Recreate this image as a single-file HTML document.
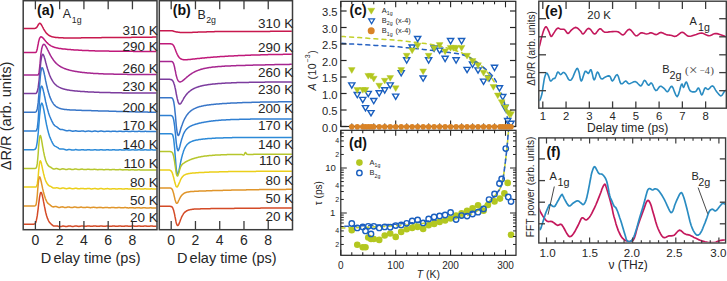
<!DOCTYPE html>
<html><head><meta charset="utf-8"><title>figure</title>
<style>
html,body{margin:0;padding:0;background:#fff;}
body{width:727px;height:281px;overflow:hidden;}
svg{display:block;}
</style></head>
<body>
<svg width="727" height="281" viewBox="0 0 727 281">
<rect width="727" height="281" fill="#fff"/>
<defs>
<clipPath id="clipA"><rect x="23.9" y="1.4" width="132.4" height="227.6"/></clipPath>
<clipPath id="clipB"><rect x="160" y="1.4" width="131.8" height="227.6"/></clipPath>
<clipPath id="clipC"><rect x="341.4" y="1.9" width="173.8" height="124"/></clipPath>
<clipPath id="clipD"><rect x="341.4" y="130.9" width="174" height="124"/></clipPath>
<clipPath id="clipE"><rect x="539.5" y="1.9" width="186.1" height="105.4"/></clipPath>
<clipPath id="clipF"><rect x="539.5" y="139.3" width="185.4" height="103"/></clipPath>
</defs>
<g clip-path="url(#clipA)">
<polyline points="23.5,28.4 23.9,28.4 24.4,28.4 24.8,28.4 25.3,28.4 25.7,28.4 26.2,28.4 26.6,28.4 27.1,28.4 27.5,28.4 27.9,28.4 28.4,28.4 28.8,28.4 29.3,28.4 29.7,28.4 30.2,28.4 30.6,28.4 31.1,28.4 31.5,28.4 32.0,28.4 32.4,28.4 32.8,28.4 33.3,28.4 33.7,28.4 34.2,28.4 34.6,28.4 35.1,28.3 35.5,28.2 36.0,28.0 36.4,27.7 36.8,27.2 37.3,26.5 37.7,25.8 38.2,25.0 38.6,24.2 39.1,23.7 39.5,23.3 40.0,23.3 40.4,23.5 40.8,24.0 41.3,24.6 41.7,25.4 42.2,26.2 42.6,27.0 43.1,27.9 43.5,28.8 44.0,29.6 44.4,30.3 44.9,31.0 45.3,31.7 45.7,32.3 46.2,32.9 46.6,33.4 47.1,33.8 47.5,34.2 48.0,34.6 48.4,34.9 48.9,35.3 49.3,35.5 49.7,35.8 50.2,36.0 50.6,36.2 51.1,36.4 51.5,36.5 52.0,36.7 52.4,36.8 52.9,36.9 53.3,37.0 53.7,37.1 54.2,37.2 54.6,37.3 55.1,37.3 55.5,37.4 56.0,37.4 56.4,37.5 56.9,37.5 57.3,37.6 57.8,37.6 58.2,37.6 58.6,37.7 59.1,37.7 59.5,37.7 60.0,37.7 60.4,37.8 60.9,37.8 61.3,37.8 61.8,37.8 62.2,37.8 62.6,37.8 63.1,37.8 63.5,37.9 64.0,37.9 64.4,37.9 64.9,37.9 65.3,37.9 65.8,37.9 66.2,37.9 66.6,37.9 67.1,37.9 67.5,37.9 68.0,37.9 68.4,37.9 68.9,37.9 69.3,37.9 69.8,37.9 70.2,37.9 70.7,37.9 71.1,37.9 71.5,37.9 72.0,37.9 72.4,37.9 72.9,37.9 73.3,37.9 73.8,37.9 74.2,37.9 74.7,37.9 75.1,37.9 75.5,37.9 76.0,37.9 76.4,37.9 76.9,37.9 77.3,37.9 77.8,37.9 78.2,37.9 78.7,37.9 79.1,37.9 79.5,37.9 80.0,37.9 80.4,37.9 80.9,37.9 81.3,37.8 81.8,37.8 82.2,37.8 82.7,37.8 83.1,37.8 83.6,37.8 84.0,37.8 84.4,37.8 84.9,37.8 85.3,37.8 85.8,37.8 86.2,37.8 86.7,37.8 87.1,37.8 87.6,37.8 88.0,37.8 88.4,37.8 88.9,37.8 89.3,37.8 89.8,37.8 90.2,37.8 90.7,37.8 91.1,37.8 91.6,37.8 92.0,37.7 92.4,37.7 92.9,37.7 93.3,37.7 93.8,37.7 94.2,37.7 94.7,37.7 95.1,37.7 95.6,37.7 96.0,37.7 96.4,37.7 96.9,37.7 97.3,37.7 97.8,37.7 98.2,37.7 98.7,37.7 99.1,37.7 99.6,37.7 100.0,37.7 100.5,37.7 100.9,37.7 101.3,37.7 101.8,37.6 102.2,37.6 102.7,37.6 103.1,37.6 103.6,37.6 104.0,37.6 104.5,37.6 104.9,37.6 105.3,37.6 105.8,37.6 106.2,37.6 106.7,37.6 107.1,37.6 107.6,37.6 108.0,37.6 108.5,37.6 108.9,37.6 109.3,37.6 109.8,37.6 110.2,37.6 110.7,37.6 111.1,37.6 111.6,37.5 112.0,37.5 112.5,37.5 112.9,37.5 113.4,37.5 113.8,37.5 114.2,37.5 114.7,37.5 115.1,37.5 115.6,37.5 116.0,37.5 116.5,37.5 116.9,37.5 117.4,37.5 117.8,37.5 118.2,37.5 118.7,37.5 119.1,37.5 119.6,37.5 120.0,37.5 120.5,37.5 120.9,37.5 121.4,37.5 121.8,37.4 122.2,37.4 122.7,37.4 123.1,37.4 123.6,37.4 124.0,37.4 124.5,37.4 124.9,37.4 125.4,37.4 125.8,37.4 126.3,37.4 126.7,37.4 127.1,37.4 127.6,37.4 128.0,37.4 128.5,37.4 128.9,37.4 129.4,37.4 129.8,37.4 130.3,37.4 130.7,37.4 131.1,37.4 131.6,37.3 132.0,37.3 132.5,37.3 132.9,37.3 133.4,37.3 133.8,37.3 134.3,37.3 134.7,37.3 135.1,37.3 135.6,37.3 136.0,37.3 136.5,37.3 136.9,37.3 137.4,37.3 137.8,37.3 138.3,37.3 138.7,37.3 139.2,37.3 139.6,37.3 140.0,37.3 140.5,37.3 140.9,37.3 141.4,37.3 141.8,37.2 142.3,37.2 142.7,37.2 143.2,37.2 143.6,37.2 144.0,37.2 144.5,37.2 144.9,37.2 145.4,37.2 145.8,37.2 146.3,37.2 146.7,37.2 147.2,37.2 147.6,37.2 148.0,37.2 148.5,37.2 148.9,37.2 149.4,37.2 149.8,37.2 150.3,37.2 150.7,37.2 151.2,37.2 151.6,37.2 152.1,37.2 152.5,37.1 152.9,37.1 153.4,37.1 153.8,37.1 154.3,37.1 154.7,37.1 155.2,37.1 155.6,37.1 156.1,37.1 156.5,37.1" fill="none" stroke="#c8184e" stroke-width="1.5" stroke-linejoin="round" stroke-linecap="round" />
<polyline points="23.5,52.6 23.9,52.6 24.4,52.6 24.8,52.6 25.3,52.6 25.7,52.6 26.2,52.6 26.6,52.6 27.1,52.6 27.5,52.6 27.9,52.6 28.4,52.6 28.8,52.6 29.3,52.6 29.7,52.6 30.2,52.6 30.6,52.6 31.1,52.6 31.5,52.6 32.0,52.6 32.4,52.6 32.8,52.6 33.3,52.6 33.7,52.6 34.2,52.6 34.6,52.6 35.1,52.6 35.5,52.5 36.0,52.3 36.4,51.7 36.8,50.5 37.3,48.7 37.7,46.4 38.2,44.0 38.6,41.7 39.1,39.9 39.5,38.5 40.0,37.6 40.4,37.1 40.8,36.8 41.3,36.8 41.7,37.0 42.2,37.3 42.6,37.6 43.1,38.1 43.5,38.6 44.0,39.1 44.4,39.7 44.9,40.2 45.3,40.8 45.7,41.3 46.2,41.8 46.6,42.3 47.1,42.7 47.5,43.2 48.0,43.6 48.4,44.0 48.9,44.4 49.3,44.7 49.7,45.0 50.2,45.3 50.6,45.6 51.1,45.9 51.5,46.1 52.0,46.3 52.4,46.5 52.9,46.7 53.3,46.9 53.7,47.1 54.2,47.2 54.6,47.4 55.1,47.5 55.5,47.6 56.0,47.7 56.4,47.8 56.9,47.9 57.3,48.0 57.8,48.1 58.2,48.2 58.6,48.3 59.1,48.4 59.5,48.4 60.0,48.5 60.4,48.6 60.9,48.6 61.3,48.7 61.8,48.7 62.2,48.8 62.6,48.9 63.1,48.9 63.5,49.0 64.0,49.0 64.4,49.1 64.9,49.1 65.3,49.1 65.8,49.2 66.2,49.2 66.6,49.3 67.1,49.3 67.5,49.4 68.0,49.4 68.4,49.4 68.9,49.5 69.3,49.5 69.8,49.5 70.2,49.6 70.7,49.6 71.1,49.7 71.5,49.7 72.0,49.7 72.4,49.8 72.9,49.8 73.3,49.8 73.8,49.9 74.2,49.9 74.7,49.9 75.1,49.9 75.5,50.0 76.0,50.0 76.4,50.0 76.9,50.1 77.3,50.1 77.8,50.1 78.2,50.1 78.7,50.2 79.1,50.2 79.5,50.2 80.0,50.2 80.4,50.3 80.9,50.3 81.3,50.3 81.8,50.3 82.2,50.4 82.7,50.4 83.1,50.4 83.6,50.4 84.0,50.4 84.4,50.5 84.9,50.5 85.3,50.5 85.8,50.5 86.2,50.5 86.7,50.6 87.1,50.6 87.6,50.6 88.0,50.6 88.4,50.6 88.9,50.7 89.3,50.7 89.8,50.7 90.2,50.7 90.7,50.7 91.1,50.7 91.6,50.8 92.0,50.8 92.4,50.8 92.9,50.8 93.3,50.8 93.8,50.8 94.2,50.8 94.7,50.8 95.1,50.9 95.6,50.9 96.0,50.9 96.4,50.9 96.9,50.9 97.3,50.9 97.8,50.9 98.2,50.9 98.7,51.0 99.1,51.0 99.6,51.0 100.0,51.0 100.5,51.0 100.9,51.0 101.3,51.0 101.8,51.0 102.2,51.0 102.7,51.0 103.1,51.1 103.6,51.1 104.0,51.1 104.5,51.1 104.9,51.1 105.3,51.1 105.8,51.1 106.2,51.1 106.7,51.1 107.1,51.1 107.6,51.1 108.0,51.1 108.5,51.1 108.9,51.1 109.3,51.2 109.8,51.2 110.2,51.2 110.7,51.2 111.1,51.2 111.6,51.2 112.0,51.2 112.5,51.2 112.9,51.2 113.4,51.2 113.8,51.2 114.2,51.2 114.7,51.2 115.1,51.2 115.6,51.2 116.0,51.2 116.5,51.2 116.9,51.2 117.4,51.2 117.8,51.3 118.2,51.3 118.7,51.3 119.1,51.3 119.6,51.3 120.0,51.3 120.5,51.3 120.9,51.3 121.4,51.3 121.8,51.3 122.2,51.3 122.7,51.3 123.1,51.3 123.6,51.3 124.0,51.3 124.5,51.3 124.9,51.3 125.4,51.3 125.8,51.3 126.3,51.3 126.7,51.3 127.1,51.3 127.6,51.3 128.0,51.3 128.5,51.3 128.9,51.3 129.4,51.3 129.8,51.3 130.3,51.3 130.7,51.3 131.1,51.3 131.6,51.3 132.0,51.3 132.5,51.3 132.9,51.3 133.4,51.4 133.8,51.4 134.3,51.4 134.7,51.4 135.1,51.4 135.6,51.4 136.0,51.4 136.5,51.4 136.9,51.4 137.4,51.4 137.8,51.4 138.3,51.4 138.7,51.4 139.2,51.4 139.6,51.4 140.0,51.4 140.5,51.4 140.9,51.4 141.4,51.4 141.8,51.4 142.3,51.4 142.7,51.4 143.2,51.4 143.6,51.4 144.0,51.4 144.5,51.4 144.9,51.4 145.4,51.4 145.8,51.4 146.3,51.4 146.7,51.4 147.2,51.4 147.6,51.4 148.0,51.4 148.5,51.4 148.9,51.4 149.4,51.4 149.8,51.4 150.3,51.4 150.7,51.4 151.2,51.4 151.6,51.4 152.1,51.4 152.5,51.4 152.9,51.4 153.4,51.4 153.8,51.4 154.3,51.4 154.7,51.4 155.2,51.4 155.6,51.4 156.1,51.4 156.5,51.4" fill="none" stroke="#c0197a" stroke-width="1.5" stroke-linejoin="round" stroke-linecap="round" />
<polyline points="23.5,75.0 23.9,75.0 24.4,75.0 24.8,75.0 25.3,75.0 25.7,75.0 26.2,75.0 26.6,75.0 27.1,75.0 27.5,75.0 27.9,75.0 28.4,75.0 28.8,75.0 29.3,75.0 29.7,75.0 30.2,75.0 30.6,75.0 31.1,75.0 31.5,75.0 32.0,75.0 32.4,75.0 32.8,75.0 33.3,75.0 33.7,75.0 34.2,75.0 34.6,75.0 35.1,75.0 35.5,75.0 36.0,75.0 36.4,75.0 36.8,75.0 37.3,75.0 37.7,75.0 38.2,74.8 38.6,74.1 39.1,72.2 39.5,68.7 40.0,63.9 40.4,59.0 40.8,54.7 41.3,51.3 41.7,48.7 42.2,46.9 42.6,45.6 43.1,44.8 43.5,44.4 44.0,44.3 44.4,44.5 44.9,44.9 45.3,45.4 45.7,46.1 46.2,46.9 46.6,47.7 47.1,48.6 47.5,49.5 48.0,50.4 48.4,51.3 48.9,52.2 49.3,53.1 49.7,54.0 50.2,54.8 50.6,55.6 51.1,56.4 51.5,57.2 52.0,57.9 52.4,58.6 52.9,59.2 53.3,59.9 53.7,60.5 54.2,61.0 54.6,61.6 55.1,62.1 55.5,62.6 56.0,63.1 56.4,63.5 56.9,63.9 57.3,64.3 57.8,64.7 58.2,65.0 58.6,65.4 59.1,65.7 59.5,66.0 60.0,66.3 60.4,66.5 60.9,66.8 61.3,67.1 61.8,67.3 62.2,67.5 62.6,67.7 63.1,67.9 63.5,68.1 64.0,68.3 64.4,68.5 64.9,68.7 65.3,68.8 65.8,69.0 66.2,69.2 66.6,69.3 67.1,69.4 67.5,69.6 68.0,69.7 68.4,69.8 68.9,70.0 69.3,70.1 69.8,70.2 70.2,70.3 70.7,70.4 71.1,70.5 71.5,70.6 72.0,70.7 72.4,70.8 72.9,70.9 73.3,71.0 73.8,71.1 74.2,71.2 74.7,71.3 75.1,71.3 75.5,71.4 76.0,71.5 76.4,71.6 76.9,71.6 77.3,71.7 77.8,71.8 78.2,71.8 78.7,71.9 79.1,72.0 79.5,72.0 80.0,72.1 80.4,72.2 80.9,72.2 81.3,72.3 81.8,72.3 82.2,72.4 82.7,72.4 83.1,72.5 83.6,72.5 84.0,72.6 84.4,72.6 84.9,72.7 85.3,72.7 85.8,72.8 86.2,72.8 86.7,72.8 87.1,72.9 87.6,72.9 88.0,73.0 88.4,73.0 88.9,73.0 89.3,73.1 89.8,73.1 90.2,73.1 90.7,73.2 91.1,73.2 91.6,73.2 92.0,73.3 92.4,73.3 92.9,73.3 93.3,73.4 93.8,73.4 94.2,73.4 94.7,73.4 95.1,73.5 95.6,73.5 96.0,73.5 96.4,73.5 96.9,73.6 97.3,73.6 97.8,73.6 98.2,73.6 98.7,73.7 99.1,73.7 99.6,73.7 100.0,73.7 100.5,73.7 100.9,73.8 101.3,73.8 101.8,73.8 102.2,73.8 102.7,73.8 103.1,73.8 103.6,73.9 104.0,73.9 104.5,73.9 104.9,73.9 105.3,73.9 105.8,73.9 106.2,74.0 106.7,74.0 107.1,74.0 107.6,74.0 108.0,74.0 108.5,74.0 108.9,74.0 109.3,74.0 109.8,74.1 110.2,74.1 110.7,74.1 111.1,74.1 111.6,74.1 112.0,74.1 112.5,74.1 112.9,74.1 113.4,74.1 113.8,74.2 114.2,74.2 114.7,74.2 115.1,74.2 115.6,74.2 116.0,74.2 116.5,74.2 116.9,74.2 117.4,74.2 117.8,74.2 118.2,74.2 118.7,74.2 119.1,74.2 119.6,74.3 120.0,74.3 120.5,74.3 120.9,74.3 121.4,74.3 121.8,74.3 122.2,74.3 122.7,74.3 123.1,74.3 123.6,74.3 124.0,74.3 124.5,74.3 124.9,74.3 125.4,74.3 125.8,74.3 126.3,74.3 126.7,74.3 127.1,74.3 127.6,74.4 128.0,74.4 128.5,74.4 128.9,74.4 129.4,74.4 129.8,74.4 130.3,74.4 130.7,74.4 131.1,74.4 131.6,74.4 132.0,74.4 132.5,74.4 132.9,74.4 133.4,74.4 133.8,74.4 134.3,74.4 134.7,74.4 135.1,74.4 135.6,74.4 136.0,74.4 136.5,74.4 136.9,74.4 137.4,74.4 137.8,74.4 138.3,74.4 138.7,74.4 139.2,74.4 139.6,74.4 140.0,74.4 140.5,74.4 140.9,74.4 141.4,74.4 141.8,74.4 142.3,74.4 142.7,74.5 143.2,74.5 143.6,74.5 144.0,74.5 144.5,74.5 144.9,74.5 145.4,74.5 145.8,74.5 146.3,74.5 146.7,74.5 147.2,74.5 147.6,74.5 148.0,74.5 148.5,74.5 148.9,74.5 149.4,74.5 149.8,74.5 150.3,74.5 150.7,74.5 151.2,74.5 151.6,74.5 152.1,74.5 152.5,74.5 152.9,74.5 153.4,74.5 153.8,74.5 154.3,74.5 154.7,74.5 155.2,74.5 155.6,74.5 156.1,74.5 156.5,74.5" fill="none" stroke="#a62690" stroke-width="1.5" stroke-linejoin="round" stroke-linecap="round" />
<polyline points="23.5,93.6 23.9,93.6 24.4,93.6 24.8,93.6 25.3,93.6 25.7,93.6 26.2,93.6 26.6,93.6 27.1,93.6 27.5,93.6 27.9,93.6 28.4,93.6 28.8,93.6 29.3,93.6 29.7,93.6 30.2,93.6 30.6,93.6 31.1,93.6 31.5,93.6 32.0,93.6 32.4,93.6 32.8,93.6 33.3,93.6 33.7,93.6 34.2,93.6 34.6,93.6 35.1,93.6 35.5,93.5 36.0,93.4 36.4,93.1 36.8,92.5 37.3,91.4 37.7,89.8 38.2,87.4 38.6,84.1 39.1,80.0 39.5,75.4 40.0,70.6 40.4,66.0 40.8,61.9 41.3,58.6 41.7,56.3 42.2,54.9 42.6,54.3 43.1,54.5 43.5,55.1 44.0,56.2 44.4,57.5 44.9,59.0 45.3,60.7 45.7,62.3 46.2,64.0 46.6,65.6 47.1,67.2 47.5,68.8 48.0,70.2 48.4,71.6 48.9,72.9 49.3,74.2 49.7,75.3 50.2,76.4 50.6,77.4 51.1,78.3 51.5,79.2 52.0,80.0 52.4,80.7 52.9,81.4 53.3,82.1 53.7,82.7 54.2,83.2 54.6,83.7 55.1,84.2 55.5,84.6 56.0,85.0 56.4,85.4 56.9,85.8 57.3,86.1 57.8,86.4 58.2,86.7 58.6,86.9 59.1,87.2 59.5,87.4 60.0,87.6 60.4,87.8 60.9,88.0 61.3,88.2 61.8,88.4 62.2,88.5 62.6,88.7 63.1,88.8 63.5,89.0 64.0,89.1 64.4,89.2 64.9,89.3 65.3,89.4 65.8,89.5 66.2,89.6 66.6,89.7 67.1,89.8 67.5,89.9 68.0,90.0 68.4,90.0 68.9,90.1 69.3,90.2 69.8,90.2 70.2,90.3 70.7,90.4 71.1,90.4 71.5,90.5 72.0,90.5 72.4,90.6 72.9,90.7 73.3,90.7 73.8,90.8 74.2,90.8 74.7,90.9 75.1,90.9 75.5,90.9 76.0,91.0 76.4,91.0 76.9,91.1 77.3,91.1 77.8,91.2 78.2,91.2 78.7,91.2 79.1,91.3 79.5,91.3 80.0,91.3 80.4,91.4 80.9,91.4 81.3,91.4 81.8,91.5 82.2,91.5 82.7,91.5 83.1,91.6 83.6,91.6 84.0,91.6 84.4,91.6 84.9,91.7 85.3,91.7 85.8,91.7 86.2,91.8 86.7,91.8 87.1,91.8 87.6,91.8 88.0,91.9 88.4,91.9 88.9,91.9 89.3,91.9 89.8,91.9 90.2,92.0 90.7,92.0 91.1,92.0 91.6,92.0 92.0,92.1 92.4,92.1 92.9,92.1 93.3,92.1 93.8,92.1 94.2,92.2 94.7,92.2 95.1,92.2 95.6,92.2 96.0,92.2 96.4,92.2 96.9,92.3 97.3,92.3 97.8,92.3 98.2,92.3 98.7,92.3 99.1,92.3 99.6,92.4 100.0,92.4 100.5,92.4 100.9,92.4 101.3,92.4 101.8,92.4 102.2,92.4 102.7,92.4 103.1,92.5 103.6,92.5 104.0,92.5 104.5,92.5 104.9,92.5 105.3,92.5 105.8,92.5 106.2,92.5 106.7,92.6 107.1,92.6 107.6,92.6 108.0,92.6 108.5,92.6 108.9,92.6 109.3,92.6 109.8,92.6 110.2,92.6 110.7,92.7 111.1,92.7 111.6,92.7 112.0,92.7 112.5,92.7 112.9,92.7 113.4,92.7 113.8,92.7 114.2,92.7 114.7,92.7 115.1,92.7 115.6,92.7 116.0,92.8 116.5,92.8 116.9,92.8 117.4,92.8 117.8,92.8 118.2,92.8 118.7,92.8 119.1,92.8 119.6,92.8 120.0,92.8 120.5,92.8 120.9,92.8 121.4,92.8 121.8,92.8 122.2,92.9 122.7,92.9 123.1,92.9 123.6,92.9 124.0,92.9 124.5,92.9 124.9,92.9 125.4,92.9 125.8,92.9 126.3,92.9 126.7,92.9 127.1,92.9 127.6,92.9 128.0,92.9 128.5,92.9 128.9,92.9 129.4,92.9 129.8,92.9 130.3,92.9 130.7,93.0 131.1,93.0 131.6,93.0 132.0,93.0 132.5,93.0 132.9,93.0 133.4,93.0 133.8,93.0 134.3,93.0 134.7,93.0 135.1,93.0 135.6,93.0 136.0,93.0 136.5,93.0 136.9,93.0 137.4,93.0 137.8,93.0 138.3,93.0 138.7,93.0 139.2,93.0 139.6,93.0 140.0,93.0 140.5,93.0 140.9,93.0 141.4,93.0 141.8,93.0 142.3,93.0 142.7,93.0 143.2,93.0 143.6,93.0 144.0,93.1 144.5,93.1 144.9,93.1 145.4,93.1 145.8,93.1 146.3,93.1 146.7,93.1 147.2,93.1 147.6,93.1 148.0,93.1 148.5,93.1 148.9,93.1 149.4,93.1 149.8,93.1 150.3,93.1 150.7,93.1 151.2,93.1 151.6,93.1 152.1,93.1 152.5,93.1 152.9,93.1 153.4,93.1 153.8,93.1 154.3,93.1 154.7,93.1 155.2,93.1 155.6,93.1 156.1,93.1 156.5,93.1" fill="none" stroke="#7c3c9e" stroke-width="1.5" stroke-linejoin="round" stroke-linecap="round" />
<polyline points="23.5,112.3 23.9,112.3 24.4,112.3 24.8,112.3 25.3,112.3 25.7,112.3 26.2,112.3 26.6,112.3 27.1,112.3 27.5,112.3 27.9,112.3 28.4,112.3 28.8,112.3 29.3,112.3 29.7,112.3 30.2,112.3 30.6,112.3 31.1,112.3 31.5,112.3 32.0,112.3 32.4,112.3 32.8,112.3 33.3,112.3 33.7,112.3 34.2,112.3 34.6,112.3 35.1,112.2 35.5,112.1 36.0,111.9 36.4,111.4 36.8,110.4 37.3,108.7 37.7,106.1 38.2,102.4 38.6,97.6 39.1,92.1 39.5,86.2 40.0,80.7 40.4,75.8 40.8,72.1 41.3,69.5 41.7,68.1 42.2,67.7 42.6,68.1 43.1,69.2 43.5,70.7 44.0,72.5 44.4,74.5 44.9,76.6 45.3,78.8 45.7,80.9 46.2,83.1 46.6,85.1 47.1,87.0 47.5,88.9 48.0,90.6 48.4,92.2 48.9,93.7 49.3,95.1 49.7,96.4 50.2,97.6 50.6,98.7 51.1,99.7 51.5,100.6 52.0,101.5 52.4,102.2 52.9,102.9 53.3,103.6 53.7,104.2 54.2,104.7 54.6,105.2 55.1,105.6 55.5,106.0 56.0,106.4 56.4,106.7 56.9,107.0 57.3,107.3 57.8,107.5 58.2,107.7 58.6,107.9 59.1,108.1 59.5,108.3 60.0,108.4 60.4,108.6 60.9,108.7 61.3,108.8 61.8,108.9 62.2,109.0 62.6,109.1 63.1,109.2 63.5,109.3 64.0,109.3 64.4,109.4 64.9,109.4 65.3,109.5 65.8,109.6 66.2,109.6 66.6,109.6 67.1,109.7 67.5,109.7 68.0,109.8 68.4,109.8 68.9,109.8 69.3,109.8 69.8,109.9 70.2,109.9 70.7,109.9 71.1,109.9 71.5,110.0 72.0,110.0 72.4,110.0 72.9,110.0 73.3,110.1 73.8,110.1 74.2,110.1 74.7,110.1 75.1,110.1 75.5,110.1 76.0,110.2 76.4,110.2 76.9,110.2 77.3,110.2 77.8,110.2 78.2,110.2 78.7,110.3 79.1,110.3 79.5,110.3 80.0,110.3 80.4,110.3 80.9,110.3 81.3,110.3 81.8,110.4 82.2,110.4 82.7,110.4 83.1,110.4 83.6,110.4 84.0,110.4 84.4,110.4 84.9,110.5 85.3,110.5 85.8,110.5 86.2,110.5 86.7,110.5 87.1,110.5 87.6,110.5 88.0,110.6 88.4,110.6 88.9,110.6 89.3,110.6 89.8,110.6 90.2,110.6 90.7,110.6 91.1,110.6 91.6,110.7 92.0,110.7 92.4,110.7 92.9,110.7 93.3,110.7 93.8,110.7 94.2,110.7 94.7,110.8 95.1,110.8 95.6,110.8 96.0,110.8 96.4,110.8 96.9,110.8 97.3,110.8 97.8,110.8 98.2,110.9 98.7,110.9 99.1,110.9 99.6,110.9 100.0,110.9 100.5,110.9 100.9,110.9 101.3,110.9 101.8,111.0 102.2,111.0 102.7,111.0 103.1,111.0 103.6,111.0 104.0,111.0 104.5,111.0 104.9,111.0 105.3,111.1 105.8,111.1 106.2,111.1 106.7,111.1 107.1,111.1 107.6,111.1 108.0,111.1 108.5,111.1 108.9,111.2 109.3,111.2 109.8,111.2 110.2,111.2 110.7,111.2 111.1,111.2 111.6,111.2 112.0,111.2 112.5,111.3 112.9,111.3 113.4,111.3 113.8,111.3 114.2,111.3 114.7,111.3 115.1,111.3 115.6,111.3 116.0,111.3 116.5,111.4 116.9,111.4 117.4,111.4 117.8,111.4 118.2,111.4 118.7,111.4 119.1,111.4 119.6,111.4 120.0,111.5 120.5,111.5 120.9,111.5 121.4,111.5 121.8,111.5 122.2,111.5 122.7,111.5 123.1,111.5 123.6,111.5 124.0,111.6 124.5,111.6 124.9,111.6 125.4,111.6 125.8,111.6 126.3,111.6 126.7,111.6 127.1,111.6 127.6,111.7 128.0,111.7 128.5,111.7 128.9,111.7 129.4,111.7 129.8,111.7 130.3,111.7 130.7,111.7 131.1,111.7 131.6,111.8 132.0,111.8 132.5,111.8 132.9,111.8 133.4,111.8 133.8,111.8 134.3,111.8 134.7,111.8 135.1,111.8 135.6,111.9 136.0,111.9 136.5,111.9 136.9,111.9 137.4,111.9 137.8,111.9 138.3,111.9 138.7,111.9 139.2,111.9 139.6,112.0 140.0,112.0 140.5,112.0 140.9,112.0 141.4,112.0 141.8,112.0 142.3,112.0 142.7,112.0 143.2,112.0 143.6,112.1 144.0,112.1 144.5,112.1 144.9,112.1 145.4,112.1 145.8,112.1 146.3,112.1 146.7,112.1 147.2,112.1 147.6,112.1 148.0,112.2 148.5,112.2 148.9,112.2 149.4,112.2 149.8,112.2 150.3,112.2 150.7,112.2 151.2,112.2 151.6,112.2 152.1,112.3 152.5,112.3 152.9,112.3 153.4,112.3 153.8,112.3 154.3,112.3 154.7,112.3 155.2,112.3 155.6,112.3 156.1,112.3 156.5,112.4" fill="none" stroke="#3876c8" stroke-width="1.5" stroke-linejoin="round" stroke-linecap="round" />
<polyline points="23.5,131.0 23.9,131.0 24.4,131.0 24.8,131.0 25.3,131.0 25.7,131.0 26.2,131.0 26.6,131.0 27.1,131.0 27.5,131.0 27.9,131.0 28.4,131.0 28.8,131.0 29.3,131.0 29.7,131.0 30.2,131.0 30.6,131.0 31.1,131.0 31.5,131.0 32.0,131.0 32.4,131.0 32.8,131.0 33.3,131.0 33.7,131.0 34.2,131.0 34.6,131.0 35.1,131.0 35.5,131.0 36.0,130.9 36.4,130.5 36.8,129.7 37.3,127.9 37.7,124.7 38.2,119.8 38.6,113.5 39.1,106.5 39.5,99.8 40.0,94.2 40.4,90.1 40.8,87.5 41.3,86.3 41.7,86.1 42.2,86.8 42.6,88.0 43.1,89.6 43.5,91.4 44.0,93.4 44.4,95.5 44.9,97.7 45.3,99.8 45.7,101.9 46.2,103.8 46.6,105.8 47.1,107.6 47.5,109.3 48.0,110.9 48.4,112.4 48.9,113.9 49.3,115.1 49.7,116.2 50.2,117.3 50.6,118.3 51.1,119.3 51.5,120.3 52.0,121.3 52.4,122.2 52.9,123.0 53.3,123.8 53.7,124.5 54.2,125.0 54.6,125.4 55.1,125.8 55.5,126.1 56.0,126.4 56.4,126.6 56.9,126.9 57.3,127.3 57.8,127.6 58.2,128.0 58.6,128.4 59.1,128.7 59.5,129.0 60.0,129.3 60.4,129.4 60.9,129.5 61.3,129.6 61.8,129.6 62.2,129.6 62.6,129.6 63.1,129.7 63.5,129.8 64.0,129.9 64.4,130.1 64.9,130.3 65.3,130.5 65.8,130.6 66.2,130.7 66.6,130.8 67.1,130.8 67.5,130.8 68.0,130.7 68.4,130.6 68.9,130.6 69.3,130.5 69.8,130.6 70.2,130.6 70.7,130.7 71.1,130.9 71.5,131.0 72.0,131.1 72.4,131.2 72.9,131.2 73.3,131.2 73.8,131.1 74.2,131.1 74.7,131.0 75.1,130.9 75.5,130.8 76.0,130.8 76.4,130.9 76.9,131.0 77.3,131.1 77.8,131.2 78.2,131.3 78.7,131.3 79.1,131.3 79.5,131.3 80.0,131.3 80.4,131.2 80.9,131.1 81.3,131.0 81.8,131.0 82.2,131.0 82.7,131.0 83.1,131.0 83.6,131.1 84.0,131.2 84.4,131.3 84.9,131.4 85.3,131.4 85.8,131.4 86.2,131.3 86.7,131.3 87.1,131.2 87.6,131.1 88.0,131.0 88.4,131.0 88.9,131.0 89.3,131.1 89.8,131.2 90.2,131.2 90.7,131.3 91.1,131.4 91.6,131.4 92.0,131.4 92.4,131.4 92.9,131.3 93.3,131.2 93.8,131.2 94.2,131.1 94.7,131.1 95.1,131.1 95.6,131.1 96.0,131.2 96.4,131.3 96.9,131.3 97.3,131.4 97.8,131.4 98.2,131.4 98.7,131.4 99.1,131.3 99.6,131.3 100.0,131.2 100.5,131.1 100.9,131.1 101.3,131.1 101.8,131.1 102.2,131.2 102.7,131.3 103.1,131.3 103.6,131.4 104.0,131.4 104.5,131.4 104.9,131.4 105.3,131.4 105.8,131.3 106.2,131.2 106.7,131.2 107.1,131.2 107.6,131.2 108.0,131.2 108.5,131.2 108.9,131.3 109.3,131.3 109.8,131.4 110.2,131.4 110.7,131.4 111.1,131.4 111.6,131.4 112.0,131.3 112.5,131.3 112.9,131.2 113.4,131.2 113.8,131.2 114.2,131.2 114.7,131.2 115.1,131.3 115.6,131.3 116.0,131.4 116.5,131.4 116.9,131.4 117.4,131.4 117.8,131.4 118.2,131.4 118.7,131.3 119.1,131.3 119.6,131.2 120.0,131.2 120.5,131.2 120.9,131.3 121.4,131.3 121.8,131.4 122.2,131.4 122.7,131.4 123.1,131.4 123.6,131.4 124.0,131.4 124.5,131.4 124.9,131.3 125.4,131.3 125.8,131.3 126.3,131.3 126.7,131.3 127.1,131.3 127.6,131.3 128.0,131.4 128.5,131.4 128.9,131.4 129.4,131.4 129.8,131.4 130.3,131.4 130.7,131.4 131.1,131.4 131.6,131.3 132.0,131.3 132.5,131.3 132.9,131.3 133.4,131.3 133.8,131.3 134.3,131.4 134.7,131.4 135.1,131.4 135.6,131.5 136.0,131.5 136.5,131.4 136.9,131.4 137.4,131.4 137.8,131.4 138.3,131.3 138.7,131.3 139.2,131.3 139.6,131.3 140.0,131.3 140.5,131.4 140.9,131.4 141.4,131.4 141.8,131.5 142.3,131.5 142.7,131.5 143.2,131.4 143.6,131.4 144.0,131.4 144.5,131.4 144.9,131.3 145.4,131.3 145.8,131.3 146.3,131.4 146.7,131.4 147.2,131.4 147.6,131.5 148.0,131.5 148.5,131.5 148.9,131.5 149.4,131.5 149.8,131.4 150.3,131.4 150.7,131.4 151.2,131.4 151.6,131.4 152.1,131.4 152.5,131.4 152.9,131.4 153.4,131.4 153.8,131.5 154.3,131.5 154.7,131.5 155.2,131.5 155.6,131.5 156.1,131.4 156.5,131.4" fill="none" stroke="#2f7fd2" stroke-width="1.5" stroke-linejoin="round" stroke-linecap="round" />
<polyline points="23.5,149.7 23.9,149.7 24.4,149.7 24.8,149.7 25.3,149.7 25.7,149.7 26.2,149.7 26.6,149.7 27.1,149.7 27.5,149.7 27.9,149.7 28.4,149.7 28.8,149.7 29.3,149.7 29.7,149.7 30.2,149.7 30.6,149.7 31.1,149.7 31.5,149.7 32.0,149.7 32.4,149.7 32.8,149.7 33.3,149.7 33.7,149.7 34.2,149.6 34.6,149.5 35.1,149.3 35.5,148.8 36.0,148.0 36.4,146.7 36.8,144.6 37.3,141.6 37.7,137.7 38.2,132.9 38.6,127.6 39.1,121.9 39.5,116.5 40.0,111.8 40.4,107.9 40.8,105.2 41.3,103.6 41.7,103.1 42.2,103.5 42.6,104.7 43.1,106.4 43.5,108.4 44.0,110.7 44.4,113.1 44.9,115.6 45.3,118.1 45.7,120.5 46.2,122.8 46.6,125.0 47.1,127.1 47.5,129.1 48.0,130.9 48.4,132.6 48.9,134.2 49.3,135.5 49.7,136.7 50.2,137.9 50.6,138.9 51.1,140.0 51.5,141.0 52.0,141.9 52.4,142.9 52.9,143.7 53.3,144.4 53.7,145.0 54.2,145.5 54.6,145.9 55.1,146.2 55.5,146.4 56.0,146.6 56.4,146.8 56.9,147.1 57.3,147.3 57.8,147.6 58.2,147.9 58.6,148.3 59.1,148.6 59.5,148.8 60.0,149.0 60.4,149.1 60.9,149.1 61.3,149.1 61.8,149.1 62.2,149.0 62.6,149.0 63.1,149.0 63.5,149.1 64.0,149.2 64.4,149.4 64.9,149.5 65.3,149.7 65.8,149.8 66.2,149.9 66.6,149.9 67.1,149.9 67.5,149.8 68.0,149.7 68.4,149.6 68.9,149.5 69.3,149.5 69.8,149.5 70.2,149.6 70.7,149.7 71.1,149.8 71.5,149.9 72.0,150.0 72.4,150.0 72.9,150.1 73.3,150.0 73.8,150.0 74.2,149.9 74.7,149.8 75.1,149.7 75.5,149.6 76.0,149.6 76.4,149.7 76.9,149.7 77.3,149.8 77.8,149.9 78.2,150.0 78.7,150.1 79.1,150.1 79.5,150.1 80.0,150.0 80.4,149.9 80.9,149.8 81.3,149.7 81.8,149.7 82.2,149.7 82.7,149.7 83.1,149.8 83.6,149.8 84.0,149.9 84.4,150.0 84.9,150.1 85.3,150.1 85.8,150.1 86.2,150.0 86.7,149.9 87.1,149.8 87.6,149.8 88.0,149.7 88.4,149.7 88.9,149.7 89.3,149.8 89.8,149.8 90.2,149.9 90.7,150.0 91.1,150.0 91.6,150.1 92.0,150.0 92.4,150.0 92.9,149.9 93.3,149.9 93.8,149.8 94.2,149.7 94.7,149.7 95.1,149.7 95.6,149.8 96.0,149.8 96.4,149.9 96.9,150.0 97.3,150.0 97.8,150.0 98.2,150.0 98.7,150.0 99.1,149.9 99.6,149.9 100.0,149.8 100.5,149.8 100.9,149.7 101.3,149.7 101.8,149.8 102.2,149.8 102.7,149.9 103.1,149.9 103.6,150.0 104.0,150.0 104.5,150.0 104.9,150.0 105.3,149.9 105.8,149.9 106.2,149.8 106.7,149.8 107.1,149.8 107.6,149.7 108.0,149.8 108.5,149.8 108.9,149.9 109.3,149.9 109.8,150.0 110.2,150.0 110.7,150.0 111.1,150.0 111.6,149.9 112.0,149.9 112.5,149.8 112.9,149.8 113.4,149.8 113.8,149.8 114.2,149.8 114.7,149.8 115.1,149.9 115.6,149.9 116.0,150.0 116.5,150.0 116.9,150.0 117.4,150.0 117.8,149.9 118.2,149.9 118.7,149.9 119.1,149.8 119.6,149.8 120.0,149.8 120.5,149.8 120.9,149.8 121.4,149.9 121.8,149.9 122.2,149.9 122.7,150.0 123.1,150.0 123.6,150.0 124.0,149.9 124.5,149.9 124.9,149.9 125.4,149.8 125.8,149.8 126.3,149.8 126.7,149.8 127.1,149.8 127.6,149.8 128.0,149.9 128.5,149.9 128.9,150.0 129.4,150.0 129.8,150.0 130.3,149.9 130.7,149.9 131.1,149.9 131.6,149.8 132.0,149.8 132.5,149.8 132.9,149.8 133.4,149.8 133.8,149.8 134.3,149.9 134.7,149.9 135.1,149.9 135.6,150.0 136.0,150.0 136.5,149.9 136.9,149.9 137.4,149.9 137.8,149.8 138.3,149.8 138.7,149.8 139.2,149.8 139.6,149.8 140.0,149.8 140.5,149.9 140.9,149.9 141.4,149.9 141.8,150.0 142.3,150.0 142.7,149.9 143.2,149.9 143.6,149.9 144.0,149.9 144.5,149.8 144.9,149.8 145.4,149.8 145.8,149.8 146.3,149.8 146.7,149.9 147.2,149.9 147.6,149.9 148.0,149.9 148.5,149.9 148.9,149.9 149.4,149.9 149.8,149.9 150.3,149.9 150.7,149.8 151.2,149.8 151.6,149.8 152.1,149.8 152.5,149.8 152.9,149.9 153.4,149.9 153.8,149.9 154.3,149.9 154.7,149.9 155.2,149.9 155.6,149.9 156.1,149.9 156.5,149.9" fill="none" stroke="#2c8ad8" stroke-width="1.5" stroke-linejoin="round" stroke-linecap="round" />
<polyline points="23.5,168.4 23.9,168.4 24.4,168.4 24.8,168.4 25.3,168.4 25.7,168.4 26.2,168.4 26.6,168.4 27.1,168.4 27.5,168.4 27.9,168.4 28.4,168.4 28.8,168.4 29.3,168.4 29.7,168.4 30.2,168.4 30.6,168.4 31.1,168.4 31.5,168.4 32.0,168.4 32.4,168.4 32.8,168.4 33.3,168.4 33.7,168.4 34.2,168.4 34.6,168.4 35.1,168.4 35.5,168.3 36.0,168.1 36.4,167.5 36.8,166.1 37.3,163.4 37.7,159.1 38.2,153.5 38.6,147.3 39.1,141.8 39.5,137.9 40.0,135.8 40.4,135.5 40.8,136.5 41.3,138.5 41.7,140.9 42.2,143.6 42.6,146.3 43.1,148.9 43.5,151.4 44.0,153.6 44.4,155.7 44.9,157.5 45.3,159.1 45.7,160.5 46.2,161.7 46.6,162.8 47.1,163.7 47.5,164.5 48.0,165.2 48.4,165.8 48.9,166.3 49.3,166.5 49.7,166.7 50.2,167.0 50.6,167.2 51.1,167.5 51.5,167.9 52.0,168.2 52.4,168.5 52.9,168.7 53.3,168.9 53.7,169.0 54.2,169.0 54.6,168.9 55.1,168.8 55.5,168.7 56.0,168.6 56.4,168.6 56.9,168.6 57.3,168.7 57.8,168.8 58.2,169.0 58.6,169.2 59.1,169.3 59.5,169.4 60.0,169.4 60.4,169.4 60.9,169.3 61.3,169.1 61.8,169.0 62.2,168.9 62.6,168.8 63.1,168.8 63.5,168.9 64.0,169.0 64.4,169.1 64.9,169.2 65.3,169.4 65.8,169.4 66.2,169.5 66.6,169.4 67.1,169.4 67.5,169.3 68.0,169.1 68.4,169.0 68.9,169.0 69.3,168.9 69.8,169.0 70.2,169.0 70.7,169.2 71.1,169.3 71.5,169.4 72.0,169.5 72.4,169.5 72.9,169.5 73.3,169.4 73.8,169.3 74.2,169.2 74.7,169.1 75.1,169.1 75.5,169.0 76.0,169.0 76.4,169.1 76.9,169.2 77.3,169.3 77.8,169.4 78.2,169.5 78.7,169.6 79.1,169.6 79.5,169.5 80.0,169.4 80.4,169.3 80.9,169.2 81.3,169.2 81.8,169.1 82.2,169.1 82.7,169.2 83.1,169.3 83.6,169.4 84.0,169.5 84.4,169.6 84.9,169.6 85.3,169.6 85.8,169.6 86.2,169.5 86.7,169.4 87.1,169.3 87.6,169.2 88.0,169.2 88.4,169.2 88.9,169.3 89.3,169.3 89.8,169.4 90.2,169.5 90.7,169.6 91.1,169.6 91.6,169.6 92.0,169.6 92.4,169.6 92.9,169.5 93.3,169.4 93.8,169.3 94.2,169.3 94.7,169.3 95.1,169.3 95.6,169.4 96.0,169.5 96.4,169.6 96.9,169.6 97.3,169.7 97.8,169.7 98.2,169.7 98.7,169.6 99.1,169.6 99.6,169.5 100.0,169.4 100.5,169.4 100.9,169.4 101.3,169.4 101.8,169.5 102.2,169.5 102.7,169.6 103.1,169.7 103.6,169.7 104.0,169.7 104.5,169.7 104.9,169.7 105.3,169.6 105.8,169.6 106.2,169.5 106.7,169.5 107.1,169.5 107.6,169.5 108.0,169.5 108.5,169.6 108.9,169.6 109.3,169.7 109.8,169.8 110.2,169.8 110.7,169.8 111.1,169.7 111.6,169.7 112.0,169.6 112.5,169.6 112.9,169.5 113.4,169.5 113.8,169.5 114.2,169.6 114.7,169.6 115.1,169.7 115.6,169.7 116.0,169.8 116.5,169.8 116.9,169.8 117.4,169.8 117.8,169.8 118.2,169.7 118.7,169.7 119.1,169.6 119.6,169.6 120.0,169.6 120.5,169.6 120.9,169.7 121.4,169.7 121.8,169.8 122.2,169.8 122.7,169.9 123.1,169.9 123.6,169.8 124.0,169.8 124.5,169.8 124.9,169.7 125.4,169.7 125.8,169.7 126.3,169.7 126.7,169.7 127.1,169.7 127.6,169.8 128.0,169.8 128.5,169.9 128.9,169.9 129.4,169.9 129.8,169.9 130.3,169.9 130.7,169.8 131.1,169.8 131.6,169.8 132.0,169.7 132.5,169.7 132.9,169.7 133.4,169.8 133.8,169.8 134.3,169.9 134.7,169.9 135.1,169.9 135.6,170.0 136.0,169.9 136.5,169.9 136.9,169.9 137.4,169.9 137.8,169.8 138.3,169.8 138.7,169.8 139.2,169.8 139.6,169.8 140.0,169.9 140.5,169.9 140.9,170.0 141.4,170.0 141.8,170.0 142.3,170.0 142.7,170.0 143.2,169.9 143.6,169.9 144.0,169.9 144.5,169.9 144.9,169.9 145.4,169.9 145.8,169.9 146.3,169.9 146.7,170.0 147.2,170.0 147.6,170.0 148.0,170.0 148.5,170.0 148.9,170.0 149.4,170.0 149.8,170.0 150.3,169.9 150.7,169.9 151.2,169.9 151.6,169.9 152.1,169.9 152.5,170.0 152.9,170.0 153.4,170.0 153.8,170.1 154.3,170.1 154.7,170.1 155.2,170.1 155.6,170.1 156.1,170.0 156.5,170.0" fill="none" stroke="#b6c62c" stroke-width="1.5" stroke-linejoin="round" stroke-linecap="round" />
<polyline points="23.5,187.0 23.9,187.0 24.4,187.0 24.8,187.0 25.3,187.0 25.7,187.0 26.2,187.0 26.6,187.0 27.1,187.0 27.5,187.0 27.9,187.0 28.4,187.0 28.8,187.0 29.3,187.0 29.7,187.0 30.2,187.0 30.6,187.0 31.1,187.0 31.5,187.0 32.0,187.0 32.4,187.0 32.8,187.0 33.3,187.0 33.7,187.0 34.2,187.0 34.6,187.0 35.1,187.0 35.5,187.0 36.0,186.9 36.4,186.5 36.8,185.7 37.3,183.9 37.7,180.8 38.2,176.5 38.6,171.4 39.1,166.7 39.5,163.2 40.0,161.2 40.4,160.8 40.8,161.5 41.3,163.0 41.7,165.0 42.2,167.1 42.6,169.3 43.1,171.4 43.5,173.4 44.0,175.2 44.4,176.9 44.9,178.4 45.3,179.7 45.7,180.8 46.2,181.8 46.6,182.7 47.1,183.5 47.5,184.1 48.0,184.7 48.4,185.2 48.9,185.6 49.3,185.8 49.7,186.0 50.2,186.2 50.6,186.4 51.1,186.7 51.5,186.9 52.0,187.3 52.4,187.5 52.9,187.8 53.3,188.0 53.7,188.1 54.2,188.1 54.6,188.1 55.1,188.0 55.5,187.9 56.0,187.8 56.4,187.7 56.9,187.7 57.3,187.8 57.8,187.9 58.2,188.1 58.6,188.2 59.1,188.4 59.5,188.5 60.0,188.6 60.4,188.5 60.9,188.5 61.3,188.3 61.8,188.2 62.2,188.1 62.6,188.0 63.1,188.0 63.5,188.0 64.0,188.1 64.4,188.3 64.9,188.4 65.3,188.5 65.8,188.6 66.2,188.7 66.6,188.7 67.1,188.6 67.5,188.5 68.0,188.4 68.4,188.3 68.9,188.2 69.3,188.1 69.8,188.2 70.2,188.2 70.7,188.3 71.1,188.5 71.5,188.6 72.0,188.7 72.4,188.7 72.9,188.7 73.3,188.7 73.8,188.6 74.2,188.5 74.7,188.4 75.1,188.3 75.5,188.3 76.0,188.3 76.4,188.3 76.9,188.4 77.3,188.5 77.8,188.7 78.2,188.7 78.7,188.8 79.1,188.8 79.5,188.8 80.0,188.7 80.4,188.6 80.9,188.5 81.3,188.4 81.8,188.4 82.2,188.4 82.7,188.4 83.1,188.5 83.6,188.6 84.0,188.7 84.4,188.8 84.9,188.8 85.3,188.8 85.8,188.8 86.2,188.8 86.7,188.7 87.1,188.6 87.6,188.5 88.0,188.5 88.4,188.5 88.9,188.5 89.3,188.6 89.8,188.6 90.2,188.7 90.7,188.8 91.1,188.9 91.6,188.9 92.0,188.9 92.4,188.8 92.9,188.7 93.3,188.7 93.8,188.6 94.2,188.5 94.7,188.5 95.1,188.5 95.6,188.6 96.0,188.7 96.4,188.8 96.9,188.8 97.3,188.9 97.8,188.9 98.2,188.9 98.7,188.9 99.1,188.8 99.6,188.7 100.0,188.6 100.5,188.6 100.9,188.6 101.3,188.6 101.8,188.6 102.2,188.7 102.7,188.8 103.1,188.9 103.6,188.9 104.0,188.9 104.5,188.9 104.9,188.9 105.3,188.8 105.8,188.8 106.2,188.7 106.7,188.7 107.1,188.6 107.6,188.6 108.0,188.7 108.5,188.7 108.9,188.8 109.3,188.9 109.8,188.9 110.2,188.9 110.7,188.9 111.1,188.9 111.6,188.9 112.0,188.8 112.5,188.8 112.9,188.7 113.4,188.7 113.8,188.7 114.2,188.7 114.7,188.8 115.1,188.8 115.6,188.9 116.0,188.9 116.5,189.0 116.9,189.0 117.4,188.9 117.8,188.9 118.2,188.8 118.7,188.8 119.1,188.7 119.6,188.7 120.0,188.7 120.5,188.7 120.9,188.8 121.4,188.8 121.8,188.9 122.2,188.9 122.7,189.0 123.1,189.0 123.6,189.0 124.0,188.9 124.5,188.9 124.9,188.8 125.4,188.8 125.8,188.8 126.3,188.7 126.7,188.8 127.1,188.8 127.6,188.8 128.0,188.9 128.5,188.9 128.9,189.0 129.4,189.0 129.8,189.0 130.3,188.9 130.7,188.9 131.1,188.9 131.6,188.8 132.0,188.8 132.5,188.8 132.9,188.8 133.4,188.8 133.8,188.9 134.3,188.9 134.7,188.9 135.1,189.0 135.6,189.0 136.0,189.0 136.5,189.0 136.9,188.9 137.4,188.9 137.8,188.8 138.3,188.8 138.7,188.8 139.2,188.8 139.6,188.8 140.0,188.9 140.5,188.9 140.9,188.9 141.4,189.0 141.8,189.0 142.3,189.0 142.7,189.0 143.2,188.9 143.6,188.9 144.0,188.9 144.5,188.8 144.9,188.8 145.4,188.8 145.8,188.8 146.3,188.9 146.7,188.9 147.2,188.9 147.6,189.0 148.0,189.0 148.5,189.0 148.9,189.0 149.4,188.9 149.8,188.9 150.3,188.9 150.7,188.9 151.2,188.8 151.6,188.8 152.1,188.9 152.5,188.9 152.9,188.9 153.4,188.9 153.8,189.0 154.3,189.0 154.7,189.0 155.2,189.0 155.6,189.0 156.1,188.9 156.5,188.9" fill="none" stroke="#ebcf1a" stroke-width="1.5" stroke-linejoin="round" stroke-linecap="round" />
<polyline points="23.5,205.9 23.9,205.9 24.4,205.9 24.8,205.9 25.3,205.9 25.7,205.9 26.2,205.9 26.6,205.9 27.1,205.9 27.5,205.9 27.9,205.9 28.4,205.9 28.8,205.9 29.3,205.9 29.7,205.9 30.2,205.9 30.6,205.9 31.1,205.9 31.5,205.9 32.0,205.9 32.4,205.9 32.8,205.9 33.3,205.9 33.7,205.9 34.2,205.9 34.6,205.9 35.1,205.8 35.5,205.5 36.0,204.8 36.4,203.1 36.8,199.9 37.3,195.3 37.7,189.8 38.2,184.5 38.6,180.4 39.1,177.9 39.5,176.9 40.0,177.2 40.4,178.3 40.8,180.0 41.3,182.0 41.7,184.1 42.2,186.3 42.6,188.4 43.1,190.4 43.5,192.3 44.0,194.0 44.4,195.6 44.9,197.0 45.3,198.3 45.7,199.4 46.2,200.4 46.6,201.3 47.1,202.1 47.5,202.8 48.0,203.4 48.4,203.7 48.9,204.0 49.3,204.3 49.7,204.6 50.2,205.0 50.6,205.4 51.1,205.8 51.5,206.2 52.0,206.5 52.4,206.7 52.9,206.8 53.3,206.9 53.7,206.8 54.2,206.8 54.6,206.6 55.1,206.6 55.5,206.5 56.0,206.5 56.4,206.6 56.9,206.8 57.3,207.0 57.8,207.1 58.2,207.3 58.6,207.4 59.1,207.5 59.5,207.5 60.0,207.4 60.4,207.2 60.9,207.1 61.3,206.9 61.8,206.9 62.2,206.8 62.6,206.9 63.1,207.0 63.5,207.1 64.0,207.3 64.4,207.4 64.9,207.5 65.3,207.6 65.8,207.5 66.2,207.5 66.6,207.3 67.1,207.2 67.5,207.1 68.0,207.0 68.4,206.9 68.9,207.0 69.3,207.0 69.8,207.2 70.2,207.3 70.7,207.4 71.1,207.5 71.5,207.6 72.0,207.6 72.4,207.5 72.9,207.4 73.3,207.3 73.8,207.2 74.2,207.1 74.7,207.0 75.1,207.0 75.5,207.1 76.0,207.2 76.4,207.3 76.9,207.5 77.3,207.6 77.8,207.6 78.2,207.6 78.7,207.6 79.1,207.5 79.5,207.4 80.0,207.2 80.4,207.2 80.9,207.1 81.3,207.1 81.8,207.2 82.2,207.3 82.7,207.4 83.1,207.5 83.6,207.6 84.0,207.6 84.4,207.6 84.9,207.6 85.3,207.5 85.8,207.4 86.2,207.3 86.7,207.2 87.1,207.2 87.6,207.2 88.0,207.2 88.4,207.3 88.9,207.4 89.3,207.5 89.8,207.6 90.2,207.7 90.7,207.7 91.1,207.6 91.6,207.6 92.0,207.5 92.4,207.4 92.9,207.3 93.3,207.3 93.8,207.3 94.2,207.3 94.7,207.4 95.1,207.4 95.6,207.5 96.0,207.6 96.4,207.7 96.9,207.7 97.3,207.7 97.8,207.6 98.2,207.6 98.7,207.5 99.1,207.4 99.6,207.4 100.0,207.3 100.5,207.4 100.9,207.4 101.3,207.5 101.8,207.6 102.2,207.7 102.7,207.7 103.1,207.7 103.6,207.7 104.0,207.7 104.5,207.6 104.9,207.5 105.3,207.5 105.8,207.4 106.2,207.4 106.7,207.4 107.1,207.5 107.6,207.5 108.0,207.6 108.5,207.7 108.9,207.7 109.3,207.8 109.8,207.8 110.2,207.7 110.7,207.7 111.1,207.6 111.6,207.5 112.0,207.5 112.5,207.5 112.9,207.5 113.4,207.5 113.8,207.6 114.2,207.6 114.7,207.7 115.1,207.8 115.6,207.8 116.0,207.8 116.5,207.8 116.9,207.7 117.4,207.7 117.8,207.6 118.2,207.6 118.7,207.5 119.1,207.5 119.6,207.6 120.0,207.6 120.5,207.7 120.9,207.7 121.4,207.8 121.8,207.8 122.2,207.8 122.7,207.8 123.1,207.8 123.6,207.7 124.0,207.7 124.5,207.6 124.9,207.6 125.4,207.6 125.8,207.6 126.3,207.7 126.7,207.7 127.1,207.8 127.6,207.8 128.0,207.9 128.5,207.9 128.9,207.9 129.4,207.8 129.8,207.8 130.3,207.7 130.7,207.7 131.1,207.7 131.6,207.7 132.0,207.7 132.5,207.7 132.9,207.8 133.4,207.8 133.8,207.9 134.3,207.9 134.7,207.9 135.1,207.9 135.6,207.9 136.0,207.8 136.5,207.8 136.9,207.8 137.4,207.7 137.8,207.7 138.3,207.7 138.7,207.8 139.2,207.8 139.6,207.8 140.0,207.9 140.5,207.9 140.9,207.9 141.4,207.9 141.8,207.9 142.3,207.9 142.7,207.8 143.2,207.8 143.6,207.8 144.0,207.8 144.5,207.8 144.9,207.8 145.4,207.8 145.8,207.9 146.3,207.9 146.7,207.9 147.2,208.0 147.6,208.0 148.0,208.0 148.5,207.9 148.9,207.9 149.4,207.9 149.8,207.8 150.3,207.8 150.7,207.8 151.2,207.8 151.6,207.9 152.1,207.9 152.5,207.9 152.9,208.0 153.4,208.0 153.8,208.0 154.3,208.0 154.7,208.0 155.2,207.9 155.6,207.9 156.1,207.9 156.5,207.9" fill="none" stroke="#e0952a" stroke-width="1.5" stroke-linejoin="round" stroke-linecap="round" />
<polyline points="23.5,224.3 23.9,224.3 24.4,224.3 24.8,224.3 25.3,224.3 25.7,224.3 26.2,224.3 26.6,224.3 27.1,224.3 27.5,224.3 27.9,224.3 28.4,224.3 28.8,224.3 29.3,224.3 29.7,224.3 30.2,224.3 30.6,224.3 31.1,224.3 31.5,224.3 32.0,224.3 32.4,224.3 32.8,224.3 33.3,224.3 33.7,224.2 34.2,224.1 34.6,223.9 35.1,223.5 35.5,222.8 36.0,221.8 36.4,220.2 36.8,218.1 37.3,215.4 37.7,212.1 38.2,208.4 38.6,204.5 39.1,200.8 39.5,197.5 40.0,194.9 40.4,193.2 40.8,192.4 41.3,192.5 41.7,193.4 42.2,194.9 42.6,196.8 43.1,199.1 43.5,201.4 44.0,203.8 44.4,206.2 44.9,208.4 45.3,210.5 45.7,212.4 46.2,214.2 46.6,215.8 47.1,217.2 47.5,218.4 48.0,219.5 48.4,220.5 48.9,221.4 49.3,222.0 49.7,222.6 50.2,223.0 50.6,223.5 51.1,224.0 51.5,224.4 52.0,224.8 52.4,225.2 52.9,225.5 53.3,225.8 53.7,226.0 54.2,226.1 54.6,226.1 55.1,226.1 55.5,226.0 56.0,226.0 56.4,226.0 56.9,226.0 57.3,226.0 57.8,226.1 58.2,226.3 58.6,226.4 59.1,226.5 59.5,226.6 60.0,226.6 60.4,226.6 60.9,226.5 61.3,226.4 61.8,226.3 62.2,226.2 62.6,226.1 63.1,226.1 63.5,226.1 64.0,226.2 64.4,226.2 64.9,226.3 65.3,226.4 65.8,226.5 66.2,226.5 66.6,226.5 67.1,226.4 67.5,226.3 68.0,226.2 68.4,226.1 68.9,226.1 69.3,226.0 69.8,226.0 70.2,226.1 70.7,226.1 71.1,226.2 71.5,226.3 72.0,226.4 72.4,226.4 72.9,226.4 73.3,226.4 73.8,226.3 74.2,226.2 74.7,226.1 75.1,226.0 75.5,226.0 76.0,226.0 76.4,226.0 76.9,226.1 77.3,226.2 77.8,226.3 78.2,226.3 78.7,226.4 79.1,226.4 79.5,226.3 80.0,226.3 80.4,226.2 80.9,226.1 81.3,226.0 81.8,226.0 82.2,226.0 82.7,226.0 83.1,226.1 83.6,226.2 84.0,226.2 84.4,226.3 84.9,226.3 85.3,226.3 85.8,226.3 86.2,226.3 86.7,226.2 87.1,226.1 87.6,226.1 88.0,226.0 88.4,226.0 88.9,226.0 89.3,226.1 89.8,226.1 90.2,226.2 90.7,226.3 91.1,226.3 91.6,226.3 92.0,226.3 92.4,226.3 92.9,226.2 93.3,226.1 93.8,226.1 94.2,226.0 94.7,226.0 95.1,226.0 95.6,226.1 96.0,226.1 96.4,226.2 96.9,226.2 97.3,226.3 97.8,226.3 98.2,226.3 98.7,226.3 99.1,226.2 99.6,226.2 100.0,226.1 100.5,226.1 100.9,226.0 101.3,226.0 101.8,226.1 102.2,226.1 102.7,226.2 103.1,226.2 103.6,226.3 104.0,226.3 104.5,226.3 104.9,226.3 105.3,226.2 105.8,226.2 106.2,226.1 106.7,226.1 107.1,226.1 107.6,226.1 108.0,226.1 108.5,226.1 108.9,226.2 109.3,226.2 109.8,226.3 110.2,226.3 110.7,226.3 111.1,226.3 111.6,226.2 112.0,226.2 112.5,226.1 112.9,226.1 113.4,226.1 113.8,226.1 114.2,226.1 114.7,226.1 115.1,226.2 115.6,226.2 116.0,226.2 116.5,226.3 116.9,226.3 117.4,226.2 117.8,226.2 118.2,226.2 118.7,226.1 119.1,226.1 119.6,226.1 120.0,226.1 120.5,226.1 120.9,226.1 121.4,226.2 121.8,226.2 122.2,226.2 122.7,226.2 123.1,226.3 123.6,226.2 124.0,226.2 124.5,226.2 124.9,226.1 125.4,226.1 125.8,226.1 126.3,226.1 126.7,226.1 127.1,226.1 127.6,226.1 128.0,226.2 128.5,226.2 128.9,226.2 129.4,226.2 129.8,226.2 130.3,226.2 130.7,226.2 131.1,226.2 131.6,226.1 132.0,226.1 132.5,226.1 132.9,226.1 133.4,226.1 133.8,226.1 134.3,226.2 134.7,226.2 135.1,226.2 135.6,226.2 136.0,226.2 136.5,226.2 136.9,226.2 137.4,226.2 137.8,226.1 138.3,226.1 138.7,226.1 139.2,226.1 139.6,226.1 140.0,226.1 140.5,226.2 140.9,226.2 141.4,226.2 141.8,226.2 142.3,226.2 142.7,226.2 143.2,226.2 143.6,226.2 144.0,226.1 144.5,226.1 144.9,226.1 145.4,226.1 145.8,226.1 146.3,226.1 146.7,226.2 147.2,226.2 147.6,226.2 148.0,226.2 148.5,226.2 148.9,226.2 149.4,226.2 149.8,226.2 150.3,226.1 150.7,226.1 151.2,226.1 151.6,226.1 152.1,226.1 152.5,226.1 152.9,226.2 153.4,226.2 153.8,226.2 154.3,226.2 154.7,226.2 155.2,226.2 155.6,226.2 156.1,226.2 156.5,226.2" fill="none" stroke="#d44a26" stroke-width="1.5" stroke-linejoin="round" stroke-linecap="round" />
</g>
<g clip-path="url(#clipB)">
<polyline points="160.0,30.8 160.4,30.8 160.9,30.8 161.3,30.8 161.8,30.8 162.2,30.8 162.6,30.8 163.1,30.8 163.5,30.8 164.0,30.8 164.4,30.8 164.9,30.8 165.3,30.8 165.7,30.8 166.2,30.8 166.6,30.8 167.1,30.8 167.5,30.8 167.9,30.8 168.4,30.8 168.8,30.8 169.3,30.8 169.7,30.8 170.2,30.8 170.6,30.8 171.0,30.8 171.5,30.8 171.9,30.8 172.4,30.8 172.8,30.9 173.2,31.0 173.7,31.2 174.1,31.4 174.6,31.5 175.0,31.6 175.5,31.7 175.9,31.8 176.3,31.9 176.8,32.0 177.2,32.1 177.7,32.1 178.1,32.2 178.5,32.2 179.0,32.3 179.4,32.3 179.9,32.4 180.3,32.4 180.7,32.4 181.2,32.4 181.6,32.5 182.1,32.5 182.5,32.5 183.0,32.5 183.4,32.5 183.8,32.5 184.3,32.5 184.7,32.5 185.2,32.5 185.6,32.5 186.0,32.5 186.5,32.5 186.9,32.5 187.4,32.5 187.8,32.5 188.3,32.5 188.7,32.5 189.1,32.5 189.6,32.4 190.0,32.4 190.5,32.4 190.9,32.4 191.3,32.4 191.8,32.4 192.2,32.4 192.7,32.3 193.1,32.3 193.6,32.3 194.0,32.3 194.4,32.3 194.9,32.3 195.3,32.2 195.8,32.2 196.2,32.2 196.6,32.2 197.1,32.2 197.5,32.2 198.0,32.1 198.4,32.1 198.8,32.1 199.3,32.1 199.7,32.1 200.2,32.1 200.6,32.0 201.1,32.0 201.5,32.0 201.9,32.0 202.4,32.0 202.8,32.0 203.3,31.9 203.7,31.9 204.1,31.9 204.6,31.9 205.0,31.9 205.5,31.9 205.9,31.9 206.4,31.9 206.8,31.8 207.2,31.8 207.7,31.8 208.1,31.8 208.6,31.8 209.0,31.8 209.4,31.8 209.9,31.8 210.3,31.7 210.8,31.7 211.2,31.7 211.7,31.7 212.1,31.7 212.5,31.7 213.0,31.7 213.4,31.7 213.9,31.7 214.3,31.7 214.7,31.6 215.2,31.6 215.6,31.6 216.1,31.6 216.5,31.6 216.9,31.6 217.4,31.6 217.8,31.6 218.3,31.6 218.7,31.6 219.2,31.6 219.6,31.6 220.0,31.6 220.5,31.5 220.9,31.5 221.4,31.5 221.8,31.5 222.2,31.5 222.7,31.5 223.1,31.5 223.6,31.5 224.0,31.5 224.5,31.5 224.9,31.5 225.3,31.5 225.8,31.5 226.2,31.5 226.7,31.5 227.1,31.5 227.5,31.5 228.0,31.5 228.4,31.5 228.9,31.5 229.3,31.5 229.8,31.5 230.2,31.4 230.6,31.4 231.1,31.4 231.5,31.4 232.0,31.4 232.4,31.4 232.8,31.4 233.3,31.4 233.7,31.4 234.2,31.4 234.6,31.4 235.1,31.4 235.5,31.4 235.9,31.4 236.4,31.4 236.8,31.4 237.3,31.4 237.7,31.4 238.1,31.4 238.6,31.4 239.0,31.4 239.5,31.4 239.9,31.4 240.3,31.4 240.8,31.4 241.2,31.4 241.7,31.4 242.1,31.4 242.6,31.4 243.0,31.4 243.4,31.4 243.9,31.4 244.3,31.4 244.8,31.4 245.2,31.4 245.6,31.4 246.1,31.4 246.5,31.4 247.0,31.4 247.4,31.4 247.9,31.4 248.3,31.4 248.7,31.4 249.2,31.4 249.6,31.4 250.1,31.4 250.5,31.4 250.9,31.4 251.4,31.4 251.8,31.4 252.3,31.4 252.7,31.4 253.2,31.4 253.6,31.4 254.0,31.4 254.5,31.4 254.9,31.4 255.4,31.4 255.8,31.4 256.2,31.4 256.7,31.4 257.1,31.4 257.6,31.4 258.0,31.4 258.4,31.4 258.9,31.4 259.3,31.4 259.8,31.4 260.2,31.4 260.7,31.4 261.1,31.4 261.5,31.4 262.0,31.4 262.4,31.4 262.9,31.4 263.3,31.4 263.7,31.4 264.2,31.4 264.6,31.4 265.1,31.4 265.5,31.4 266.0,31.4 266.4,31.4 266.8,31.4 267.3,31.4 267.7,31.4 268.2,31.4 268.6,31.4 269.0,31.4 269.5,31.4 269.9,31.4 270.4,31.3 270.8,31.3 271.3,31.3 271.7,31.3 272.1,31.3 272.6,31.3 273.0,31.3 273.5,31.3 273.9,31.3 274.3,31.3 274.8,31.3 275.2,31.3 275.7,31.3 276.1,31.3 276.5,31.3 277.0,31.3 277.4,31.3 277.9,31.3 278.3,31.3 278.8,31.3 279.2,31.3 279.6,31.3 280.1,31.3 280.5,31.3 281.0,31.3 281.4,31.3 281.8,31.3 282.3,31.3 282.7,31.3 283.2,31.3 283.6,31.3 284.1,31.3 284.5,31.3 284.9,31.3 285.4,31.3 285.8,31.3 286.3,31.3 286.7,31.3 287.1,31.3 287.6,31.3 288.0,31.3 288.5,31.3 288.9,31.3 289.4,31.3 289.8,31.3 290.2,31.3 290.7,31.3 291.1,31.3 291.6,31.3 292.0,31.3" fill="none" stroke="#c8184e" stroke-width="1.5" stroke-linejoin="round" stroke-linecap="round" />
<polyline points="160.0,43.8 160.4,43.8 160.9,43.8 161.3,43.8 161.8,43.8 162.2,43.8 162.6,43.8 163.1,43.8 163.5,43.8 164.0,43.8 164.4,43.8 164.9,43.8 165.3,43.8 165.7,43.8 166.2,43.8 166.6,43.8 167.1,43.8 167.5,43.8 167.9,43.8 168.4,43.8 168.8,43.8 169.3,43.8 169.7,43.8 170.2,43.8 170.6,43.8 171.0,43.9 171.5,43.9 171.9,44.1 172.4,44.3 172.8,44.6 173.2,45.1 173.7,45.8 174.1,46.7 174.6,47.7 175.0,48.8 175.5,49.9 175.9,51.1 176.3,52.2 176.8,53.3 177.2,54.3 177.7,55.2 178.1,56.0 178.5,56.6 179.0,57.2 179.4,57.7 179.9,58.2 180.3,58.5 180.7,58.8 181.2,59.0 181.6,59.2 182.1,59.4 182.5,59.5 183.0,59.6 183.4,59.7 183.8,59.7 184.3,59.8 184.7,59.8 185.2,59.8 185.6,59.8 186.0,59.8 186.5,59.7 186.9,59.7 187.4,59.7 187.8,59.6 188.3,59.6 188.7,59.6 189.1,59.5 189.6,59.5 190.0,59.4 190.5,59.4 190.9,59.3 191.3,59.3 191.8,59.2 192.2,59.2 192.7,59.1 193.1,59.1 193.6,59.0 194.0,59.0 194.4,58.9 194.9,58.9 195.3,58.8 195.8,58.8 196.2,58.7 196.6,58.7 197.1,58.6 197.5,58.6 198.0,58.5 198.4,58.5 198.8,58.4 199.3,58.4 199.7,58.4 200.2,58.3 200.6,58.3 201.1,58.2 201.5,58.2 201.9,58.1 202.4,58.1 202.8,58.0 203.3,58.0 203.7,58.0 204.1,57.9 204.6,57.9 205.0,57.8 205.5,57.8 205.9,57.8 206.4,57.7 206.8,57.7 207.2,57.6 207.7,57.6 208.1,57.6 208.6,57.5 209.0,57.5 209.4,57.4 209.9,57.4 210.3,57.4 210.8,57.3 211.2,57.3 211.7,57.3 212.1,57.2 212.5,57.2 213.0,57.2 213.4,57.1 213.9,57.1 214.3,57.1 214.7,57.0 215.2,57.0 215.6,57.0 216.1,56.9 216.5,56.9 216.9,56.9 217.4,56.8 217.8,56.8 218.3,56.8 218.7,56.7 219.2,56.7 219.6,56.7 220.0,56.6 220.5,56.6 220.9,56.6 221.4,56.6 221.8,56.5 222.2,56.5 222.7,56.5 223.1,56.4 223.6,56.4 224.0,56.4 224.5,56.4 224.9,56.3 225.3,56.3 225.8,56.3 226.2,56.3 226.7,56.2 227.1,56.2 227.5,56.2 228.0,56.2 228.4,56.1 228.9,56.1 229.3,56.1 229.8,56.1 230.2,56.0 230.6,56.0 231.1,56.0 231.5,56.0 232.0,55.9 232.4,55.9 232.8,55.9 233.3,55.9 233.7,55.9 234.2,55.8 234.6,55.8 235.1,55.8 235.5,55.8 235.9,55.7 236.4,55.7 236.8,55.7 237.3,55.7 237.7,55.7 238.1,55.6 238.6,55.6 239.0,55.6 239.5,55.6 239.9,55.6 240.3,55.5 240.8,55.5 241.2,55.5 241.7,55.5 242.1,55.5 242.6,55.5 243.0,55.4 243.4,55.4 243.9,55.4 244.3,55.4 244.8,55.4 245.2,55.3 245.6,55.3 246.1,55.3 246.5,55.3 247.0,55.3 247.4,55.3 247.9,55.2 248.3,55.2 248.7,55.2 249.2,55.2 249.6,55.2 250.1,55.2 250.5,55.2 250.9,55.1 251.4,55.1 251.8,55.1 252.3,55.1 252.7,55.1 253.2,55.1 253.6,55.1 254.0,55.0 254.5,55.0 254.9,55.0 255.4,55.0 255.8,55.0 256.2,55.0 256.7,55.0 257.1,54.9 257.6,54.9 258.0,54.9 258.4,54.9 258.9,54.9 259.3,54.9 259.8,54.9 260.2,54.9 260.7,54.8 261.1,54.8 261.5,54.8 262.0,54.8 262.4,54.8 262.9,54.8 263.3,54.8 263.7,54.8 264.2,54.7 264.6,54.7 265.1,54.7 265.5,54.7 266.0,54.7 266.4,54.7 266.8,54.7 267.3,54.7 267.7,54.7 268.2,54.6 268.6,54.6 269.0,54.6 269.5,54.6 269.9,54.6 270.4,54.6 270.8,54.6 271.3,54.6 271.7,54.6 272.1,54.6 272.6,54.6 273.0,54.5 273.5,54.5 273.9,54.5 274.3,54.5 274.8,54.5 275.2,54.5 275.7,54.5 276.1,54.5 276.5,54.5 277.0,54.5 277.4,54.5 277.9,54.4 278.3,54.4 278.8,54.4 279.2,54.4 279.6,54.4 280.1,54.4 280.5,54.4 281.0,54.4 281.4,54.4 281.8,54.4 282.3,54.4 282.7,54.4 283.2,54.3 283.6,54.3 284.1,54.3 284.5,54.3 284.9,54.3 285.4,54.3 285.8,54.3 286.3,54.3 286.7,54.3 287.1,54.3 287.6,54.3 288.0,54.3 288.5,54.3 288.9,54.3 289.4,54.3 289.8,54.2 290.2,54.2 290.7,54.2 291.1,54.2 291.6,54.2 292.0,54.2" fill="none" stroke="#c0197a" stroke-width="1.5" stroke-linejoin="round" stroke-linecap="round" />
<polyline points="160.0,61.5 160.4,61.5 160.9,61.5 161.3,61.5 161.8,61.5 162.2,61.5 162.6,61.5 163.1,61.5 163.5,61.5 164.0,61.5 164.4,61.5 164.9,61.5 165.3,61.5 165.7,61.5 166.2,61.5 166.6,61.5 167.1,61.5 167.5,61.5 167.9,61.5 168.4,61.5 168.8,61.5 169.3,61.5 169.7,61.5 170.2,61.5 170.6,61.5 171.0,61.5 171.5,61.5 171.9,61.6 172.4,61.8 172.8,62.2 173.2,62.9 173.7,63.9 174.1,65.4 174.6,67.3 175.0,69.5 175.5,71.7 175.9,73.9 176.3,75.8 176.8,77.4 177.2,78.7 177.7,79.8 178.1,80.6 178.5,81.1 179.0,81.5 179.4,81.8 179.9,81.9 180.3,81.9 180.7,81.8 181.2,81.6 181.6,81.4 182.1,81.1 182.5,80.8 183.0,80.5 183.4,80.2 183.8,79.8 184.3,79.4 184.7,79.0 185.2,78.6 185.6,78.3 186.0,77.9 186.5,77.5 186.9,77.1 187.4,76.7 187.8,76.4 188.3,76.0 188.7,75.7 189.1,75.3 189.6,75.0 190.0,74.7 190.5,74.3 190.9,74.0 191.3,73.8 191.8,73.5 192.2,73.2 192.7,72.9 193.1,72.7 193.6,72.4 194.0,72.2 194.4,72.0 194.9,71.7 195.3,71.5 195.8,71.3 196.2,71.1 196.6,70.9 197.1,70.7 197.5,70.6 198.0,70.4 198.4,70.2 198.8,70.1 199.3,69.9 199.7,69.8 200.2,69.6 200.6,69.5 201.1,69.3 201.5,69.2 201.9,69.1 202.4,69.0 202.8,68.9 203.3,68.7 203.7,68.6 204.1,68.5 204.6,68.4 205.0,68.3 205.5,68.3 205.9,68.2 206.4,68.1 206.8,68.0 207.2,67.9 207.7,67.8 208.1,67.8 208.6,67.7 209.0,67.6 209.4,67.6 209.9,67.5 210.3,67.4 210.8,67.4 211.2,67.3 211.7,67.3 212.1,67.2 212.5,67.1 213.0,67.1 213.4,67.0 213.9,67.0 214.3,67.0 214.7,66.9 215.2,66.9 215.6,66.8 216.1,66.8 216.5,66.7 216.9,66.7 217.4,66.7 217.8,66.6 218.3,66.6 218.7,66.6 219.2,66.5 219.6,66.5 220.0,66.5 220.5,66.4 220.9,66.4 221.4,66.4 221.8,66.3 222.2,66.3 222.7,66.3 223.1,66.2 223.6,66.2 224.0,66.2 224.5,66.2 224.9,66.1 225.3,66.1 225.8,66.1 226.2,66.1 226.7,66.1 227.1,66.0 227.5,66.0 228.0,66.0 228.4,66.0 228.9,65.9 229.3,65.9 229.8,65.9 230.2,65.9 230.6,65.9 231.1,65.8 231.5,65.8 232.0,65.8 232.4,65.8 232.8,65.8 233.3,65.8 233.7,65.7 234.2,65.7 234.6,65.7 235.1,65.7 235.5,65.7 235.9,65.7 236.4,65.6 236.8,65.6 237.3,65.6 237.7,65.6 238.1,65.6 238.6,65.6 239.0,65.6 239.5,65.5 239.9,65.5 240.3,65.5 240.8,65.5 241.2,65.5 241.7,65.5 242.1,65.5 242.6,65.4 243.0,65.4 243.4,65.4 243.9,65.4 244.3,65.4 244.8,65.4 245.2,65.4 245.6,65.3 246.1,65.3 246.5,65.3 247.0,65.3 247.4,65.3 247.9,65.3 248.3,65.3 248.7,65.3 249.2,65.2 249.6,65.2 250.1,65.2 250.5,65.2 250.9,65.2 251.4,65.2 251.8,65.2 252.3,65.2 252.7,65.2 253.2,65.1 253.6,65.1 254.0,65.1 254.5,65.1 254.9,65.1 255.4,65.1 255.8,65.1 256.2,65.1 256.7,65.1 257.1,65.0 257.6,65.0 258.0,65.0 258.4,65.0 258.9,65.0 259.3,65.0 259.8,65.0 260.2,65.0 260.7,65.0 261.1,64.9 261.5,64.9 262.0,64.9 262.4,64.9 262.9,64.9 263.3,64.9 263.7,64.9 264.2,64.9 264.6,64.9 265.1,64.9 265.5,64.8 266.0,64.8 266.4,64.8 266.8,64.8 267.3,64.8 267.7,64.8 268.2,64.8 268.6,64.8 269.0,64.8 269.5,64.8 269.9,64.7 270.4,64.7 270.8,64.7 271.3,64.7 271.7,64.7 272.1,64.7 272.6,64.7 273.0,64.7 273.5,64.7 273.9,64.7 274.3,64.7 274.8,64.6 275.2,64.6 275.7,64.6 276.1,64.6 276.5,64.6 277.0,64.6 277.4,64.6 277.9,64.6 278.3,64.6 278.8,64.6 279.2,64.6 279.6,64.5 280.1,64.5 280.5,64.5 281.0,64.5 281.4,64.5 281.8,64.5 282.3,64.5 282.7,64.5 283.2,64.5 283.6,64.5 284.1,64.5 284.5,64.5 284.9,64.4 285.4,64.4 285.8,64.4 286.3,64.4 286.7,64.4 287.1,64.4 287.6,64.4 288.0,64.4 288.5,64.4 288.9,64.4 289.4,64.4 289.8,64.3 290.2,64.3 290.7,64.3 291.1,64.3 291.6,64.3 292.0,64.3" fill="none" stroke="#a62690" stroke-width="1.5" stroke-linejoin="round" stroke-linecap="round" />
<polyline points="160.0,79.3 160.4,79.3 160.9,79.3 161.3,79.3 161.8,79.3 162.2,79.3 162.6,79.3 163.1,79.3 163.5,79.3 164.0,79.3 164.4,79.3 164.9,79.3 165.3,79.3 165.7,79.3 166.2,79.3 166.6,79.3 167.1,79.3 167.5,79.3 167.9,79.3 168.4,79.3 168.8,79.3 169.3,79.3 169.7,79.3 170.2,79.4 170.6,79.4 171.0,79.5 171.5,79.7 171.9,80.0 172.4,80.3 172.8,80.9 173.2,81.7 173.7,82.7 174.1,84.0 174.6,85.5 175.0,87.4 175.5,89.5 175.9,91.7 176.3,94.0 176.8,96.3 177.2,98.4 177.7,100.2 178.1,101.7 178.5,102.9 179.0,103.7 179.4,104.1 179.9,104.1 180.3,103.9 180.7,103.5 181.2,102.9 181.6,102.1 182.1,101.4 182.5,100.6 183.0,99.8 183.4,99.0 183.8,98.2 184.3,97.5 184.7,96.8 185.2,96.2 185.6,95.5 186.0,95.0 186.5,94.4 186.9,93.9 187.4,93.4 187.8,92.9 188.3,92.5 188.7,92.1 189.1,91.7 189.6,91.3 190.0,91.0 190.5,90.6 190.9,90.3 191.3,90.0 191.8,89.7 192.2,89.5 192.7,89.2 193.1,89.0 193.6,88.7 194.0,88.5 194.4,88.3 194.9,88.1 195.3,87.9 195.8,87.7 196.2,87.5 196.6,87.4 197.1,87.2 197.5,87.1 198.0,86.9 198.4,86.8 198.8,86.6 199.3,86.5 199.7,86.4 200.2,86.3 200.6,86.1 201.1,86.0 201.5,85.9 201.9,85.8 202.4,85.7 202.8,85.6 203.3,85.5 203.7,85.4 204.1,85.3 204.6,85.3 205.0,85.2 205.5,85.1 205.9,85.0 206.4,85.0 206.8,84.9 207.2,84.8 207.7,84.7 208.1,84.7 208.6,84.6 209.0,84.6 209.4,84.5 209.9,84.4 210.3,84.4 210.8,84.3 211.2,84.3 211.7,84.2 212.1,84.2 212.5,84.1 213.0,84.1 213.4,84.0 213.9,84.0 214.3,83.9 214.7,83.9 215.2,83.9 215.6,83.8 216.1,83.8 216.5,83.7 216.9,83.7 217.4,83.7 217.8,83.6 218.3,83.6 218.7,83.6 219.2,83.5 219.6,83.5 220.0,83.5 220.5,83.4 220.9,83.4 221.4,83.4 221.8,83.3 222.2,83.3 222.7,83.3 223.1,83.3 223.6,83.2 224.0,83.2 224.5,83.2 224.9,83.2 225.3,83.1 225.8,83.1 226.2,83.1 226.7,83.1 227.1,83.0 227.5,83.0 228.0,83.0 228.4,83.0 228.9,82.9 229.3,82.9 229.8,82.9 230.2,82.9 230.6,82.9 231.1,82.9 231.5,82.8 232.0,82.8 232.4,82.8 232.8,82.8 233.3,82.8 233.7,82.7 234.2,82.7 234.6,82.7 235.1,82.7 235.5,82.7 235.9,82.7 236.4,82.7 236.8,82.6 237.3,82.6 237.7,82.6 238.1,82.6 238.6,82.6 239.0,82.6 239.5,82.6 239.9,82.6 240.3,82.5 240.8,82.5 241.2,82.5 241.7,82.5 242.1,82.5 242.6,82.5 243.0,82.5 243.4,82.5 243.9,82.5 244.3,82.4 244.8,82.4 245.2,82.4 245.6,82.4 246.1,82.4 246.5,82.4 247.0,82.4 247.4,82.4 247.9,82.4 248.3,82.4 248.7,82.4 249.2,82.3 249.6,82.3 250.1,82.3 250.5,82.3 250.9,82.3 251.4,82.3 251.8,82.3 252.3,82.3 252.7,82.3 253.2,82.3 253.6,82.3 254.0,82.3 254.5,82.3 254.9,82.3 255.4,82.3 255.8,82.2 256.2,82.2 256.7,82.2 257.1,82.2 257.6,82.2 258.0,82.2 258.4,82.2 258.9,82.2 259.3,82.2 259.8,82.2 260.2,82.2 260.7,82.2 261.1,82.2 261.5,82.2 262.0,82.2 262.4,82.2 262.9,82.2 263.3,82.2 263.7,82.2 264.2,82.2 264.6,82.2 265.1,82.1 265.5,82.1 266.0,82.1 266.4,82.1 266.8,82.1 267.3,82.1 267.7,82.1 268.2,82.1 268.6,82.1 269.0,82.1 269.5,82.1 269.9,82.1 270.4,82.1 270.8,82.1 271.3,82.1 271.7,82.1 272.1,82.1 272.6,82.1 273.0,82.1 273.5,82.1 273.9,82.1 274.3,82.1 274.8,82.1 275.2,82.1 275.7,82.1 276.1,82.1 276.5,82.1 277.0,82.1 277.4,82.1 277.9,82.1 278.3,82.1 278.8,82.1 279.2,82.1 279.6,82.1 280.1,82.1 280.5,82.1 281.0,82.1 281.4,82.0 281.8,82.0 282.3,82.0 282.7,82.0 283.2,82.0 283.6,82.0 284.1,82.0 284.5,82.0 284.9,82.0 285.4,82.0 285.8,82.0 286.3,82.0 286.7,82.0 287.1,82.0 287.6,82.0 288.0,82.0 288.5,82.0 288.9,82.0 289.4,82.0 289.8,82.0 290.2,82.0 290.7,82.0 291.1,82.0 291.6,82.0 292.0,82.0" fill="none" stroke="#7c3c9e" stroke-width="1.5" stroke-linejoin="round" stroke-linecap="round" />
<polyline points="160.0,97.7 160.4,97.7 160.9,97.7 161.3,97.7 161.8,97.7 162.2,97.7 162.6,97.7 163.1,97.7 163.5,97.7 164.0,97.7 164.4,97.7 164.9,97.7 165.3,97.7 165.7,97.7 166.2,97.7 166.6,97.7 167.1,97.7 167.5,97.7 167.9,97.7 168.4,97.7 168.8,97.7 169.3,97.7 169.7,97.7 170.2,97.7 170.6,97.7 171.0,97.8 171.5,97.8 171.9,98.0 172.4,98.3 172.8,99.0 173.2,100.0 173.7,101.7 174.1,104.2 174.6,107.5 175.0,111.6 175.5,116.3 175.9,121.2 176.3,125.8 176.8,129.8 177.2,132.8 177.7,134.7 178.1,135.5 178.5,135.4 179.0,134.7 179.4,133.5 179.9,132.1 180.3,130.5 180.7,129.0 181.2,127.6 181.6,126.2 182.1,124.9 182.5,123.7 183.0,122.5 183.4,121.5 183.8,120.5 184.3,119.5 184.7,118.7 185.2,117.8 185.6,117.1 186.0,116.3 186.5,115.7 186.9,115.0 187.4,114.4 187.8,113.9 188.3,113.4 188.7,112.9 189.1,112.4 189.6,112.0 190.0,111.6 190.5,111.2 190.9,110.8 191.3,110.5 191.8,110.2 192.2,109.9 192.7,109.6 193.1,109.3 193.6,109.1 194.0,108.8 194.4,108.6 194.9,108.4 195.3,108.2 195.8,108.0 196.2,107.8 196.6,107.6 197.1,107.4 197.5,107.3 198.0,107.1 198.4,107.0 198.8,106.9 199.3,106.7 199.7,106.6 200.2,106.5 200.6,106.4 201.1,106.3 201.5,106.2 201.9,106.1 202.4,106.0 202.8,105.9 203.3,105.8 203.7,105.7 204.1,105.6 204.6,105.5 205.0,105.5 205.5,105.4 205.9,105.3 206.4,105.2 206.8,105.2 207.2,105.1 207.7,105.0 208.1,105.0 208.6,104.9 209.0,104.9 209.4,104.8 209.9,104.8 210.3,104.7 210.8,104.7 211.2,104.6 211.7,104.6 212.1,104.5 212.5,104.5 213.0,104.4 213.4,104.4 213.9,104.3 214.3,104.3 214.7,104.2 215.2,104.2 215.6,104.2 216.1,104.1 216.5,104.1 216.9,104.0 217.4,104.0 217.8,104.0 218.3,103.9 218.7,103.9 219.2,103.9 219.6,103.8 220.0,103.8 220.5,103.8 220.9,103.7 221.4,103.7 221.8,103.7 222.2,103.6 222.7,103.6 223.1,103.6 223.6,103.6 224.0,103.5 224.5,103.5 224.9,103.5 225.3,103.4 225.8,103.4 226.2,103.4 226.7,103.4 227.1,103.3 227.5,103.3 228.0,103.3 228.4,103.3 228.9,103.2 229.3,103.2 229.8,103.2 230.2,103.2 230.6,103.1 231.1,103.1 231.5,103.1 232.0,103.1 232.4,103.1 232.8,103.0 233.3,103.0 233.7,103.0 234.2,103.0 234.6,103.0 235.1,102.9 235.5,102.9 235.9,102.9 236.4,102.9 236.8,102.9 237.3,102.8 237.7,102.8 238.1,102.8 238.6,102.8 239.0,102.8 239.5,102.8 239.9,102.7 240.3,102.7 240.8,102.7 241.2,102.7 241.7,102.7 242.1,102.7 242.6,102.6 243.0,102.6 243.4,102.6 243.9,102.6 244.3,102.6 244.8,102.6 245.2,102.5 245.6,102.5 246.1,102.5 246.5,102.5 247.0,102.5 247.4,102.5 247.9,102.5 248.3,102.4 248.7,102.4 249.2,102.4 249.6,102.4 250.1,102.4 250.5,102.4 250.9,102.4 251.4,102.4 251.8,102.3 252.3,102.3 252.7,102.3 253.2,102.3 253.6,102.3 254.0,102.3 254.5,102.3 254.9,102.3 255.4,102.3 255.8,102.2 256.2,102.2 256.7,102.2 257.1,102.2 257.6,102.2 258.0,102.2 258.4,102.2 258.9,102.2 259.3,102.2 259.8,102.2 260.2,102.1 260.7,102.1 261.1,102.1 261.5,102.1 262.0,102.1 262.4,102.1 262.9,102.1 263.3,102.1 263.7,102.1 264.2,102.1 264.6,102.1 265.1,102.0 265.5,102.0 266.0,102.0 266.4,102.0 266.8,102.0 267.3,102.0 267.7,102.0 268.2,102.0 268.6,102.0 269.0,102.0 269.5,102.0 269.9,102.0 270.4,102.0 270.8,102.0 271.3,101.9 271.7,101.9 272.1,101.9 272.6,101.9 273.0,101.9 273.5,101.9 273.9,101.9 274.3,101.9 274.8,101.9 275.2,101.9 275.7,101.9 276.1,101.9 276.5,101.9 277.0,101.9 277.4,101.9 277.9,101.9 278.3,101.8 278.8,101.8 279.2,101.8 279.6,101.8 280.1,101.8 280.5,101.8 281.0,101.8 281.4,101.8 281.8,101.8 282.3,101.8 282.7,101.8 283.2,101.8 283.6,101.8 284.1,101.8 284.5,101.8 284.9,101.8 285.4,101.8 285.8,101.8 286.3,101.8 286.7,101.8 287.1,101.8 287.6,101.7 288.0,101.7 288.5,101.7 288.9,101.7 289.4,101.7 289.8,101.7 290.2,101.7 290.7,101.7 291.1,101.7 291.6,101.7 292.0,101.7" fill="none" stroke="#3876c8" stroke-width="1.5" stroke-linejoin="round" stroke-linecap="round" />
<polyline points="160.0,115.6 160.4,115.6 160.9,115.6 161.3,115.6 161.8,115.6 162.2,115.6 162.6,115.6 163.1,115.6 163.5,115.6 164.0,115.6 164.4,115.6 164.9,115.6 165.3,115.6 165.7,115.6 166.2,115.6 166.6,115.6 167.1,115.6 167.5,115.6 167.9,115.6 168.4,115.6 168.8,115.6 169.3,115.6 169.7,115.6 170.2,115.6 170.6,115.6 171.0,115.6 171.5,115.7 171.9,115.9 172.4,116.3 172.8,116.9 173.2,118.1 173.7,119.9 174.1,122.4 174.6,125.8 175.0,129.9 175.5,134.4 175.9,138.9 176.3,143.1 176.8,146.5 177.2,148.8 177.7,150.2 178.1,150.6 178.5,150.2 179.0,149.2 179.4,147.8 179.9,146.2 180.3,144.5 180.7,142.8 181.2,141.1 181.6,139.5 182.1,138.0 182.5,136.7 183.0,135.4 183.4,134.3 183.8,133.3 184.3,132.4 184.7,131.6 185.2,130.9 185.6,130.3 186.0,129.7 186.5,129.2 186.9,128.7 187.4,128.3 187.8,127.9 188.3,127.6 188.7,127.2 189.1,127.0 189.6,126.7 190.0,126.4 190.5,126.2 190.9,126.0 191.3,125.8 191.8,125.6 192.2,125.4 192.7,125.2 193.1,125.1 193.6,124.9 194.0,124.7 194.4,124.6 194.9,124.4 195.3,124.3 195.8,124.2 196.2,124.0 196.6,123.9 197.1,123.8 197.5,123.7 198.0,123.5 198.4,123.4 198.8,123.3 199.3,123.2 199.7,123.1 200.2,123.0 200.6,122.9 201.1,122.8 201.5,122.7 201.9,122.6 202.4,122.5 202.8,122.4 203.3,122.4 203.7,122.3 204.1,122.2 204.6,122.1 205.0,122.0 205.5,121.9 205.9,121.9 206.4,121.8 206.8,121.7 207.2,121.7 207.7,121.6 208.1,121.5 208.6,121.5 209.0,121.4 209.4,121.3 209.9,121.3 210.3,121.2 210.8,121.2 211.2,121.1 211.7,121.0 212.1,121.0 212.5,120.9 213.0,120.9 213.4,120.8 213.9,120.8 214.3,120.7 214.7,120.7 215.2,120.7 215.6,120.6 216.1,120.6 216.5,120.5 216.9,120.5 217.4,120.5 217.8,120.4 218.3,120.4 218.7,120.3 219.2,120.3 219.6,120.3 220.0,120.2 220.5,120.2 220.9,120.2 221.4,120.1 221.8,120.1 222.2,120.1 222.7,120.0 223.1,120.0 223.6,120.0 224.0,120.0 224.5,119.9 224.9,119.9 225.3,119.9 225.8,119.9 226.2,119.8 226.7,119.8 227.1,119.8 227.5,119.8 228.0,119.8 228.4,119.7 228.9,119.7 229.3,119.7 229.8,119.7 230.2,119.7 230.6,119.6 231.1,119.6 231.5,119.6 232.0,119.6 232.4,119.6 232.8,119.5 233.3,119.5 233.7,119.5 234.2,119.5 234.6,119.5 235.1,119.5 235.5,119.5 235.9,119.4 236.4,119.4 236.8,119.4 237.3,119.4 237.7,119.4 238.1,119.4 238.6,119.4 239.0,119.4 239.5,119.3 239.9,119.3 240.3,119.3 240.8,119.3 241.2,119.3 241.7,119.3 242.1,119.3 242.6,119.3 243.0,119.3 243.4,119.3 243.9,119.3 244.3,119.2 244.8,119.2 245.2,119.2 245.6,119.2 246.1,119.2 246.5,119.2 247.0,119.2 247.4,119.2 247.9,119.2 248.3,119.2 248.7,119.2 249.2,119.2 249.6,119.2 250.1,119.2 250.5,119.1 250.9,119.1 251.4,119.1 251.8,119.1 252.3,119.1 252.7,119.1 253.2,119.1 253.6,119.1 254.0,119.1 254.5,119.1 254.9,119.1 255.4,119.1 255.8,119.1 256.2,119.1 256.7,119.1 257.1,119.1 257.6,119.1 258.0,119.1 258.4,119.1 258.9,119.1 259.3,119.1 259.8,119.1 260.2,119.0 260.7,119.0 261.1,119.0 261.5,119.0 262.0,119.0 262.4,119.0 262.9,119.0 263.3,119.0 263.7,119.0 264.2,119.0 264.6,119.0 265.1,119.0 265.5,119.0 266.0,119.0 266.4,119.0 266.8,119.0 267.3,119.0 267.7,119.0 268.2,119.0 268.6,119.0 269.0,119.0 269.5,119.0 269.9,119.0 270.4,119.0 270.8,119.0 271.3,119.0 271.7,119.0 272.1,119.0 272.6,119.0 273.0,119.0 273.5,119.0 273.9,119.0 274.3,119.0 274.8,119.0 275.2,119.0 275.7,119.0 276.1,119.0 276.5,119.0 277.0,119.0 277.4,119.0 277.9,119.0 278.3,119.0 278.8,119.0 279.2,119.0 279.6,119.0 280.1,119.0 280.5,119.0 281.0,119.0 281.4,119.0 281.8,119.0 282.3,119.0 282.7,119.0 283.2,119.0 283.6,119.0 284.1,119.0 284.5,119.0 284.9,119.0 285.4,119.0 285.8,119.0 286.3,119.0 286.7,118.9 287.1,118.9 287.6,118.9 288.0,118.9 288.5,118.9 288.9,118.9 289.4,118.9 289.8,118.9 290.2,118.9 290.7,118.9 291.1,118.9 291.6,118.9 292.0,118.9" fill="none" stroke="#2f7fd2" stroke-width="1.5" stroke-linejoin="round" stroke-linecap="round" />
<polyline points="160.0,133.8 160.4,133.8 160.9,133.8 161.3,133.8 161.8,133.8 162.2,133.8 162.6,133.8 163.1,133.8 163.5,133.8 164.0,133.8 164.4,133.8 164.9,133.8 165.3,133.8 165.7,133.8 166.2,133.8 166.6,133.8 167.1,133.8 167.5,133.8 167.9,133.8 168.4,133.8 168.8,133.8 169.3,133.8 169.7,133.8 170.2,133.8 170.6,133.8 171.0,133.8 171.5,133.9 171.9,134.0 172.4,134.4 172.8,135.2 173.2,136.7 173.7,139.2 174.1,142.9 174.6,147.8 175.0,153.5 175.5,159.4 175.9,164.8 176.3,169.2 176.8,172.2 177.2,173.8 177.7,174.2 178.1,173.5 178.5,172.2 179.0,170.4 179.4,168.3 179.9,166.1 180.3,163.9 180.7,161.8 181.2,159.8 181.6,157.8 182.1,156.1 182.5,154.4 183.0,153.0 183.4,151.6 183.8,150.4 184.3,149.3 184.7,148.3 185.2,147.5 185.6,146.7 186.0,146.0 186.5,145.4 186.9,144.8 187.4,144.3 187.8,143.9 188.3,143.5 188.7,143.1 189.1,142.8 189.6,142.5 190.0,142.2 190.5,142.0 190.9,141.8 191.3,141.6 191.8,141.4 192.2,141.2 192.7,141.0 193.1,140.9 193.6,140.8 194.0,140.6 194.4,140.5 194.9,140.4 195.3,140.3 195.8,140.2 196.2,140.1 196.6,140.0 197.1,139.9 197.5,139.9 198.0,139.8 198.4,139.7 198.8,139.6 199.3,139.6 199.7,139.5 200.2,139.4 200.6,139.4 201.1,139.3 201.5,139.3 201.9,139.2 202.4,139.2 202.8,139.1 203.3,139.1 203.7,139.0 204.1,139.0 204.6,138.9 205.0,138.9 205.5,138.8 205.9,138.8 206.4,138.8 206.8,138.7 207.2,138.7 207.7,138.6 208.1,138.6 208.6,138.6 209.0,138.5 209.4,138.5 209.9,138.5 210.3,138.4 210.8,138.4 211.2,138.4 211.7,138.4 212.1,138.3 212.5,138.3 213.0,138.3 213.4,138.3 213.9,138.2 214.3,138.2 214.7,138.2 215.2,138.2 215.6,138.1 216.1,138.1 216.5,138.1 216.9,138.1 217.4,138.1 217.8,138.0 218.3,138.0 218.7,138.0 219.2,138.0 219.6,138.0 220.0,138.0 220.5,137.9 220.9,137.9 221.4,137.9 221.8,137.9 222.2,137.9 222.7,137.9 223.1,137.9 223.6,137.8 224.0,137.8 224.5,137.8 224.9,137.8 225.3,137.8 225.8,137.8 226.2,137.8 226.7,137.8 227.1,137.7 227.5,137.7 228.0,137.7 228.4,137.7 228.9,137.7 229.3,137.7 229.8,137.7 230.2,137.7 230.6,137.7 231.1,137.7 231.5,137.7 232.0,137.7 232.4,137.6 232.8,137.6 233.3,137.6 233.7,137.6 234.2,137.6 234.6,137.6 235.1,137.6 235.5,137.6 235.9,137.6 236.4,137.6 236.8,137.6 237.3,137.6 237.7,137.6 238.1,137.6 238.6,137.6 239.0,137.6 239.5,137.6 239.9,137.5 240.3,137.5 240.8,137.5 241.2,137.5 241.7,137.5 242.1,137.5 242.6,137.5 243.0,137.5 243.4,137.5 243.9,137.5 244.3,137.5 244.8,137.5 245.2,137.5 245.6,137.5 246.1,137.5 246.5,137.5 247.0,137.5 247.4,137.5 247.9,137.5 248.3,137.5 248.7,137.5 249.2,137.5 249.6,137.5 250.1,137.5 250.5,137.5 250.9,137.5 251.4,137.5 251.8,137.5 252.3,137.5 252.7,137.5 253.2,137.5 253.6,137.5 254.0,137.5 254.5,137.5 254.9,137.5 255.4,137.5 255.8,137.4 256.2,137.4 256.7,137.4 257.1,137.4 257.6,137.4 258.0,137.4 258.4,137.4 258.9,137.4 259.3,137.4 259.8,137.4 260.2,137.4 260.7,137.4 261.1,137.4 261.5,137.4 262.0,137.4 262.4,137.4 262.9,137.4 263.3,137.4 263.7,137.4 264.2,137.4 264.6,137.4 265.1,137.4 265.5,137.4 266.0,137.4 266.4,137.4 266.8,137.4 267.3,137.4 267.7,137.4 268.2,137.4 268.6,137.4 269.0,137.4 269.5,137.4 269.9,137.4 270.4,137.4 270.8,137.4 271.3,137.4 271.7,137.4 272.1,137.4 272.6,137.4 273.0,137.4 273.5,137.4 273.9,137.4 274.3,137.4 274.8,137.4 275.2,137.4 275.7,137.4 276.1,137.4 276.5,137.4 277.0,137.4 277.4,137.4 277.9,137.4 278.3,137.4 278.8,137.4 279.2,137.4 279.6,137.4 280.1,137.4 280.5,137.4 281.0,137.4 281.4,137.4 281.8,137.4 282.3,137.4 282.7,137.4 283.2,137.4 283.6,137.4 284.1,137.4 284.5,137.4 284.9,137.4 285.4,137.4 285.8,137.4 286.3,137.4 286.7,137.4 287.1,137.4 287.6,137.4 288.0,137.4 288.5,137.4 288.9,137.4 289.4,137.4 289.8,137.4 290.2,137.4 290.7,137.4 291.1,137.4 291.6,137.4 292.0,137.4" fill="none" stroke="#2c8ad8" stroke-width="1.5" stroke-linejoin="round" stroke-linecap="round" />
<polyline points="160.0,151.6 160.4,151.6 160.9,151.6 161.3,151.6 161.8,151.6 162.2,151.6 162.6,151.6 163.1,151.6 163.5,151.6 164.0,151.6 164.4,151.6 164.9,151.6 165.3,151.6 165.7,151.6 166.2,151.6 166.6,151.6 167.1,151.6 167.5,151.6 167.9,151.6 168.4,151.6 168.8,151.6 169.3,151.6 169.7,151.6 170.2,151.6 170.6,151.7 171.0,151.7 171.5,151.9 171.9,152.2 172.4,152.7 172.8,153.5 173.2,154.8 173.7,156.5 174.1,158.8 174.6,161.6 175.0,164.7 175.5,167.9 175.9,171.0 176.3,173.5 176.8,175.2 177.2,176.0 177.7,175.9 178.1,175.1 178.5,173.8 179.0,172.2 179.4,170.5 179.9,169.0 180.3,167.7 180.7,166.7 181.2,165.8 181.6,165.1 182.1,164.6 182.5,164.1 183.0,163.7 183.4,163.4 183.8,163.1 184.3,162.8 184.7,162.5 185.2,162.2 185.6,162.0 186.0,161.7 186.5,161.5 186.9,161.2 187.4,161.0 187.8,160.8 188.3,160.6 188.7,160.4 189.1,160.2 189.6,160.0 190.0,159.8 190.5,159.6 190.9,159.5 191.3,159.3 191.8,159.1 192.2,159.0 192.7,158.8 193.1,158.7 193.6,158.5 194.0,158.4 194.4,158.3 194.9,158.1 195.3,158.0 195.8,157.9 196.2,157.8 196.6,157.7 197.1,157.5 197.5,157.4 198.0,157.3 198.4,157.2 198.8,157.1 199.3,157.0 199.7,157.0 200.2,156.9 200.6,156.8 201.1,156.7 201.5,156.6 201.9,156.6 202.4,156.5 202.8,156.4 203.3,156.3 203.7,156.3 204.1,156.2 204.6,156.1 205.0,156.1 205.5,156.0 205.9,156.0 206.4,155.9 206.8,155.9 207.2,155.8 207.7,155.8 208.1,155.7 208.6,155.7 209.0,155.6 209.4,155.6 209.9,155.5 210.3,155.5 210.8,155.5 211.2,155.4 211.7,155.4 212.1,155.4 212.5,155.3 213.0,155.3 213.4,155.3 213.9,155.2 214.3,155.2 214.7,155.2 215.2,155.1 215.6,155.1 216.1,155.1 216.5,155.1 216.9,155.0 217.4,155.0 217.8,155.0 218.3,155.0 218.7,154.9 219.2,154.9 219.6,154.9 220.0,154.9 220.5,154.9 220.9,154.8 221.4,154.8 221.8,154.8 222.2,154.8 222.7,154.8 223.1,154.8 223.6,154.7 224.0,154.7 224.5,154.7 224.9,154.7 225.3,154.7 225.8,154.7 226.2,154.7 226.7,154.7 227.1,154.6 227.5,154.6 228.0,154.6 228.4,154.6 228.9,154.6 229.3,154.6 229.8,154.6 230.2,154.6 230.6,154.6 231.1,154.6 231.5,154.5 232.0,154.5 232.4,154.5 232.8,154.5 233.3,154.5 233.7,154.5 234.2,154.5 234.6,154.5 235.1,154.5 235.5,154.5 235.9,154.5 236.4,154.5 236.8,154.5 237.3,154.5 237.7,154.5 238.1,154.5 238.6,154.4 239.0,154.4 239.5,154.4 239.9,154.4 240.3,154.4 240.8,154.4 241.2,154.4 241.7,154.5 242.1,154.6 242.6,154.7 243.0,155.0 243.4,155.1 243.9,155.0 244.3,154.3 244.8,153.3 245.2,152.6 245.6,152.5 246.1,153.2 246.5,153.8 247.0,154.2 247.4,154.3 247.9,154.4 248.3,154.4 248.7,154.4 249.2,154.4 249.6,154.4 250.1,154.4 250.5,154.4 250.9,154.4 251.4,154.4 251.8,154.4 252.3,154.4 252.7,154.4 253.2,154.4 253.6,154.3 254.0,154.3 254.5,154.3 254.9,154.3 255.4,154.3 255.8,154.3 256.2,154.3 256.7,154.3 257.1,154.3 257.6,154.3 258.0,154.3 258.4,154.3 258.9,154.3 259.3,154.3 259.8,154.3 260.2,154.3 260.7,154.3 261.1,154.3 261.5,154.3 262.0,154.3 262.4,154.3 262.9,154.3 263.3,154.3 263.7,154.3 264.2,154.3 264.6,154.3 265.1,154.3 265.5,154.3 266.0,154.3 266.4,154.3 266.8,154.3 267.3,154.3 267.7,154.3 268.2,154.3 268.6,154.3 269.0,154.3 269.5,154.3 269.9,154.3 270.4,154.3 270.8,154.3 271.3,154.3 271.7,154.3 272.1,154.3 272.6,154.3 273.0,154.3 273.5,154.3 273.9,154.3 274.3,154.3 274.8,154.3 275.2,154.3 275.7,154.3 276.1,154.3 276.5,154.3 277.0,154.3 277.4,154.3 277.9,154.3 278.3,154.3 278.8,154.3 279.2,154.3 279.6,154.3 280.1,154.3 280.5,154.3 281.0,154.3 281.4,154.3 281.8,154.3 282.3,154.3 282.7,154.3 283.2,154.3 283.6,154.3 284.1,154.3 284.5,154.3 284.9,154.3 285.4,154.3 285.8,154.3 286.3,154.3 286.7,154.3 287.1,154.3 287.6,154.3 288.0,154.3 288.5,154.3 288.9,154.3 289.4,154.3 289.8,154.3 290.2,154.3 290.7,154.3 291.1,154.3 291.6,154.3 292.0,154.3" fill="none" stroke="#b6c62c" stroke-width="1.5" stroke-linejoin="round" stroke-linecap="round" />
<polyline points="160.0,169.9 160.4,169.9 160.9,169.9 161.3,169.9 161.8,169.9 162.2,169.9 162.6,169.9 163.1,169.9 163.5,169.9 164.0,169.9 164.4,169.9 164.9,169.9 165.3,169.9 165.7,169.9 166.2,169.9 166.6,169.9 167.1,169.9 167.5,169.9 167.9,169.9 168.4,169.9 168.8,170.0 169.3,170.0 169.7,170.1 170.2,170.3 170.6,170.5 171.0,170.9 171.5,171.4 171.9,172.2 172.4,173.2 172.8,174.5 173.2,176.0 173.7,177.7 174.1,179.5 174.6,181.4 175.0,183.1 175.5,184.6 175.9,185.8 176.3,186.6 176.8,186.9 177.2,186.9 177.7,186.4 178.1,185.7 178.5,184.7 179.0,183.7 179.4,182.6 179.9,181.5 180.3,180.4 180.7,179.5 181.2,178.6 181.6,177.9 182.1,177.2 182.5,176.7 183.0,176.2 183.4,175.8 183.8,175.4 184.3,175.1 184.7,174.9 185.2,174.6 185.6,174.4 186.0,174.3 186.5,174.1 186.9,174.0 187.4,173.9 187.8,173.8 188.3,173.7 188.7,173.6 189.1,173.5 189.6,173.4 190.0,173.4 190.5,173.3 190.9,173.3 191.3,173.2 191.8,173.2 192.2,173.1 192.7,173.1 193.1,173.0 193.6,173.0 194.0,173.0 194.4,172.9 194.9,172.9 195.3,172.9 195.8,172.8 196.2,172.8 196.6,172.8 197.1,172.7 197.5,172.7 198.0,172.7 198.4,172.7 198.8,172.6 199.3,172.6 199.7,172.6 200.2,172.6 200.6,172.5 201.1,172.5 201.5,172.5 201.9,172.5 202.4,172.4 202.8,172.4 203.3,172.4 203.7,172.4 204.1,172.4 204.6,172.3 205.0,172.3 205.5,172.3 205.9,172.3 206.4,172.3 206.8,172.2 207.2,172.2 207.7,172.2 208.1,172.2 208.6,172.2 209.0,172.2 209.4,172.1 209.9,172.1 210.3,172.1 210.8,172.1 211.2,172.1 211.7,172.1 212.1,172.1 212.5,172.0 213.0,172.0 213.4,172.0 213.9,172.0 214.3,172.0 214.7,172.0 215.2,172.0 215.6,171.9 216.1,171.9 216.5,171.9 216.9,171.9 217.4,171.9 217.8,171.9 218.3,171.9 218.7,171.9 219.2,171.8 219.6,171.8 220.0,171.8 220.5,171.8 220.9,171.8 221.4,171.8 221.8,171.8 222.2,171.8 222.7,171.8 223.1,171.8 223.6,171.7 224.0,171.7 224.5,171.7 224.9,171.7 225.3,171.7 225.8,171.7 226.2,171.7 226.7,171.7 227.1,171.7 227.5,171.7 228.0,171.7 228.4,171.6 228.9,171.6 229.3,171.6 229.8,171.6 230.2,171.6 230.6,171.6 231.1,171.6 231.5,171.6 232.0,171.6 232.4,171.6 232.8,171.6 233.3,171.6 233.7,171.6 234.2,171.6 234.6,171.6 235.1,171.5 235.5,171.5 235.9,171.5 236.4,171.5 236.8,171.5 237.3,171.5 237.7,171.5 238.1,171.5 238.6,171.5 239.0,171.5 239.5,171.5 239.9,171.5 240.3,171.5 240.8,171.5 241.2,171.5 241.7,171.5 242.1,171.5 242.6,171.5 243.0,171.5 243.4,171.4 243.9,171.4 244.3,171.4 244.8,171.4 245.2,171.4 245.6,171.4 246.1,171.4 246.5,171.4 247.0,171.4 247.4,171.4 247.9,171.4 248.3,171.4 248.7,171.4 249.2,171.4 249.6,171.4 250.1,171.4 250.5,171.4 250.9,171.4 251.4,171.4 251.8,171.4 252.3,171.4 252.7,171.4 253.2,171.4 253.6,171.4 254.0,171.4 254.5,171.4 254.9,171.4 255.4,171.4 255.8,171.4 256.2,171.3 256.7,171.3 257.1,171.3 257.6,171.3 258.0,171.3 258.4,171.3 258.9,171.3 259.3,171.3 259.8,171.3 260.2,171.3 260.7,171.3 261.1,171.3 261.5,171.3 262.0,171.3 262.4,171.3 262.9,171.3 263.3,171.3 263.7,171.3 264.2,171.3 264.6,171.3 265.1,171.3 265.5,171.3 266.0,171.3 266.4,171.3 266.8,171.3 267.3,171.3 267.7,171.3 268.2,171.3 268.6,171.3 269.0,171.3 269.5,171.3 269.9,171.3 270.4,171.3 270.8,171.3 271.3,171.3 271.7,171.3 272.1,171.3 272.6,171.3 273.0,171.3 273.5,171.3 273.9,171.3 274.3,171.3 274.8,171.3 275.2,171.3 275.7,171.3 276.1,171.3 276.5,171.3 277.0,171.3 277.4,171.3 277.9,171.3 278.3,171.3 278.8,171.3 279.2,171.3 279.6,171.3 280.1,171.3 280.5,171.3 281.0,171.3 281.4,171.3 281.8,171.3 282.3,171.3 282.7,171.2 283.2,171.2 283.6,171.2 284.1,171.2 284.5,171.2 284.9,171.2 285.4,171.2 285.8,171.2 286.3,171.2 286.7,171.2 287.1,171.2 287.6,171.2 288.0,171.2 288.5,171.2 288.9,171.2 289.4,171.2 289.8,171.2 290.2,171.2 290.7,171.2 291.1,171.2 291.6,171.2 292.0,171.2" fill="none" stroke="#ebcf1a" stroke-width="1.5" stroke-linejoin="round" stroke-linecap="round" />
<polyline points="160.0,188.0 160.4,188.0 160.9,188.0 161.3,188.0 161.8,188.0 162.2,188.0 162.6,188.0 163.1,188.0 163.5,188.0 164.0,188.0 164.4,188.0 164.9,188.0 165.3,188.0 165.7,188.0 166.2,188.0 166.6,188.0 167.1,188.0 167.5,188.0 167.9,188.0 168.4,188.0 168.8,188.0 169.3,188.0 169.7,188.0 170.2,188.1 170.6,188.1 171.0,188.3 171.5,188.5 171.9,189.0 172.4,189.7 172.8,190.7 173.2,192.1 173.7,193.7 174.1,195.6 174.6,197.6 175.0,199.5 175.5,201.1 175.9,202.3 176.3,203.0 176.8,203.3 177.2,203.1 177.7,202.6 178.1,201.8 178.5,200.9 179.0,200.0 179.4,199.1 179.9,198.2 180.3,197.4 180.7,196.7 181.2,196.0 181.6,195.5 182.1,194.9 182.5,194.5 183.0,194.1 183.4,193.8 183.8,193.5 184.3,193.2 184.7,193.0 185.2,192.8 185.6,192.6 186.0,192.5 186.5,192.3 186.9,192.2 187.4,192.1 187.8,192.0 188.3,191.9 188.7,191.9 189.1,191.8 189.6,191.7 190.0,191.7 190.5,191.6 190.9,191.6 191.3,191.6 191.8,191.5 192.2,191.5 192.7,191.5 193.1,191.4 193.6,191.4 194.0,191.4 194.4,191.3 194.9,191.3 195.3,191.3 195.8,191.3 196.2,191.3 196.6,191.2 197.1,191.2 197.5,191.2 198.0,191.2 198.4,191.2 198.8,191.1 199.3,191.1 199.7,191.1 200.2,191.1 200.6,191.1 201.1,191.0 201.5,191.0 201.9,191.0 202.4,191.0 202.8,191.0 203.3,191.0 203.7,190.9 204.1,190.9 204.6,190.9 205.0,190.9 205.5,190.9 205.9,190.9 206.4,190.8 206.8,190.8 207.2,190.8 207.7,190.8 208.1,190.8 208.6,190.8 209.0,190.8 209.4,190.7 209.9,190.7 210.3,190.7 210.8,190.7 211.2,190.7 211.7,190.7 212.1,190.7 212.5,190.6 213.0,190.6 213.4,190.6 213.9,190.6 214.3,190.6 214.7,190.6 215.2,190.6 215.6,190.6 216.1,190.5 216.5,190.5 216.9,190.5 217.4,190.5 217.8,190.5 218.3,190.5 218.7,190.5 219.2,190.4 219.6,190.4 220.0,190.4 220.5,190.4 220.9,190.4 221.4,190.4 221.8,190.4 222.2,190.4 222.7,190.4 223.1,190.3 223.6,190.3 224.0,190.3 224.5,190.3 224.9,190.3 225.3,190.3 225.8,190.3 226.2,190.3 226.7,190.3 227.1,190.2 227.5,190.2 228.0,190.2 228.4,190.2 228.9,190.2 229.3,190.2 229.8,190.2 230.2,190.2 230.6,190.2 231.1,190.2 231.5,190.1 232.0,190.1 232.4,190.1 232.8,190.1 233.3,190.1 233.7,190.1 234.2,190.1 234.6,190.1 235.1,190.1 235.5,190.1 235.9,190.0 236.4,190.0 236.8,190.0 237.3,190.0 237.7,190.0 238.1,190.0 238.6,190.0 239.0,190.0 239.5,190.0 239.9,190.0 240.3,190.0 240.8,189.9 241.2,189.9 241.7,189.9 242.1,189.9 242.6,189.9 243.0,189.9 243.4,189.9 243.9,189.9 244.3,189.9 244.8,189.9 245.2,189.9 245.6,189.9 246.1,189.9 246.5,189.8 247.0,189.8 247.4,189.8 247.9,189.8 248.3,189.8 248.7,189.8 249.2,189.8 249.6,189.8 250.1,189.8 250.5,189.8 250.9,189.8 251.4,189.8 251.8,189.8 252.3,189.7 252.7,189.7 253.2,189.7 253.6,189.7 254.0,189.7 254.5,189.7 254.9,189.7 255.4,189.7 255.8,189.7 256.2,189.7 256.7,189.7 257.1,189.7 257.6,189.7 258.0,189.7 258.4,189.7 258.9,189.7 259.3,189.6 259.8,189.6 260.2,189.6 260.7,189.6 261.1,189.6 261.5,189.6 262.0,189.6 262.4,189.6 262.9,189.6 263.3,189.6 263.7,189.6 264.2,189.6 264.6,189.6 265.1,189.6 265.5,189.6 266.0,189.6 266.4,189.6 266.8,189.5 267.3,189.5 267.7,189.5 268.2,189.5 268.6,189.5 269.0,189.5 269.5,189.5 269.9,189.5 270.4,189.5 270.8,189.5 271.3,189.5 271.7,189.5 272.1,189.5 272.6,189.5 273.0,189.5 273.5,189.5 273.9,189.5 274.3,189.5 274.8,189.5 275.2,189.5 275.7,189.4 276.1,189.4 276.5,189.4 277.0,189.4 277.4,189.4 277.9,189.4 278.3,189.4 278.8,189.4 279.2,189.4 279.6,189.4 280.1,189.4 280.5,189.4 281.0,189.4 281.4,189.4 281.8,189.4 282.3,189.4 282.7,189.4 283.2,189.4 283.6,189.4 284.1,189.4 284.5,189.4 284.9,189.4 285.4,189.4 285.8,189.4 286.3,189.3 286.7,189.3 287.1,189.3 287.6,189.3 288.0,189.3 288.5,189.3 288.9,189.3 289.4,189.3 289.8,189.3 290.2,189.3 290.7,189.3 291.1,189.3 291.6,189.3 292.0,189.3" fill="none" stroke="#e0952a" stroke-width="1.5" stroke-linejoin="round" stroke-linecap="round" />
<polyline points="160.0,206.3 160.4,206.3 160.9,206.3 161.3,206.3 161.8,206.3 162.2,206.3 162.6,206.3 163.1,206.3 163.5,206.3 164.0,206.3 164.4,206.3 164.9,206.3 165.3,206.3 165.7,206.3 166.2,206.3 166.6,206.3 167.1,206.3 167.5,206.3 167.9,206.3 168.4,206.3 168.8,206.3 169.3,206.3 169.7,206.3 170.2,206.3 170.6,206.4 171.0,206.5 171.5,206.6 171.9,206.9 172.4,207.4 172.8,208.1 173.2,209.2 173.7,210.6 174.1,212.3 174.6,214.4 175.0,216.7 175.5,219.0 175.9,221.2 176.3,223.0 176.8,224.4 177.2,225.3 177.7,225.6 178.1,225.4 178.5,224.8 179.0,223.9 179.4,222.8 179.9,221.6 180.3,220.4 180.7,219.3 181.2,218.2 181.6,217.1 182.1,216.2 182.5,215.4 183.0,214.6 183.4,213.9 183.8,213.3 184.3,212.8 184.7,212.4 185.2,211.9 185.6,211.6 186.0,211.3 186.5,211.0 186.9,210.7 187.4,210.5 187.8,210.3 188.3,210.2 188.7,210.0 189.1,209.9 189.6,209.8 190.0,209.7 190.5,209.6 190.9,209.5 191.3,209.4 191.8,209.4 192.2,209.3 192.7,209.3 193.1,209.2 193.6,209.2 194.0,209.1 194.4,209.1 194.9,209.1 195.3,209.0 195.8,209.0 196.2,209.0 196.6,209.0 197.1,209.0 197.5,208.9 198.0,208.9 198.4,208.9 198.8,208.9 199.3,208.9 199.7,208.9 200.2,208.9 200.6,208.8 201.1,208.8 201.5,208.8 201.9,208.8 202.4,208.8 202.8,208.8 203.3,208.8 203.7,208.8 204.1,208.8 204.6,208.7 205.0,208.7 205.5,208.7 205.9,208.7 206.4,208.7 206.8,208.7 207.2,208.7 207.7,208.7 208.1,208.7 208.6,208.7 209.0,208.7 209.4,208.7 209.9,208.7 210.3,208.7 210.8,208.6 211.2,208.6 211.7,208.6 212.1,208.6 212.5,208.6 213.0,208.6 213.4,208.6 213.9,208.6 214.3,208.6 214.7,208.6 215.2,208.6 215.6,208.6 216.1,208.6 216.5,208.6 216.9,208.6 217.4,208.5 217.8,208.5 218.3,208.5 218.7,208.5 219.2,208.5 219.6,208.5 220.0,208.5 220.5,208.5 220.9,208.5 221.4,208.5 221.8,208.5 222.2,208.5 222.7,208.5 223.1,208.5 223.6,208.5 224.0,208.5 224.5,208.5 224.9,208.5 225.3,208.4 225.8,208.4 226.2,208.4 226.7,208.4 227.1,208.4 227.5,208.4 228.0,208.4 228.4,208.4 228.9,208.4 229.3,208.4 229.8,208.4 230.2,208.4 230.6,208.4 231.1,208.4 231.5,208.4 232.0,208.4 232.4,208.4 232.8,208.4 233.3,208.4 233.7,208.4 234.2,208.4 234.6,208.3 235.1,208.3 235.5,208.3 235.9,208.3 236.4,208.3 236.8,208.3 237.3,208.3 237.7,208.3 238.1,208.3 238.6,208.3 239.0,208.3 239.5,208.3 239.9,208.3 240.3,208.3 240.8,208.3 241.2,208.3 241.7,208.3 242.1,208.3 242.6,208.3 243.0,208.3 243.4,208.3 243.9,208.3 244.3,208.3 244.8,208.3 245.2,208.3 245.6,208.3 246.1,208.2 246.5,208.2 247.0,208.2 247.4,208.2 247.9,208.2 248.3,208.2 248.7,208.2 249.2,208.2 249.6,208.2 250.1,208.2 250.5,208.2 250.9,208.2 251.4,208.2 251.8,208.2 252.3,208.2 252.7,208.2 253.2,208.2 253.6,208.2 254.0,208.2 254.5,208.2 254.9,208.2 255.4,208.2 255.8,208.2 256.2,208.2 256.7,208.2 257.1,208.2 257.6,208.2 258.0,208.2 258.4,208.2 258.9,208.2 259.3,208.2 259.8,208.2 260.2,208.2 260.7,208.1 261.1,208.1 261.5,208.1 262.0,208.1 262.4,208.1 262.9,208.1 263.3,208.1 263.7,208.1 264.2,208.1 264.6,208.1 265.1,208.1 265.5,208.1 266.0,208.1 266.4,208.1 266.8,208.1 267.3,208.1 267.7,208.1 268.2,208.1 268.6,208.1 269.0,208.1 269.5,208.1 269.9,208.1 270.4,208.1 270.8,208.1 271.3,208.1 271.7,208.1 272.1,208.1 272.6,208.1 273.0,208.1 273.5,208.1 273.9,208.1 274.3,208.1 274.8,208.1 275.2,208.1 275.7,208.1 276.1,208.1 276.5,208.1 277.0,208.1 277.4,208.1 277.9,208.1 278.3,208.1 278.8,208.1 279.2,208.1 279.6,208.1 280.1,208.1 280.5,208.1 281.0,208.0 281.4,208.0 281.8,208.0 282.3,208.0 282.7,208.0 283.2,208.0 283.6,208.0 284.1,208.0 284.5,208.0 284.9,208.0 285.4,208.0 285.8,208.0 286.3,208.0 286.7,208.0 287.1,208.0 287.6,208.0 288.0,208.0 288.5,208.0 288.9,208.0 289.4,208.0 289.8,208.0 290.2,208.0 290.7,208.0 291.1,208.0 291.6,208.0 292.0,208.0" fill="none" stroke="#d44a26" stroke-width="1.5" stroke-linejoin="round" stroke-linecap="round" />
</g>
<rect x="23.2" y="0.7" width="133.8" height="229" fill="none" stroke="#3c3c3c" stroke-width="1.5"/>
<rect x="159.3" y="0.7" width="133.2" height="229" fill="none" stroke="#3c3c3c" stroke-width="1.5"/>
<line x1="35.4" y1="0.7" x2="35.4" y2="9.3" stroke="#3c3c3c" stroke-width="1.3" />
<line x1="35.4" y1="229.7" x2="35.4" y2="221" stroke="#3c3c3c" stroke-width="1.3" />
<text x="35.4" y="244.9" font-size="14" text-anchor="middle" font-weight="normal" fill="#262626" font-family='"Liberation Sans", sans-serif' >0</text>
<line x1="59.66" y1="0.7" x2="59.66" y2="9.3" stroke="#3c3c3c" stroke-width="1.3" />
<line x1="59.66" y1="229.7" x2="59.66" y2="221" stroke="#3c3c3c" stroke-width="1.3" />
<text x="59.66" y="244.9" font-size="14" text-anchor="middle" font-weight="normal" fill="#262626" font-family='"Liberation Sans", sans-serif' >2</text>
<line x1="83.92" y1="0.7" x2="83.92" y2="9.3" stroke="#3c3c3c" stroke-width="1.3" />
<line x1="83.92" y1="229.7" x2="83.92" y2="221" stroke="#3c3c3c" stroke-width="1.3" />
<text x="83.92" y="244.9" font-size="14" text-anchor="middle" font-weight="normal" fill="#262626" font-family='"Liberation Sans", sans-serif' >4</text>
<line x1="108.18" y1="0.7" x2="108.18" y2="9.3" stroke="#3c3c3c" stroke-width="1.3" />
<line x1="108.18" y1="229.7" x2="108.18" y2="221" stroke="#3c3c3c" stroke-width="1.3" />
<text x="108.18" y="244.9" font-size="14" text-anchor="middle" font-weight="normal" fill="#262626" font-family='"Liberation Sans", sans-serif' >6</text>
<line x1="132.44" y1="0.7" x2="132.44" y2="9.3" stroke="#3c3c3c" stroke-width="1.3" />
<line x1="132.44" y1="229.7" x2="132.44" y2="221" stroke="#3c3c3c" stroke-width="1.3" />
<text x="132.44" y="244.9" font-size="14" text-anchor="middle" font-weight="normal" fill="#262626" font-family='"Liberation Sans", sans-serif' >8</text>
<line x1="171.2" y1="0.7" x2="171.2" y2="9.3" stroke="#3c3c3c" stroke-width="1.3" />
<line x1="171.2" y1="229.7" x2="171.2" y2="221" stroke="#3c3c3c" stroke-width="1.3" />
<text x="171.2" y="244.9" font-size="14" text-anchor="middle" font-weight="normal" fill="#262626" font-family='"Liberation Sans", sans-serif' >0</text>
<line x1="195.46" y1="0.7" x2="195.46" y2="9.3" stroke="#3c3c3c" stroke-width="1.3" />
<line x1="195.46" y1="229.7" x2="195.46" y2="221" stroke="#3c3c3c" stroke-width="1.3" />
<text x="195.46" y="244.9" font-size="14" text-anchor="middle" font-weight="normal" fill="#262626" font-family='"Liberation Sans", sans-serif' >2</text>
<line x1="219.72" y1="0.7" x2="219.72" y2="9.3" stroke="#3c3c3c" stroke-width="1.3" />
<line x1="219.72" y1="229.7" x2="219.72" y2="221" stroke="#3c3c3c" stroke-width="1.3" />
<text x="219.72" y="244.9" font-size="14" text-anchor="middle" font-weight="normal" fill="#262626" font-family='"Liberation Sans", sans-serif' >4</text>
<line x1="243.98" y1="0.7" x2="243.98" y2="9.3" stroke="#3c3c3c" stroke-width="1.3" />
<line x1="243.98" y1="229.7" x2="243.98" y2="221" stroke="#3c3c3c" stroke-width="1.3" />
<text x="243.98" y="244.9" font-size="14" text-anchor="middle" font-weight="normal" fill="#262626" font-family='"Liberation Sans", sans-serif' >6</text>
<line x1="268.24" y1="0.7" x2="268.24" y2="9.3" stroke="#3c3c3c" stroke-width="1.3" />
<line x1="268.24" y1="229.7" x2="268.24" y2="221" stroke="#3c3c3c" stroke-width="1.3" />
<text x="268.24" y="244.9" font-size="14" text-anchor="middle" font-weight="normal" fill="#262626" font-family='"Liberation Sans", sans-serif' >8</text>
<text x="37" y="14.6" font-size="14.2" text-anchor="start" font-weight="bold" fill="#111" font-family='"Liberation Sans", sans-serif' >(a)</text>
<text x="172.7" y="14.8" font-size="14.2" text-anchor="start" font-weight="bold" fill="#111" font-family='"Liberation Sans", sans-serif' >(b)</text>
<text x="62.8" y="18.2" font-size="12.4" text-anchor="start" font-weight="normal" fill="#262626" font-family='"Liberation Sans", sans-serif' >A</text>
<text x="71.8" y="22.5" font-size="8.8" text-anchor="start" font-weight="normal" fill="#262626" font-family='"Liberation Sans", sans-serif' >1g</text>
<text x="197.6" y="18.6" font-size="12.4" text-anchor="start" font-weight="normal" fill="#262626" font-family='"Liberation Sans", sans-serif' >B</text>
<text x="206.2" y="22.6" font-size="8.8" text-anchor="start" font-weight="normal" fill="#262626" font-family='"Liberation Sans", sans-serif' >2g</text>
<text x="157.8" y="34.6" font-size="13.5" text-anchor="end" font-weight="normal" fill="#262626" font-family='"Liberation Sans", sans-serif' >310 K</text>
<text x="157.8" y="50.6" font-size="13.5" text-anchor="end" font-weight="normal" fill="#262626" font-family='"Liberation Sans", sans-serif' >290 K</text>
<text x="157.8" y="72.8" font-size="13.5" text-anchor="end" font-weight="normal" fill="#262626" font-family='"Liberation Sans", sans-serif' >260 K</text>
<text x="157.8" y="91.4" font-size="13.5" text-anchor="end" font-weight="normal" fill="#262626" font-family='"Liberation Sans", sans-serif' >230 K</text>
<text x="157.8" y="112" font-size="13.5" text-anchor="end" font-weight="normal" fill="#262626" font-family='"Liberation Sans", sans-serif' >200 K</text>
<text x="157.8" y="130" font-size="13.5" text-anchor="end" font-weight="normal" fill="#262626" font-family='"Liberation Sans", sans-serif' >170 K</text>
<text x="157.8" y="149.2" font-size="13.5" text-anchor="end" font-weight="normal" fill="#262626" font-family='"Liberation Sans", sans-serif' >140 K</text>
<text x="157.8" y="167.8" font-size="13.5" text-anchor="end" font-weight="normal" fill="#262626" font-family='"Liberation Sans", sans-serif' >110 K</text>
<text x="157.8" y="186.7" font-size="13.5" text-anchor="end" font-weight="normal" fill="#262626" font-family='"Liberation Sans", sans-serif' >80 K</text>
<text x="157.8" y="204.8" font-size="13.5" text-anchor="end" font-weight="normal" fill="#262626" font-family='"Liberation Sans", sans-serif' >50 K</text>
<text x="157.8" y="222.4" font-size="13.5" text-anchor="end" font-weight="normal" fill="#262626" font-family='"Liberation Sans", sans-serif' >20 K</text>
<text x="293.2" y="28.2" font-size="13.5" text-anchor="end" font-weight="normal" fill="#262626" font-family='"Liberation Sans", sans-serif' >310 K</text>
<text x="293.2" y="52.1" font-size="13.5" text-anchor="end" font-weight="normal" fill="#262626" font-family='"Liberation Sans", sans-serif' >290 K</text>
<text x="293.2" y="76.5" font-size="13.5" text-anchor="end" font-weight="normal" fill="#262626" font-family='"Liberation Sans", sans-serif' >260 K</text>
<text x="293.2" y="94.2" font-size="13.5" text-anchor="end" font-weight="normal" fill="#262626" font-family='"Liberation Sans", sans-serif' >230 K</text>
<text x="293.2" y="112.8" font-size="13.5" text-anchor="end" font-weight="normal" fill="#262626" font-family='"Liberation Sans", sans-serif' >200 K</text>
<text x="293.2" y="130.3" font-size="13.5" text-anchor="end" font-weight="normal" fill="#262626" font-family='"Liberation Sans", sans-serif' >170 K</text>
<text x="293.2" y="148.9" font-size="13.5" text-anchor="end" font-weight="normal" fill="#262626" font-family='"Liberation Sans", sans-serif' >140 K</text>
<text x="293.2" y="165.1" font-size="13.5" text-anchor="end" font-weight="normal" fill="#262626" font-family='"Liberation Sans", sans-serif' >110 K</text>
<text x="293.2" y="185.3" font-size="13.5" text-anchor="end" font-weight="normal" fill="#262626" font-family='"Liberation Sans", sans-serif' >80 K</text>
<text x="293.2" y="202.7" font-size="13.5" text-anchor="end" font-weight="normal" fill="#262626" font-family='"Liberation Sans", sans-serif' >50 K</text>
<text x="293.2" y="221.3" font-size="13.5" text-anchor="end" font-weight="normal" fill="#262626" font-family='"Liberation Sans", sans-serif' >20 K</text>
<text x="40.8" y="263.3" font-size="14.5" text-anchor="start" font-weight="normal" fill="#262626" font-family='"Liberation Sans", sans-serif' >D<tspan dx="2.2">elay time (ps)</tspan></text>
<text x="176.9" y="263.3" font-size="14.5" text-anchor="start" font-weight="normal" fill="#262626" font-family='"Liberation Sans", sans-serif' >D<tspan dx="2.2">elay time (ps)</tspan></text>
<text transform="translate(10.9,115.9) rotate(-90)" font-size="14.6" text-anchor="middle" fill="#262626" font-family='"Liberation Sans", sans-serif'>ΔR/R (arb. units)</text>
<g clip-path="url(#clipC)">
<polyline points="340.8,36.4 344.0,36.6 348.3,36.9 353.5,37.3 359.1,37.6 364.7,38.0 370.0,38.4 375.0,38.7 379.9,39.1 384.9,39.4 390.0,39.7 395.0,40.1 400.0,40.6 405.1,41.1 410.4,41.7 415.6,42.3 420.7,43.0 425.6,43.6 430.0,44.3 434.0,45.0 437.6,45.7 440.9,46.4 444.1,47.2 447.1,48.0 450.0,48.8 452.8,49.6 455.4,50.5 457.8,51.3 460.2,52.2 462.6,53.3 465.0,54.5 467.5,55.9 470.1,57.3 472.6,58.9 475.1,60.6 477.6,62.5 480.0,64.5 482.3,66.7 484.6,69.2 486.9,71.8 489.0,74.5 491.1,77.3 493.0,80.0 494.8,82.8 496.4,85.6 497.9,88.5 499.4,91.4 500.7,94.3 502.0,97.0 503.2,99.7 504.3,102.3 505.3,104.8 506.3,107.3 507.2,109.7 508.0,112.0 508.8,114.3 509.4,116.6 510.1,118.8 510.6,120.8 511.1,122.6 511.5,124.0 511.8,125.0 512.1,125.6 512.2,126.0 512.3,126.2 512.4,126.3 512.5,126.5" fill="none" stroke="#c2d02a" stroke-width="1.5" stroke-linejoin="round" stroke-linecap="round" stroke-dasharray="3.9,4.2" stroke-dashoffset="-0.8"/>
<polyline points="340.8,43.3 344.0,43.5 348.3,43.8 353.5,44.1 359.1,44.4 364.7,44.8 370.0,45.1 374.8,45.4 379.4,45.6 384.0,45.9 388.9,46.1 394.1,46.5 400.0,47.0 406.9,47.7 414.8,48.5 423.1,49.4 431.3,50.3 438.8,51.2 445.0,52.0 449.8,52.6 453.7,53.1 456.8,53.5 459.5,54.0 462.1,54.6 464.8,55.5 467.5,56.6 470.1,57.9 472.4,59.3 474.7,60.8 477.0,62.4 479.2,64.0 481.5,65.7 483.8,67.6 486.1,69.5 488.3,71.4 490.2,73.4 492.0,75.3 493.5,77.2 494.7,79.0 495.8,80.8 496.7,82.7 497.6,84.5 498.5,86.5 499.4,88.5 500.3,90.6 501.1,92.7 501.9,94.9 502.6,97.1 503.3,99.3 503.9,101.7 504.5,104.1 505.1,106.7 505.6,109.1 506.0,111.5 506.5,113.7 506.9,115.7 507.4,117.7 507.8,119.6 508.1,121.3 508.4,122.8 508.7,124.0 508.9,124.9 509.0,125.5 509.1,125.9 509.2,126.1 509.3,126.3 509.3,126.5" fill="none" stroke="#2460c2" stroke-width="1.5" stroke-linejoin="round" stroke-linecap="round" stroke-dasharray="3.9,4.2" stroke-dashoffset="-0.8"/>
<polygon points="348.68,82.86 354.88,82.86 351.78,88.14" fill="white" stroke="#1a5fbf" stroke-width="1.4" stroke-linejoin="miter"/>
<polygon points="354.17,92.47 360.37,92.47 357.27,97.74" fill="white" stroke="#1a5fbf" stroke-width="1.4" stroke-linejoin="miter"/>
<polygon points="359.66,97.36 365.86,97.36 362.76,102.64" fill="white" stroke="#1a5fbf" stroke-width="1.4" stroke-linejoin="miter"/>
<polygon points="362.4,105.67 368.61,105.67 365.5,110.94" fill="white" stroke="#1a5fbf" stroke-width="1.4" stroke-linejoin="miter"/>
<polygon points="365.15,91.36 371.35,91.36 368.25,96.64" fill="white" stroke="#1a5fbf" stroke-width="1.4" stroke-linejoin="miter"/>
<polygon points="367.89,110.67 374.1,110.67 371,115.94" fill="white" stroke="#1a5fbf" stroke-width="1.4" stroke-linejoin="miter"/>
<polygon points="370.64,98.47 376.84,98.47 373.74,103.74" fill="white" stroke="#1a5fbf" stroke-width="1.4" stroke-linejoin="miter"/>
<polygon points="376.13,90.77 382.33,90.77 379.23,96.04" fill="white" stroke="#1a5fbf" stroke-width="1.4" stroke-linejoin="miter"/>
<polygon points="381.62,87.77 387.82,87.77 384.72,93.04" fill="white" stroke="#1a5fbf" stroke-width="1.4" stroke-linejoin="miter"/>
<polygon points="387.11,82.86 393.31,82.86 390.21,88.14" fill="white" stroke="#1a5fbf" stroke-width="1.4" stroke-linejoin="miter"/>
<polygon points="392.6,94.17 398.8,94.17 395.7,99.44" fill="white" stroke="#1a5fbf" stroke-width="1.4" stroke-linejoin="miter"/>
<polygon points="398.09,70.67 404.29,70.67 401.19,75.94" fill="white" stroke="#1a5fbf" stroke-width="1.4" stroke-linejoin="miter"/>
<polygon points="403.58,57.77 409.78,57.77 406.68,63.03" fill="white" stroke="#1a5fbf" stroke-width="1.4" stroke-linejoin="miter"/>
<polygon points="409.07,44.97 415.27,44.97 412.17,50.23" fill="white" stroke="#1a5fbf" stroke-width="1.4" stroke-linejoin="miter"/>
<polygon points="414.56,36.47 420.76,36.47 417.66,41.73" fill="white" stroke="#1a5fbf" stroke-width="1.4" stroke-linejoin="miter"/>
<polygon points="420.05,75.97 426.25,75.97 423.15,81.24" fill="white" stroke="#1a5fbf" stroke-width="1.4" stroke-linejoin="miter"/>
<polygon points="425.54,57.77 431.74,57.77 428.64,63.03" fill="white" stroke="#1a5fbf" stroke-width="1.4" stroke-linejoin="miter"/>
<polygon points="431.03,46.06 437.23,46.06 434.13,51.33" fill="white" stroke="#1a5fbf" stroke-width="1.4" stroke-linejoin="miter"/>
<polygon points="436.52,48.16 442.72,48.16 439.62,53.43" fill="white" stroke="#1a5fbf" stroke-width="1.4" stroke-linejoin="miter"/>
<polygon points="442.01,56.27 448.21,56.27 445.11,61.53" fill="white" stroke="#1a5fbf" stroke-width="1.4" stroke-linejoin="miter"/>
<polygon points="447.5,38.56 453.7,38.56 450.6,43.83" fill="white" stroke="#1a5fbf" stroke-width="1.4" stroke-linejoin="miter"/>
<polygon points="452.99,57.77 459.19,57.77 456.09,63.03" fill="white" stroke="#1a5fbf" stroke-width="1.4" stroke-linejoin="miter"/>
<polygon points="458.48,38.56 464.68,38.56 461.58,43.83" fill="white" stroke="#1a5fbf" stroke-width="1.4" stroke-linejoin="miter"/>
<polygon points="463.97,67.36 470.17,67.36 467.07,72.64" fill="white" stroke="#1a5fbf" stroke-width="1.4" stroke-linejoin="miter"/>
<polygon points="469.46,62.07 475.66,62.07 472.56,67.34" fill="white" stroke="#1a5fbf" stroke-width="1.4" stroke-linejoin="miter"/>
<polygon points="474.95,67.86 481.15,67.86 478.05,73.14" fill="white" stroke="#1a5fbf" stroke-width="1.4" stroke-linejoin="miter"/>
<polygon points="480.44,79.17 486.64,79.17 483.54,84.44" fill="white" stroke="#1a5fbf" stroke-width="1.4" stroke-linejoin="miter"/>
<polygon points="485.93,75.97 492.13,75.97 489.03,81.24" fill="white" stroke="#1a5fbf" stroke-width="1.4" stroke-linejoin="miter"/>
<polygon points="491.42,65.27 497.62,65.27 494.52,70.54" fill="white" stroke="#1a5fbf" stroke-width="1.4" stroke-linejoin="miter"/>
<polygon points="496.36,85.77 502.56,85.77 499.46,91.04" fill="white" stroke="#1a5fbf" stroke-width="1.4" stroke-linejoin="miter"/>
<polygon points="499.65,94.56 505.86,94.56 502.75,99.84" fill="white" stroke="#1a5fbf" stroke-width="1.4" stroke-linejoin="miter"/>
<polygon points="501.85,105.27 508.05,105.27 504.95,110.54" fill="white" stroke="#1a5fbf" stroke-width="1.4" stroke-linejoin="miter"/>
<polygon points="504.6,118.56 510.8,118.56 507.7,123.84" fill="white" stroke="#1a5fbf" stroke-width="1.4" stroke-linejoin="miter"/>
<polygon points="507.89,121.27 514.09,121.27 510.99,126.54" fill="white" stroke="#1a5fbf" stroke-width="1.4" stroke-linejoin="miter"/>
<polygon points="348.38,67.61 355.18,67.61 351.78,73.39" fill="#b3c720" stroke="#b3c720" stroke-width="0.4" stroke-linejoin="miter"/>
<polygon points="353.87,87.51 360.67,87.51 357.27,93.29" fill="#b3c720" stroke="#b3c720" stroke-width="0.4" stroke-linejoin="miter"/>
<polygon points="359.36,87.51 366.16,87.51 362.76,93.29" fill="#b3c720" stroke="#b3c720" stroke-width="0.4" stroke-linejoin="miter"/>
<polygon points="362.11,87.51 368.9,87.51 365.5,93.29" fill="#b3c720" stroke="#b3c720" stroke-width="0.4" stroke-linejoin="miter"/>
<polygon points="364.85,73.41 371.65,73.41 368.25,79.19" fill="#b3c720" stroke="#b3c720" stroke-width="0.4" stroke-linejoin="miter"/>
<polygon points="367.6,73.41 374.39,73.41 371,79.19" fill="#b3c720" stroke="#b3c720" stroke-width="0.4" stroke-linejoin="miter"/>
<polygon points="370.34,76.21 377.14,76.21 373.74,81.99" fill="#b3c720" stroke="#b3c720" stroke-width="0.4" stroke-linejoin="miter"/>
<polygon points="375.83,83.21 382.63,83.21 379.23,88.99" fill="#b3c720" stroke="#b3c720" stroke-width="0.4" stroke-linejoin="miter"/>
<polygon points="381.32,78.31 388.12,78.31 384.72,84.09" fill="#b3c720" stroke="#b3c720" stroke-width="0.4" stroke-linejoin="miter"/>
<polygon points="386.81,75.51 393.61,75.51 390.21,81.29" fill="#b3c720" stroke="#b3c720" stroke-width="0.4" stroke-linejoin="miter"/>
<polygon points="392.3,85.81 399.1,85.81 395.7,91.59" fill="#b3c720" stroke="#b3c720" stroke-width="0.4" stroke-linejoin="miter"/>
<polygon points="397.79,67.61 404.59,67.61 401.19,73.39" fill="#b3c720" stroke="#b3c720" stroke-width="0.4" stroke-linejoin="miter"/>
<polygon points="403.28,53.31 410.08,53.31 406.68,59.09" fill="#b3c720" stroke="#b3c720" stroke-width="0.4" stroke-linejoin="miter"/>
<polygon points="408.77,47.91 415.57,47.91 412.17,53.69" fill="#b3c720" stroke="#b3c720" stroke-width="0.4" stroke-linejoin="miter"/>
<polygon points="414.26,43.21 421.06,43.21 417.66,48.99" fill="#b3c720" stroke="#b3c720" stroke-width="0.4" stroke-linejoin="miter"/>
<polygon points="419.75,68.91 426.55,68.91 423.15,74.69" fill="#b3c720" stroke="#b3c720" stroke-width="0.4" stroke-linejoin="miter"/>
<polygon points="425.24,53.31 432.04,53.31 428.64,59.09" fill="#b3c720" stroke="#b3c720" stroke-width="0.4" stroke-linejoin="miter"/>
<polygon points="430.73,45.81 437.53,45.81 434.13,51.59" fill="#b3c720" stroke="#b3c720" stroke-width="0.4" stroke-linejoin="miter"/>
<polygon points="436.22,42.61 443.02,42.61 439.62,48.39" fill="#b3c720" stroke="#b3c720" stroke-width="0.4" stroke-linejoin="miter"/>
<polygon points="441.71,49.01 448.51,49.01 445.11,54.79" fill="#b3c720" stroke="#b3c720" stroke-width="0.4" stroke-linejoin="miter"/>
<polygon points="447.2,45.41 454,45.41 450.6,51.19" fill="#b3c720" stroke="#b3c720" stroke-width="0.4" stroke-linejoin="miter"/>
<polygon points="449.95,45.41 456.75,45.41 453.35,51.19" fill="#b3c720" stroke="#b3c720" stroke-width="0.4" stroke-linejoin="miter"/>
<polygon points="452.69,45.41 459.49,45.41 456.09,51.19" fill="#b3c720" stroke="#b3c720" stroke-width="0.4" stroke-linejoin="miter"/>
<polygon points="458.18,45.41 464.98,45.41 461.58,51.19" fill="#b3c720" stroke="#b3c720" stroke-width="0.4" stroke-linejoin="miter"/>
<polygon points="463.67,53.31 470.47,53.31 467.07,59.09" fill="#b3c720" stroke="#b3c720" stroke-width="0.4" stroke-linejoin="miter"/>
<polygon points="469.16,58.61 475.96,58.61 472.56,64.39" fill="#b3c720" stroke="#b3c720" stroke-width="0.4" stroke-linejoin="miter"/>
<polygon points="474.65,62.81 481.45,62.81 478.05,68.59" fill="#b3c720" stroke="#b3c720" stroke-width="0.4" stroke-linejoin="miter"/>
<polygon points="480.14,70.31 486.94,70.31 483.54,76.09" fill="#b3c720" stroke="#b3c720" stroke-width="0.4" stroke-linejoin="miter"/>
<polygon points="484.53,75.71 491.33,75.71 487.93,81.49" fill="#b3c720" stroke="#b3c720" stroke-width="0.4" stroke-linejoin="miter"/>
<polygon points="490.02,84.51 496.82,84.51 493.42,90.29" fill="#b3c720" stroke="#b3c720" stroke-width="0.4" stroke-linejoin="miter"/>
<polygon points="494.41,93.01 501.21,93.01 497.81,98.79" fill="#b3c720" stroke="#b3c720" stroke-width="0.4" stroke-linejoin="miter"/>
<polygon points="498.26,99.71 505.06,99.71 501.66,105.49" fill="#b3c720" stroke="#b3c720" stroke-width="0.4" stroke-linejoin="miter"/>
<polygon points="502.1,105.01 508.9,105.01 505.5,110.79" fill="#b3c720" stroke="#b3c720" stroke-width="0.4" stroke-linejoin="miter"/>
<polygon points="504.85,110.31 511.64,110.31 508.25,116.09" fill="#b3c720" stroke="#b3c720" stroke-width="0.4" stroke-linejoin="miter"/>
<polygon points="507.59,111.71 514.39,111.71 510.99,117.49" fill="#b3c720" stroke="#b3c720" stroke-width="0.4" stroke-linejoin="miter"/>
</g>
<rect x="340.8" y="1.3" width="175" height="125.2" fill="none" stroke="#242424" stroke-width="1.2"/>
<line x1="340.8" y1="1.3" x2="340.8" y2="7.3" stroke="#242424" stroke-width="1.1" />
<line x1="340.8" y1="126.5" x2="340.8" y2="120.5" stroke="#242424" stroke-width="1.1" />
<line x1="351.78" y1="1.3" x2="351.78" y2="4.3" stroke="#242424" stroke-width="1.1" />
<line x1="351.78" y1="126.5" x2="351.78" y2="123.5" stroke="#242424" stroke-width="1.1" />
<line x1="362.76" y1="1.3" x2="362.76" y2="4.3" stroke="#242424" stroke-width="1.1" />
<line x1="362.76" y1="126.5" x2="362.76" y2="123.5" stroke="#242424" stroke-width="1.1" />
<line x1="373.74" y1="1.3" x2="373.74" y2="4.3" stroke="#242424" stroke-width="1.1" />
<line x1="373.74" y1="126.5" x2="373.74" y2="123.5" stroke="#242424" stroke-width="1.1" />
<line x1="384.72" y1="1.3" x2="384.72" y2="4.3" stroke="#242424" stroke-width="1.1" />
<line x1="384.72" y1="126.5" x2="384.72" y2="123.5" stroke="#242424" stroke-width="1.1" />
<line x1="395.7" y1="1.3" x2="395.7" y2="7.3" stroke="#242424" stroke-width="1.1" />
<line x1="395.7" y1="126.5" x2="395.7" y2="120.5" stroke="#242424" stroke-width="1.1" />
<line x1="406.68" y1="1.3" x2="406.68" y2="4.3" stroke="#242424" stroke-width="1.1" />
<line x1="406.68" y1="126.5" x2="406.68" y2="123.5" stroke="#242424" stroke-width="1.1" />
<line x1="417.66" y1="1.3" x2="417.66" y2="4.3" stroke="#242424" stroke-width="1.1" />
<line x1="417.66" y1="126.5" x2="417.66" y2="123.5" stroke="#242424" stroke-width="1.1" />
<line x1="428.64" y1="1.3" x2="428.64" y2="4.3" stroke="#242424" stroke-width="1.1" />
<line x1="428.64" y1="126.5" x2="428.64" y2="123.5" stroke="#242424" stroke-width="1.1" />
<line x1="439.62" y1="1.3" x2="439.62" y2="4.3" stroke="#242424" stroke-width="1.1" />
<line x1="439.62" y1="126.5" x2="439.62" y2="123.5" stroke="#242424" stroke-width="1.1" />
<line x1="450.6" y1="1.3" x2="450.6" y2="7.3" stroke="#242424" stroke-width="1.1" />
<line x1="450.6" y1="126.5" x2="450.6" y2="120.5" stroke="#242424" stroke-width="1.1" />
<line x1="461.58" y1="1.3" x2="461.58" y2="4.3" stroke="#242424" stroke-width="1.1" />
<line x1="461.58" y1="126.5" x2="461.58" y2="123.5" stroke="#242424" stroke-width="1.1" />
<line x1="472.56" y1="1.3" x2="472.56" y2="4.3" stroke="#242424" stroke-width="1.1" />
<line x1="472.56" y1="126.5" x2="472.56" y2="123.5" stroke="#242424" stroke-width="1.1" />
<line x1="483.54" y1="1.3" x2="483.54" y2="4.3" stroke="#242424" stroke-width="1.1" />
<line x1="483.54" y1="126.5" x2="483.54" y2="123.5" stroke="#242424" stroke-width="1.1" />
<line x1="494.52" y1="1.3" x2="494.52" y2="4.3" stroke="#242424" stroke-width="1.1" />
<line x1="494.52" y1="126.5" x2="494.52" y2="123.5" stroke="#242424" stroke-width="1.1" />
<line x1="505.5" y1="1.3" x2="505.5" y2="7.3" stroke="#242424" stroke-width="1.1" />
<line x1="505.5" y1="126.5" x2="505.5" y2="120.5" stroke="#242424" stroke-width="1.1" />
<line x1="340.8" y1="126.5" x2="346.6" y2="126.5" stroke="#242424" stroke-width="1.2" />
<line x1="515.8" y1="126.5" x2="510" y2="126.5" stroke="#242424" stroke-width="1.2" />
<text x="337.6" y="131.5" font-size="11.2" text-anchor="end" font-weight="normal" fill="#262626" font-family='"Liberation Sans", sans-serif' >0.0</text>
<line x1="340.8" y1="110" x2="346.6" y2="110" stroke="#242424" stroke-width="1.2" />
<line x1="515.8" y1="110" x2="510" y2="110" stroke="#242424" stroke-width="1.2" />
<text x="337.6" y="115" font-size="11.2" text-anchor="end" font-weight="normal" fill="#262626" font-family='"Liberation Sans", sans-serif' >0.5</text>
<line x1="340.8" y1="93.5" x2="346.6" y2="93.5" stroke="#242424" stroke-width="1.2" />
<line x1="515.8" y1="93.5" x2="510" y2="93.5" stroke="#242424" stroke-width="1.2" />
<text x="337.6" y="98.5" font-size="11.2" text-anchor="end" font-weight="normal" fill="#262626" font-family='"Liberation Sans", sans-serif' >1.0</text>
<line x1="340.8" y1="77" x2="346.6" y2="77" stroke="#242424" stroke-width="1.2" />
<line x1="515.8" y1="77" x2="510" y2="77" stroke="#242424" stroke-width="1.2" />
<text x="337.6" y="82" font-size="11.2" text-anchor="end" font-weight="normal" fill="#262626" font-family='"Liberation Sans", sans-serif' >1.5</text>
<line x1="340.8" y1="60.5" x2="346.6" y2="60.5" stroke="#242424" stroke-width="1.2" />
<line x1="515.8" y1="60.5" x2="510" y2="60.5" stroke="#242424" stroke-width="1.2" />
<text x="337.6" y="65.5" font-size="11.2" text-anchor="end" font-weight="normal" fill="#262626" font-family='"Liberation Sans", sans-serif' >2.0</text>
<line x1="340.8" y1="44" x2="346.6" y2="44" stroke="#242424" stroke-width="1.2" />
<line x1="515.8" y1="44" x2="510" y2="44" stroke="#242424" stroke-width="1.2" />
<text x="337.6" y="49" font-size="11.2" text-anchor="end" font-weight="normal" fill="#262626" font-family='"Liberation Sans", sans-serif' >2.5</text>
<line x1="340.8" y1="27.5" x2="346.6" y2="27.5" stroke="#242424" stroke-width="1.2" />
<line x1="515.8" y1="27.5" x2="510" y2="27.5" stroke="#242424" stroke-width="1.2" />
<text x="337.6" y="32.5" font-size="11.2" text-anchor="end" font-weight="normal" fill="#262626" font-family='"Liberation Sans", sans-serif' >3.0</text>
<line x1="340.8" y1="11" x2="346.6" y2="11" stroke="#242424" stroke-width="1.2" />
<line x1="515.8" y1="11" x2="510" y2="11" stroke="#242424" stroke-width="1.2" />
<text x="337.6" y="16" font-size="11.2" text-anchor="end" font-weight="normal" fill="#262626" font-family='"Liberation Sans", sans-serif' >3.5</text>
<circle cx="351.78" cy="126.8" r="2.8" fill="#d98326"/>
<circle cx="357.27" cy="126.8" r="2.8" fill="#d98326"/>
<circle cx="362.76" cy="126.8" r="2.8" fill="#d98326"/>
<circle cx="365.5" cy="126.8" r="2.8" fill="#d98326"/>
<circle cx="368.25" cy="126.8" r="2.8" fill="#d98326"/>
<circle cx="371" cy="126.8" r="2.8" fill="#d98326"/>
<circle cx="373.74" cy="126.8" r="2.8" fill="#d98326"/>
<circle cx="379.23" cy="126.8" r="2.8" fill="#d98326"/>
<circle cx="384.72" cy="126.8" r="2.8" fill="#d98326"/>
<circle cx="390.21" cy="126.8" r="2.8" fill="#d98326"/>
<circle cx="395.7" cy="126.8" r="2.8" fill="#d98326"/>
<circle cx="401.19" cy="126.8" r="2.8" fill="#d98326"/>
<circle cx="406.68" cy="126.8" r="2.8" fill="#d98326"/>
<circle cx="412.17" cy="126.8" r="2.8" fill="#d98326"/>
<circle cx="417.66" cy="126.8" r="2.8" fill="#d98326"/>
<circle cx="423.15" cy="126.8" r="2.8" fill="#d98326"/>
<circle cx="428.64" cy="126.8" r="2.8" fill="#d98326"/>
<circle cx="434.13" cy="126.8" r="2.8" fill="#d98326"/>
<circle cx="439.62" cy="126.8" r="2.8" fill="#d98326"/>
<circle cx="445.11" cy="126.8" r="2.8" fill="#d98326"/>
<circle cx="450.6" cy="126.8" r="2.8" fill="#d98326"/>
<circle cx="456.09" cy="126.8" r="2.8" fill="#d98326"/>
<circle cx="461.58" cy="126.8" r="2.8" fill="#d98326"/>
<circle cx="467.07" cy="126.8" r="2.8" fill="#d98326"/>
<circle cx="472.56" cy="126.8" r="2.8" fill="#d98326"/>
<circle cx="478.05" cy="126.8" r="2.8" fill="#d98326"/>
<circle cx="483.54" cy="126.8" r="2.8" fill="#d98326"/>
<circle cx="489.03" cy="126.8" r="2.8" fill="#d98326"/>
<circle cx="494.52" cy="126.8" r="2.8" fill="#d98326"/>
<circle cx="500.01" cy="126.8" r="2.8" fill="#d98326"/>
<circle cx="502.75" cy="126.8" r="2.8" fill="#d98326"/>
<circle cx="505.5" cy="126.8" r="2.8" fill="#d98326"/>
<circle cx="508.25" cy="126.8" r="2.8" fill="#d98326"/>
<circle cx="510.99" cy="126.8" r="2.8" fill="#d98326"/>
<text x="349.6" y="15" font-size="14" text-anchor="start" font-weight="bold" fill="#111" font-family='"Liberation Sans", sans-serif' >(c)</text>
<polygon points="367.8,8.22 374.8,8.22 371.3,14.17" fill="#b3c720" stroke="#b3c720" stroke-width="0.4" stroke-linejoin="miter"/>
<polygon points="368.7,18.84 374.5,18.84 371.6,23.77" fill="white" stroke="#1a5fbf" stroke-width="1.3" stroke-linejoin="miter"/>
<circle cx="371.2" cy="30.8" r="3.5" fill="#d98326"/>
<text x="381.8" y="12.9" font-size="7.4" text-anchor="start" font-weight="normal" fill="#262626" font-family='"Liberation Sans", sans-serif' >A</text>
<text x="386.8" y="15.4" font-size="5.2" text-anchor="start" font-weight="normal" fill="#262626" font-family='"Liberation Sans", sans-serif' >1g</text>
<text x="381.8" y="22.8" font-size="7.4" text-anchor="start" font-weight="normal" fill="#262626" font-family='"Liberation Sans", sans-serif' >B</text>
<text x="386.8" y="25.3" font-size="5.2" text-anchor="start" font-weight="normal" fill="#262626" font-family='"Liberation Sans", sans-serif' >2g</text>
<text x="395.6" y="22.8" font-size="7.4" text-anchor="start" font-weight="normal" fill="#262626" font-family='"Liberation Sans", sans-serif' >(x-4)</text>
<text x="381.8" y="33.4" font-size="7.4" text-anchor="start" font-weight="normal" fill="#262626" font-family='"Liberation Sans", sans-serif' >B</text>
<text x="386.8" y="35.9" font-size="5.2" text-anchor="start" font-weight="normal" fill="#262626" font-family='"Liberation Sans", sans-serif' >1g</text>
<text x="395.6" y="33.4" font-size="7.4" text-anchor="start" font-weight="normal" fill="#262626" font-family='"Liberation Sans", sans-serif' >(x-4)</text>
<text transform="translate(316.0,90.4) rotate(-90)" font-size="10.5" letter-spacing="0.5" fill="#262626" font-family='"Liberation Sans", sans-serif'><tspan font-style="italic">A</tspan> (10<tspan font-size="7" dy="-6">−3</tspan><tspan dy="6">)</tspan></text>
<g clip-path="url(#clipD)">
<polyline points="340.8,228.1 343.0,228.0 346.0,227.9 349.6,227.8 353.5,227.7 357.7,227.6 362.0,227.4 366.1,227.3 370.0,227.1 373.7,226.9 377.4,226.7 381.2,226.6 384.9,226.4 388.7,226.1 392.5,225.9 396.2,225.7 400.0,225.4 403.8,225.1 407.8,224.8 411.8,224.4 415.8,224.0 419.7,223.6 423.4,223.3 426.9,222.9 430.0,222.6 432.7,222.3 435.0,222.1 437.1,222.0 438.9,221.8 440.8,221.6 442.6,221.4 444.7,221.0 447.0,220.6 449.7,220.0 452.6,219.4 455.7,218.7 458.8,217.9 461.9,217.1 464.9,216.3 467.6,215.4 470.0,214.6 472.0,213.8 473.8,212.9 475.4,212.1 476.8,211.2 478.2,210.3 479.4,209.4 480.7,208.4 482.0,207.5 483.3,206.5 484.6,205.5 485.9,204.5 487.1,203.5 488.3,202.4 489.4,201.4 490.4,200.4 491.4,199.5 492.3,198.6 493.1,197.7 493.9,196.9 494.6,196.0 495.3,195.2 495.9,194.4 496.5,193.7 497.0,193.0 497.5,192.4 497.9,191.8 498.3,191.3 498.7,190.8 499.0,190.3 499.4,189.8 499.7,189.2 500.0,188.6 500.3,187.9 500.6,187.2 500.9,186.4 501.2,185.6 501.5,184.8 501.8,183.9 502.1,183.0 502.3,182.0 502.5,181.0 502.7,180.0 502.9,179.0 503.1,178.0 503.3,176.8 503.5,175.6 503.7,174.3 503.9,172.9 504.1,171.3 504.4,169.5 504.6,167.7 504.9,165.7 505.1,163.7 505.4,161.7 505.6,159.8 505.8,158.0 506.0,156.3 506.2,154.7 506.4,153.1 506.5,151.5 506.7,149.9 506.9,148.3 507.0,146.7 507.2,145.0 507.4,143.2 507.6,141.1 507.8,139.0 507.9,136.9 508.1,134.9 508.3,133.1 508.4,131.6 508.5,130.5" fill="none" stroke="#c6d22e" stroke-width="1.6" stroke-linejoin="round" stroke-linecap="round" stroke-dasharray="4,4"/>
<polyline points="340.8,226.5 343.0,226.4 346.0,226.3 349.6,226.2 353.5,226.1 357.7,226.0 362.0,225.8 366.1,225.7 370.0,225.5 373.7,225.3 377.4,225.1 381.2,225.0 384.9,224.8 388.7,224.5 392.5,224.3 396.2,224.1 400.0,223.8 403.8,223.5 407.8,223.2 411.8,222.8 415.8,222.4 419.7,222.0 423.4,221.7 426.9,221.3 430.0,221.0 432.7,220.7 435.0,220.5 437.1,220.4 438.9,220.2 440.8,220.0 442.6,219.8 444.7,219.4 447.0,219.0 449.7,218.4 452.6,217.8 455.7,217.0 458.8,216.2 461.9,215.4 464.9,214.6 467.6,213.8 470.0,213.0 472.0,212.3 473.8,211.6 475.4,211.0 476.8,210.4 478.2,209.7 479.4,209.0 480.7,208.3 482.0,207.5 483.3,206.6 484.6,205.6 485.9,204.6 487.1,203.6 488.3,202.5 489.4,201.5 490.4,200.4 491.4,199.5 492.3,198.6 493.1,197.7 493.9,196.9 494.6,196.0 495.3,195.2 495.9,194.4 496.5,193.7 497.0,193.0 497.5,192.4 497.9,191.8 498.3,191.3 498.7,190.8 499.0,190.3 499.4,189.8 499.7,189.2 500.0,188.6 500.3,187.9 500.6,187.2 500.9,186.4 501.2,185.6 501.5,184.8 501.8,183.9 502.1,183.0 502.3,182.0 502.5,181.0 502.7,180.0 502.9,179.0 503.1,178.0 503.3,176.8 503.5,175.6 503.7,174.3 503.9,172.9 504.1,171.3 504.4,169.5 504.6,167.7 504.9,165.7 505.1,163.7 505.4,161.7 505.6,159.8 505.8,158.0 506.0,156.3 506.2,154.7 506.4,153.1 506.5,151.5 506.7,149.9 506.9,148.3 507.0,146.7 507.2,145.0 507.4,143.2 507.6,141.1 507.8,139.0 507.9,136.9 508.1,134.9 508.3,133.1 508.4,131.6 508.5,130.5" fill="none" stroke="#2b63c4" stroke-width="1.6" stroke-linejoin="round" stroke-linecap="round" stroke-dasharray="4,4" stroke-dashoffset="4"/>
<circle cx="351.78" cy="230.3" r="3.3" fill="#b3c720"/>
<circle cx="357.27" cy="244.8" r="3.3" fill="#b3c720"/>
<circle cx="362.76" cy="247.2" r="3.3" fill="#b3c720"/>
<circle cx="365.5" cy="247.2" r="3.3" fill="#b3c720"/>
<circle cx="368.25" cy="237.5" r="3.3" fill="#b3c720"/>
<circle cx="371" cy="238.9" r="3.3" fill="#b3c720"/>
<circle cx="373.74" cy="239" r="3.3" fill="#b3c720"/>
<circle cx="379.23" cy="239.9" r="3.3" fill="#b3c720"/>
<circle cx="384.72" cy="235.5" r="3.3" fill="#b3c720"/>
<circle cx="390.21" cy="233.5" r="3.3" fill="#b3c720"/>
<circle cx="395.7" cy="236.9" r="3.3" fill="#b3c720"/>
<circle cx="401.19" cy="231.9" r="3.3" fill="#b3c720"/>
<circle cx="406.68" cy="229.3" r="3.3" fill="#b3c720"/>
<circle cx="412.17" cy="227.9" r="3.3" fill="#b3c720"/>
<circle cx="417.66" cy="226.9" r="3.3" fill="#b3c720"/>
<circle cx="423.15" cy="228.9" r="3.3" fill="#b3c720"/>
<circle cx="428.64" cy="225.3" r="3.3" fill="#b3c720"/>
<circle cx="434.13" cy="223.9" r="3.3" fill="#b3c720"/>
<circle cx="439.62" cy="221.9" r="3.3" fill="#b3c720"/>
<circle cx="445.11" cy="220.5" r="3.3" fill="#b3c720"/>
<circle cx="450.6" cy="218.5" r="3.3" fill="#b3c720"/>
<circle cx="456.09" cy="215.6" r="3.3" fill="#b3c720"/>
<circle cx="461.58" cy="213.2" r="3.3" fill="#b3c720"/>
<circle cx="467.07" cy="210.8" r="3.3" fill="#b3c720"/>
<circle cx="472.56" cy="208.4" r="3.3" fill="#b3c720"/>
<circle cx="478.05" cy="205.2" r="3.3" fill="#b3c720"/>
<circle cx="483.54" cy="210.8" r="3.3" fill="#b3c720"/>
<circle cx="487.93" cy="205" r="3.3" fill="#b3c720"/>
<circle cx="494.52" cy="201.4" r="3.3" fill="#b3c720"/>
<circle cx="500.01" cy="198.6" r="3.3" fill="#b3c720"/>
<circle cx="504.4" cy="193.4" r="3.3" fill="#b3c720"/>
<circle cx="507.7" cy="182.9" r="3.3" fill="#b3c720"/>
<circle cx="510.99" cy="234.8" r="3.3" fill="#b3c720"/>
<circle cx="351.78" cy="223.5" r="2.7" fill="none" stroke="#1a5fbf" stroke-width="1.4"/>
<circle cx="357.27" cy="227.9" r="2.7" fill="none" stroke="#1a5fbf" stroke-width="1.4"/>
<circle cx="362.76" cy="226.9" r="2.7" fill="none" stroke="#1a5fbf" stroke-width="1.4"/>
<circle cx="365.5" cy="230.9" r="2.7" fill="none" stroke="#1a5fbf" stroke-width="1.4"/>
<circle cx="368.25" cy="226.3" r="2.7" fill="none" stroke="#1a5fbf" stroke-width="1.4"/>
<circle cx="371" cy="233.9" r="2.7" fill="none" stroke="#1a5fbf" stroke-width="1.4"/>
<circle cx="373.74" cy="226.3" r="2.7" fill="none" stroke="#1a5fbf" stroke-width="1.4"/>
<circle cx="379.23" cy="227.9" r="2.7" fill="none" stroke="#1a5fbf" stroke-width="1.4"/>
<circle cx="384.72" cy="226.9" r="2.7" fill="none" stroke="#1a5fbf" stroke-width="1.4"/>
<circle cx="390.21" cy="227.2" r="2.7" fill="none" stroke="#1a5fbf" stroke-width="1.4"/>
<circle cx="395.7" cy="225.6" r="2.7" fill="none" stroke="#1a5fbf" stroke-width="1.4"/>
<circle cx="401.19" cy="224.9" r="2.7" fill="none" stroke="#1a5fbf" stroke-width="1.4"/>
<circle cx="406.68" cy="223.3" r="2.7" fill="none" stroke="#1a5fbf" stroke-width="1.4"/>
<circle cx="412.17" cy="220.9" r="2.7" fill="none" stroke="#1a5fbf" stroke-width="1.4"/>
<circle cx="417.66" cy="219.9" r="2.7" fill="none" stroke="#1a5fbf" stroke-width="1.4"/>
<circle cx="423.15" cy="222.9" r="2.7" fill="none" stroke="#1a5fbf" stroke-width="1.4"/>
<circle cx="428.64" cy="218.9" r="2.7" fill="none" stroke="#1a5fbf" stroke-width="1.4"/>
<circle cx="434.13" cy="216.9" r="2.7" fill="none" stroke="#1a5fbf" stroke-width="1.4"/>
<circle cx="439.62" cy="215.9" r="2.7" fill="none" stroke="#1a5fbf" stroke-width="1.4"/>
<circle cx="445.11" cy="215" r="2.7" fill="none" stroke="#1a5fbf" stroke-width="1.4"/>
<circle cx="450.6" cy="212.4" r="2.7" fill="none" stroke="#1a5fbf" stroke-width="1.4"/>
<circle cx="456.09" cy="219.6" r="2.7" fill="none" stroke="#1a5fbf" stroke-width="1.4"/>
<circle cx="461.58" cy="215.6" r="2.7" fill="none" stroke="#1a5fbf" stroke-width="1.4"/>
<circle cx="467.07" cy="216.1" r="2.7" fill="none" stroke="#1a5fbf" stroke-width="1.4"/>
<circle cx="472.56" cy="214" r="2.7" fill="none" stroke="#1a5fbf" stroke-width="1.4"/>
<circle cx="478.05" cy="212.2" r="2.7" fill="none" stroke="#1a5fbf" stroke-width="1.4"/>
<circle cx="483.54" cy="208.9" r="2.7" fill="none" stroke="#1a5fbf" stroke-width="1.4"/>
<circle cx="489.03" cy="199.6" r="2.7" fill="none" stroke="#1a5fbf" stroke-width="1.4"/>
<circle cx="494.52" cy="194" r="2.7" fill="none" stroke="#1a5fbf" stroke-width="1.4"/>
<circle cx="499.46" cy="183.5" r="2.7" fill="none" stroke="#1a5fbf" stroke-width="1.4"/>
<circle cx="501.66" cy="179" r="2.7" fill="none" stroke="#1a5fbf" stroke-width="1.4"/>
<circle cx="505.77" cy="148.6" r="2.7" fill="none" stroke="#1a5fbf" stroke-width="1.4"/>
<circle cx="508.25" cy="197" r="2.7" fill="none" stroke="#1a5fbf" stroke-width="1.4"/>
<circle cx="510.99" cy="201.6" r="2.7" fill="none" stroke="#1a5fbf" stroke-width="1.4"/>
</g>
<rect x="340.8" y="130.3" width="175.2" height="125" fill="none" stroke="#242424" stroke-width="1.2"/>
<line x1="340.8" y1="130.3" x2="340.8" y2="135.8" stroke="#242424" stroke-width="1.1" />
<line x1="340.8" y1="255.3" x2="340.8" y2="249.8" stroke="#242424" stroke-width="1.1" />
<line x1="351.78" y1="130.3" x2="351.78" y2="133.3" stroke="#242424" stroke-width="1.1" />
<line x1="351.78" y1="255.3" x2="351.78" y2="252.3" stroke="#242424" stroke-width="1.1" />
<line x1="362.76" y1="130.3" x2="362.76" y2="133.3" stroke="#242424" stroke-width="1.1" />
<line x1="362.76" y1="255.3" x2="362.76" y2="252.3" stroke="#242424" stroke-width="1.1" />
<line x1="373.74" y1="130.3" x2="373.74" y2="133.3" stroke="#242424" stroke-width="1.1" />
<line x1="373.74" y1="255.3" x2="373.74" y2="252.3" stroke="#242424" stroke-width="1.1" />
<line x1="384.72" y1="130.3" x2="384.72" y2="133.3" stroke="#242424" stroke-width="1.1" />
<line x1="384.72" y1="255.3" x2="384.72" y2="252.3" stroke="#242424" stroke-width="1.1" />
<line x1="395.7" y1="130.3" x2="395.7" y2="135.8" stroke="#242424" stroke-width="1.1" />
<line x1="395.7" y1="255.3" x2="395.7" y2="249.8" stroke="#242424" stroke-width="1.1" />
<line x1="406.68" y1="130.3" x2="406.68" y2="133.3" stroke="#242424" stroke-width="1.1" />
<line x1="406.68" y1="255.3" x2="406.68" y2="252.3" stroke="#242424" stroke-width="1.1" />
<line x1="417.66" y1="130.3" x2="417.66" y2="133.3" stroke="#242424" stroke-width="1.1" />
<line x1="417.66" y1="255.3" x2="417.66" y2="252.3" stroke="#242424" stroke-width="1.1" />
<line x1="428.64" y1="130.3" x2="428.64" y2="133.3" stroke="#242424" stroke-width="1.1" />
<line x1="428.64" y1="255.3" x2="428.64" y2="252.3" stroke="#242424" stroke-width="1.1" />
<line x1="439.62" y1="130.3" x2="439.62" y2="133.3" stroke="#242424" stroke-width="1.1" />
<line x1="439.62" y1="255.3" x2="439.62" y2="252.3" stroke="#242424" stroke-width="1.1" />
<line x1="450.6" y1="130.3" x2="450.6" y2="135.8" stroke="#242424" stroke-width="1.1" />
<line x1="450.6" y1="255.3" x2="450.6" y2="249.8" stroke="#242424" stroke-width="1.1" />
<line x1="461.58" y1="130.3" x2="461.58" y2="133.3" stroke="#242424" stroke-width="1.1" />
<line x1="461.58" y1="255.3" x2="461.58" y2="252.3" stroke="#242424" stroke-width="1.1" />
<line x1="472.56" y1="130.3" x2="472.56" y2="133.3" stroke="#242424" stroke-width="1.1" />
<line x1="472.56" y1="255.3" x2="472.56" y2="252.3" stroke="#242424" stroke-width="1.1" />
<line x1="483.54" y1="130.3" x2="483.54" y2="133.3" stroke="#242424" stroke-width="1.1" />
<line x1="483.54" y1="255.3" x2="483.54" y2="252.3" stroke="#242424" stroke-width="1.1" />
<line x1="494.52" y1="130.3" x2="494.52" y2="133.3" stroke="#242424" stroke-width="1.1" />
<line x1="494.52" y1="255.3" x2="494.52" y2="252.3" stroke="#242424" stroke-width="1.1" />
<line x1="505.5" y1="130.3" x2="505.5" y2="135.8" stroke="#242424" stroke-width="1.1" />
<line x1="505.5" y1="255.3" x2="505.5" y2="249.8" stroke="#242424" stroke-width="1.1" />
<text x="340.8" y="269" font-size="10" text-anchor="middle" font-weight="normal" fill="#262626" font-family='"Liberation Sans", sans-serif' >0</text>
<text x="395.7" y="269" font-size="10" text-anchor="middle" font-weight="normal" fill="#262626" font-family='"Liberation Sans", sans-serif' >100</text>
<text x="450.6" y="269" font-size="10" text-anchor="middle" font-weight="normal" fill="#262626" font-family='"Liberation Sans", sans-serif' >200</text>
<text x="505.5" y="269" font-size="10" text-anchor="middle" font-weight="normal" fill="#262626" font-family='"Liberation Sans", sans-serif' >300</text>
<line x1="340.8" y1="244.45" x2="343.8" y2="244.45" stroke="#242424" stroke-width="1.0" />
<line x1="516" y1="244.45" x2="513" y2="244.45" stroke="#242424" stroke-width="1.0" />
<line x1="340.8" y1="236.53" x2="343.8" y2="236.53" stroke="#242424" stroke-width="1.0" />
<line x1="516" y1="236.53" x2="513" y2="236.53" stroke="#242424" stroke-width="1.0" />
<line x1="340.8" y1="230.91" x2="343.8" y2="230.91" stroke="#242424" stroke-width="1.0" />
<line x1="516" y1="230.91" x2="513" y2="230.91" stroke="#242424" stroke-width="1.0" />
<line x1="340.8" y1="226.55" x2="343.8" y2="226.55" stroke="#242424" stroke-width="1.0" />
<line x1="516" y1="226.55" x2="513" y2="226.55" stroke="#242424" stroke-width="1.0" />
<line x1="340.8" y1="222.98" x2="343.8" y2="222.98" stroke="#242424" stroke-width="1.0" />
<line x1="516" y1="222.98" x2="513" y2="222.98" stroke="#242424" stroke-width="1.0" />
<line x1="340.8" y1="219.97" x2="343.8" y2="219.97" stroke="#242424" stroke-width="1.0" />
<line x1="516" y1="219.97" x2="513" y2="219.97" stroke="#242424" stroke-width="1.0" />
<line x1="340.8" y1="217.36" x2="343.8" y2="217.36" stroke="#242424" stroke-width="1.0" />
<line x1="516" y1="217.36" x2="513" y2="217.36" stroke="#242424" stroke-width="1.0" />
<line x1="340.8" y1="215.06" x2="343.8" y2="215.06" stroke="#242424" stroke-width="1.0" />
<line x1="516" y1="215.06" x2="513" y2="215.06" stroke="#242424" stroke-width="1.0" />
<line x1="340.8" y1="213" x2="346.8" y2="213" stroke="#242424" stroke-width="1.0" />
<line x1="516" y1="213" x2="510" y2="213" stroke="#242424" stroke-width="1.0" />
<line x1="340.8" y1="199.45" x2="343.8" y2="199.45" stroke="#242424" stroke-width="1.0" />
<line x1="516" y1="199.45" x2="513" y2="199.45" stroke="#242424" stroke-width="1.0" />
<line x1="340.8" y1="191.53" x2="343.8" y2="191.53" stroke="#242424" stroke-width="1.0" />
<line x1="516" y1="191.53" x2="513" y2="191.53" stroke="#242424" stroke-width="1.0" />
<line x1="340.8" y1="185.91" x2="343.8" y2="185.91" stroke="#242424" stroke-width="1.0" />
<line x1="516" y1="185.91" x2="513" y2="185.91" stroke="#242424" stroke-width="1.0" />
<line x1="340.8" y1="181.55" x2="343.8" y2="181.55" stroke="#242424" stroke-width="1.0" />
<line x1="516" y1="181.55" x2="513" y2="181.55" stroke="#242424" stroke-width="1.0" />
<line x1="340.8" y1="177.98" x2="343.8" y2="177.98" stroke="#242424" stroke-width="1.0" />
<line x1="516" y1="177.98" x2="513" y2="177.98" stroke="#242424" stroke-width="1.0" />
<line x1="340.8" y1="174.97" x2="343.8" y2="174.97" stroke="#242424" stroke-width="1.0" />
<line x1="516" y1="174.97" x2="513" y2="174.97" stroke="#242424" stroke-width="1.0" />
<line x1="340.8" y1="172.36" x2="343.8" y2="172.36" stroke="#242424" stroke-width="1.0" />
<line x1="516" y1="172.36" x2="513" y2="172.36" stroke="#242424" stroke-width="1.0" />
<line x1="340.8" y1="170.06" x2="343.8" y2="170.06" stroke="#242424" stroke-width="1.0" />
<line x1="516" y1="170.06" x2="513" y2="170.06" stroke="#242424" stroke-width="1.0" />
<line x1="340.8" y1="168" x2="346.8" y2="168" stroke="#242424" stroke-width="1.0" />
<line x1="516" y1="168" x2="510" y2="168" stroke="#242424" stroke-width="1.0" />
<line x1="340.8" y1="154.45" x2="343.8" y2="154.45" stroke="#242424" stroke-width="1.0" />
<line x1="516" y1="154.45" x2="513" y2="154.45" stroke="#242424" stroke-width="1.0" />
<line x1="340.8" y1="146.53" x2="343.8" y2="146.53" stroke="#242424" stroke-width="1.0" />
<line x1="516" y1="146.53" x2="513" y2="146.53" stroke="#242424" stroke-width="1.0" />
<line x1="340.8" y1="140.91" x2="343.8" y2="140.91" stroke="#242424" stroke-width="1.0" />
<line x1="516" y1="140.91" x2="513" y2="140.91" stroke="#242424" stroke-width="1.0" />
<line x1="340.8" y1="136.55" x2="343.8" y2="136.55" stroke="#242424" stroke-width="1.0" />
<line x1="516" y1="136.55" x2="513" y2="136.55" stroke="#242424" stroke-width="1.0" />
<line x1="340.8" y1="132.98" x2="343.8" y2="132.98" stroke="#242424" stroke-width="1.0" />
<line x1="516" y1="132.98" x2="513" y2="132.98" stroke="#242424" stroke-width="1.0" />
<text x="335.8" y="171.4" font-size="9.6" text-anchor="end" font-weight="normal" fill="#262626" font-family='"Liberation Sans", sans-serif' >10</text>
<text x="335.4" y="216.4" font-size="9.6" text-anchor="end" font-weight="normal" fill="#262626" font-family='"Liberation Sans", sans-serif' >1</text>
<text x="339.2" y="143.41" font-size="7" text-anchor="end" font-weight="normal" fill="#262626" font-family='"Liberation Sans", sans-serif' >4</text>
<text x="339.2" y="156.95" font-size="7" text-anchor="end" font-weight="normal" fill="#262626" font-family='"Liberation Sans", sans-serif' >2</text>
<text x="339.2" y="188.41" font-size="7" text-anchor="end" font-weight="normal" fill="#262626" font-family='"Liberation Sans", sans-serif' >4</text>
<text x="339.2" y="201.95" font-size="7" text-anchor="end" font-weight="normal" fill="#262626" font-family='"Liberation Sans", sans-serif' >2</text>
<text x="339.2" y="233.41" font-size="7" text-anchor="end" font-weight="normal" fill="#262626" font-family='"Liberation Sans", sans-serif' >4</text>
<text x="339.2" y="246.95" font-size="7" text-anchor="end" font-weight="normal" fill="#262626" font-family='"Liberation Sans", sans-serif' >2</text>
<text x="349" y="148.4" font-size="14" text-anchor="start" font-weight="bold" fill="#111" font-family='"Liberation Sans", sans-serif' >(d)</text>
<circle cx="359.4" cy="162.6" r="3.3" fill="#b3c720"/>
<circle cx="359.4" cy="172.9" r="2.7" fill="none" stroke="#1a5fbf" stroke-width="1.4"/>
<text x="369.6" y="164.9" font-size="7.4" text-anchor="start" font-weight="normal" fill="#262626" font-family='"Liberation Sans", sans-serif' >A</text>
<text x="374.6" y="167.4" font-size="5.2" text-anchor="start" font-weight="normal" fill="#262626" font-family='"Liberation Sans", sans-serif' >1g</text>
<text x="369.6" y="175.2" font-size="7.4" text-anchor="start" font-weight="normal" fill="#262626" font-family='"Liberation Sans", sans-serif' >B</text>
<text x="374.6" y="177.7" font-size="5.2" text-anchor="start" font-weight="normal" fill="#262626" font-family='"Liberation Sans", sans-serif' >2g</text>
<text transform="translate(321.6,193.2) rotate(-90)" font-size="10" text-anchor="middle" fill="#262626" font-family='"Liberation Sans", sans-serif'>τ (ps)</text>
<text x="416.8" y="278.1" font-size="10.4" text-anchor="start" font-weight="normal" fill="#262626" font-family='"Liberation Sans", sans-serif' ><tspan font-style="italic">T</tspan> (K)</text>
<g clip-path="url(#clipE)">
<polyline points="538.8,48.5 539.0,47.7 539.3,46.6 539.7,45.3 540.0,44.0 540.3,42.8 540.6,41.5 540.9,40.1 541.3,38.5 541.9,36.4 542.6,33.9 543.3,31.5 544.0,29.6 544.6,28.3 545.2,27.4 545.7,26.9 546.3,26.9 546.9,27.5 547.5,28.7 548.2,30.1 548.8,31.4 549.4,32.8 549.9,34.4 550.5,35.7 551.1,36.4 551.7,36.2 552.4,35.4 553.1,34.2 553.8,33.1 554.6,31.9 555.5,30.4 556.5,29.1 557.4,28.3 558.3,28.1 559.1,28.4 560.0,28.9 560.9,29.2 561.8,29.3 562.7,29.2 563.6,29.3 564.5,29.6 565.4,30.5 566.2,31.8 567.1,33.0 568.0,33.5 568.9,33.1 569.7,32.1 570.6,30.9 571.6,29.9 572.6,29.1 573.7,28.2 574.9,27.6 576.0,27.4 577.2,27.9 578.4,28.9 579.5,30.0 580.5,31.0 581.3,32.0 581.9,33.1 582.4,33.8 583.2,34.0 584.2,33.1 585.4,31.5 586.6,29.8 587.6,28.7 588.4,28.4 589.1,28.5 589.7,28.9 590.5,29.5 591.4,30.6 592.4,32.1 593.5,33.5 594.7,34.0 596.0,33.2 597.3,31.4 598.7,29.6 600.0,28.7 601.1,29.1 602.2,30.2 603.3,31.4 604.5,32.2 605.9,32.3 607.4,32.2 609.0,31.9 610.7,31.7 612.5,31.6 614.4,31.5 616.2,31.5 617.9,31.7 619.3,32.5 620.6,33.7 621.9,34.7 623.2,34.9 624.7,33.8 626.2,31.8 627.8,30.0 629.4,29.2 631.0,30.2 632.7,32.3 634.4,34.5 635.9,35.8 637.3,35.6 638.6,34.6 639.9,33.5 641.2,32.8 642.6,32.9 644.0,33.3 645.3,33.8 646.6,34.0 647.7,33.8 648.8,33.4 649.9,32.9 651.0,32.8 652.3,33.1 653.7,33.8 655.1,34.4 656.4,34.6 657.5,34.2 658.6,33.5 659.7,32.7 660.8,32.4 662.1,32.7 663.4,33.3 664.8,34.1 666.1,34.6 667.2,34.9 668.3,35.0 669.4,35.1 670.5,35.2 671.8,35.6 673.1,36.0 674.5,36.4 675.9,36.3 677.4,35.4 679.0,34.1 680.6,32.8 682.2,32.2 683.8,32.8 685.3,34.1 686.9,35.5 688.4,36.3 689.9,36.3 691.4,36.0 693.0,35.4 694.6,34.9 696.3,34.4 698.1,33.7 699.9,33.2 701.7,33.1 703.5,33.6 705.4,34.5 707.2,35.4 708.9,35.8 710.5,35.5 712.1,34.7 713.6,33.9 715.1,33.5 716.7,33.6 718.3,33.9 719.8,34.4 721.3,34.9 722.8,35.4 724.2,35.9 725.4,36.4 726.3,36.7" fill="none" stroke="#c4185c" stroke-width="1.6" stroke-linejoin="round" stroke-linecap="round" />
<polyline points="538.8,99.5 539.0,99.8 539.2,100.2 539.4,100.5 539.8,100.2 540.3,99.3 540.8,97.9 541.4,96.1 542.0,93.8 542.5,90.7 543.0,86.9 543.6,83.1 544.1,79.9 544.6,77.5 545.2,75.5 545.8,74.0 546.3,73.1 546.8,73.0 547.4,73.6 547.9,74.6 548.4,75.6 548.9,76.9 549.4,78.6 549.9,80.1 550.5,81.0 551.1,81.0 551.8,80.3 552.5,79.4 553.1,78.8 553.6,78.6 554.2,78.5 554.7,78.4 555.2,77.8 555.8,76.5 556.5,74.7 557.1,73.0 557.8,72.0 558.5,72.2 559.2,73.1 559.9,74.1 560.6,74.6 561.3,74.3 562.0,73.5 562.7,72.8 563.4,72.4 564.1,72.6 564.7,73.0 565.3,73.7 566.0,74.6 566.7,75.9 567.5,77.5 568.3,79.0 569.1,79.9 569.8,80.3 570.5,80.3 571.2,79.9 572.0,78.8 573.1,76.6 574.3,73.6 575.6,70.6 576.6,68.8 577.3,68.4 577.8,68.9 578.3,70.0 578.8,71.4 579.4,73.8 579.9,77.0 580.6,79.8 581.3,81.0 582.2,79.7 583.1,76.7 584.2,73.4 585.1,71.4 586.0,71.2 586.8,72.1 587.6,73.1 588.4,73.5 589.1,72.6 589.8,71.1 590.4,69.8 591.1,69.7 591.8,71.7 592.6,75.1 593.3,78.3 594.1,79.9 594.9,78.9 595.8,76.2 596.6,73.4 597.5,72.0 598.4,72.9 599.3,75.0 600.2,77.4 601.2,78.8 602.2,78.9 603.3,78.4 604.3,77.6 605.4,77.0 606.5,76.6 607.6,76.1 608.7,75.9 609.7,76.1 610.5,77.2 611.1,78.9 611.7,80.4 612.5,81.0 613.6,79.8 614.8,77.5 616.0,75.4 617.2,74.6 618.2,76.1 619.1,79.0 620.0,82.0 621.0,83.8 622.1,83.8 623.4,82.8 624.6,81.6 625.7,81.0 626.6,81.4 627.2,82.4 628.0,83.3 629.0,83.8 630.4,83.4 632.1,82.6 633.8,81.8 635.4,81.6 636.9,82.5 638.3,84.0 639.7,85.4 640.9,85.9 641.9,84.9 642.8,83.1 643.6,81.2 644.5,80.3 645.5,81.0 646.5,82.6 647.5,84.3 648.4,85.3 649.2,85.0 650.0,84.0 650.7,83.1 651.6,83.1 652.6,84.6 653.6,87.0 654.7,89.3 655.8,90.6 656.9,90.2 658.0,88.8 659.1,87.2 660.1,86.3 661.1,86.3 662.1,86.9 663.1,87.6 664.0,88.4 664.9,89.3 665.8,90.5 666.7,91.5 667.6,91.7 668.6,90.6 669.6,88.6 670.7,86.8 671.9,86.3 673.2,88.3 674.5,91.9 675.9,95.3 677.2,96.6 678.4,94.7 679.6,90.8 680.6,86.7 681.5,84.2 682.2,84.1 682.6,85.4 683.1,86.8 683.6,87.4 684.2,86.3 684.9,84.4 685.6,82.6 686.4,82.0 687.2,83.3 688.0,85.9 689.0,88.6 690.0,90.6 691.3,91.5 692.7,91.9 694.2,91.9 695.4,91.7 696.4,90.9 697.1,89.5 697.9,88.3 698.6,88.0 699.4,89.3 700.2,91.6 701.0,93.9 701.8,94.9 702.6,93.9 703.4,91.8 704.2,89.5 705.0,88.0 705.8,87.9 706.5,88.5 707.3,89.3 708.2,89.5 709.2,88.7 710.3,87.4 711.4,86.3 712.5,85.9 713.6,86.7 714.6,88.3 715.6,90.1 716.7,91.7 717.8,93.1 718.9,94.4 720.0,95.5 721.0,95.9 721.9,95.4 722.7,94.2 723.5,92.8 724.2,91.7 725.0,91.0 725.8,90.3 726.5,89.8 727.0,89.5" fill="none" stroke="#2a8cc2" stroke-width="1.6" stroke-linejoin="round" stroke-linecap="round" />
</g>
<rect x="538.8" y="1.2" width="187.5" height="107" fill="none" stroke="#3c3c3c" stroke-width="1.4"/>
<line x1="542.8" y1="1.2" x2="542.8" y2="9" stroke="#3c3c3c" stroke-width="1.3" />
<line x1="542.8" y1="108.2" x2="542.8" y2="101.4" stroke="#3c3c3c" stroke-width="1.3" />
<text x="542.8" y="119.8" font-size="11.3" text-anchor="middle" font-weight="normal" fill="#262626" font-family='"Liberation Sans", sans-serif' >1</text>
<line x1="566.06" y1="1.2" x2="566.06" y2="9" stroke="#3c3c3c" stroke-width="1.3" />
<line x1="566.06" y1="108.2" x2="566.06" y2="101.4" stroke="#3c3c3c" stroke-width="1.3" />
<text x="566.06" y="119.8" font-size="11.3" text-anchor="middle" font-weight="normal" fill="#262626" font-family='"Liberation Sans", sans-serif' >2</text>
<line x1="589.32" y1="1.2" x2="589.32" y2="9" stroke="#3c3c3c" stroke-width="1.3" />
<line x1="589.32" y1="108.2" x2="589.32" y2="101.4" stroke="#3c3c3c" stroke-width="1.3" />
<text x="589.32" y="119.8" font-size="11.3" text-anchor="middle" font-weight="normal" fill="#262626" font-family='"Liberation Sans", sans-serif' >3</text>
<line x1="612.58" y1="1.2" x2="612.58" y2="9" stroke="#3c3c3c" stroke-width="1.3" />
<line x1="612.58" y1="108.2" x2="612.58" y2="101.4" stroke="#3c3c3c" stroke-width="1.3" />
<text x="612.58" y="119.8" font-size="11.3" text-anchor="middle" font-weight="normal" fill="#262626" font-family='"Liberation Sans", sans-serif' >4</text>
<line x1="635.84" y1="1.2" x2="635.84" y2="9" stroke="#3c3c3c" stroke-width="1.3" />
<line x1="635.84" y1="108.2" x2="635.84" y2="101.4" stroke="#3c3c3c" stroke-width="1.3" />
<text x="635.84" y="119.8" font-size="11.3" text-anchor="middle" font-weight="normal" fill="#262626" font-family='"Liberation Sans", sans-serif' >5</text>
<line x1="659.1" y1="1.2" x2="659.1" y2="9" stroke="#3c3c3c" stroke-width="1.3" />
<line x1="659.1" y1="108.2" x2="659.1" y2="101.4" stroke="#3c3c3c" stroke-width="1.3" />
<text x="659.1" y="119.8" font-size="11.3" text-anchor="middle" font-weight="normal" fill="#262626" font-family='"Liberation Sans", sans-serif' >6</text>
<line x1="682.36" y1="1.2" x2="682.36" y2="9" stroke="#3c3c3c" stroke-width="1.3" />
<line x1="682.36" y1="108.2" x2="682.36" y2="101.4" stroke="#3c3c3c" stroke-width="1.3" />
<text x="682.36" y="119.8" font-size="11.3" text-anchor="middle" font-weight="normal" fill="#262626" font-family='"Liberation Sans", sans-serif' >7</text>
<line x1="705.62" y1="1.2" x2="705.62" y2="9" stroke="#3c3c3c" stroke-width="1.3" />
<line x1="705.62" y1="108.2" x2="705.62" y2="101.4" stroke="#3c3c3c" stroke-width="1.3" />
<text x="705.62" y="119.8" font-size="11.3" text-anchor="middle" font-weight="normal" fill="#262626" font-family='"Liberation Sans", sans-serif' >8</text>
<line x1="538.8" y1="18.7" x2="546" y2="18.7" stroke="#3c3c3c" stroke-width="1.3" />
<line x1="726.3" y1="18.7" x2="719.2" y2="18.7" stroke="#3c3c3c" stroke-width="1.3" />
<line x1="538.8" y1="36.8" x2="546" y2="36.8" stroke="#3c3c3c" stroke-width="1.3" />
<line x1="726.3" y1="36.8" x2="719.2" y2="36.8" stroke="#3c3c3c" stroke-width="1.3" />
<line x1="538.8" y1="54.8" x2="546" y2="54.8" stroke="#3c3c3c" stroke-width="1.3" />
<line x1="726.3" y1="54.8" x2="719.2" y2="54.8" stroke="#3c3c3c" stroke-width="1.3" />
<line x1="538.8" y1="72.6" x2="546" y2="72.6" stroke="#3c3c3c" stroke-width="1.3" />
<line x1="726.3" y1="72.6" x2="719.2" y2="72.6" stroke="#3c3c3c" stroke-width="1.3" />
<line x1="538.8" y1="90.7" x2="546" y2="90.7" stroke="#3c3c3c" stroke-width="1.3" />
<line x1="726.3" y1="90.7" x2="719.2" y2="90.7" stroke="#3c3c3c" stroke-width="1.3" />
<text x="545" y="15.6" font-size="14.4" text-anchor="start" font-weight="bold" fill="#111" font-family='"Liberation Sans", sans-serif' >(e)</text>
<text x="587.3" y="19" font-size="11.4" text-anchor="start" font-weight="normal" fill="#262626" font-family='"Liberation Sans", sans-serif' >20 K</text>
<text x="689.6" y="24.6" font-size="11" text-anchor="start" font-weight="normal" fill="#262626" font-family='"Liberation Sans", sans-serif' >A</text>
<text x="698" y="30.6" font-size="10.6" text-anchor="start" font-weight="normal" fill="#262626" font-family='"Liberation Sans", sans-serif' >1g</text>
<text x="662.2" y="73.4" font-size="11" text-anchor="start" font-weight="normal" fill="#262626" font-family='"Liberation Sans", sans-serif' >B</text>
<text x="669.4" y="79.3" font-size="10.8" text-anchor="start" font-weight="normal" fill="#262626" font-family='"Liberation Sans", sans-serif' >2g</text>
<text x="684.9" y="73.7" font-size="11.2" text-anchor="start" font-weight="normal" fill="#4a4a4a" font-family='"Liberation Serif", serif' >(</text>
<text x="689" y="75" font-size="15" text-anchor="start" font-weight="normal" fill="#4a4a4a" font-family='"Liberation Serif", serif' >×</text>
<text x="699.5" y="72.6" font-size="9" text-anchor="start" font-weight="normal" fill="#4a4a4a" font-family='"Liberation Serif", serif' >−</text>
<text x="704.8" y="73.8" font-size="10.2" text-anchor="start" font-weight="normal" fill="#4a4a4a" font-family='"Liberation Serif", serif' >4</text>
<text x="710.2" y="73.7" font-size="11.2" text-anchor="start" font-weight="normal" fill="#4a4a4a" font-family='"Liberation Serif", serif' >)</text>
<text x="587" y="131.8" font-size="12.1" text-anchor="start" font-weight="normal" fill="#262626" font-family='"Liberation Sans", sans-serif' >Delay time (ps)</text>
<text transform="translate(535.0,48.4) rotate(-90)" font-size="10" text-anchor="middle" fill="#262626" font-family='"Liberation Sans", sans-serif'>ΔR/R (arb. units)</text>
<g clip-path="url(#clipF)">
<polyline points="538.8,208.2 539.2,209.1 539.7,210.4 540.4,211.9 541.3,213.5 542.4,215.4 543.8,217.5 545.3,219.6 546.7,221.0 548.0,221.6 549.4,221.5 550.7,221.4 552.0,221.6 553.4,222.4 554.8,223.5 556.1,224.6 557.4,225.3 558.5,225.2 559.5,224.6 560.5,224.2 561.6,224.6 562.9,226.4 564.4,229.0 565.8,231.7 567.0,233.8 567.9,235.1 568.5,236.0 569.1,236.4 569.8,236.6 570.6,236.5 571.4,236.0 572.4,235.1 573.4,233.8 574.7,231.8 576.1,229.2 577.5,226.5 578.7,224.2 579.6,222.2 580.4,220.3 581.2,218.7 582.0,217.8 583.0,217.9 584.0,218.7 585.1,219.6 586.2,219.9 587.2,219.4 588.3,218.5 589.4,217.3 590.5,215.6 591.8,213.4 593.1,210.7 594.5,207.8 595.8,205.0 597.0,202.2 598.1,199.4 599.2,196.6 600.1,194.3 600.8,192.5 601.3,191.0 601.7,189.7 602.2,188.5 602.8,187.1 603.5,185.7 604.2,184.7 604.8,184.2 605.3,184.5 605.6,185.2 606.0,186.5 606.5,188.0 607.1,190.0 607.9,192.4 608.6,194.9 609.3,197.3 609.9,199.4 610.4,201.3 610.9,203.3 611.5,205.5 612.1,208.0 612.6,210.7 613.2,213.6 614.0,216.7 615.0,220.1 616.0,223.9 617.2,227.5 618.3,230.6 619.4,233.0 620.4,235.0 621.4,236.7 622.5,238.1 623.6,239.2 624.6,240.0 625.7,240.6 626.8,241.0 627.9,241.3 629.0,241.5 630.1,241.4 631.1,241.2 632.0,240.9 632.8,240.4 633.5,239.6 634.3,238.1 635.1,235.8 635.9,232.9 636.7,229.7 637.7,226.3 638.9,222.7 640.3,218.8 641.7,214.9 643.0,211.4 644.2,208.1 645.3,204.9 646.3,202.3 647.3,200.7 648.2,200.3 649.0,201.0 649.7,202.2 650.5,203.9 651.3,206.0 652.0,208.6 652.8,211.5 653.7,214.6 654.7,218.0 655.7,221.7 656.8,225.3 658.0,228.5 659.3,231.3 660.6,233.9 661.9,236.0 663.3,237.4 664.6,237.7 666.0,237.2 667.4,236.5 668.7,235.9 670.0,235.8 671.4,235.8 672.7,235.7 674.0,235.3 675.3,234.1 676.7,232.5 678.1,231.0 679.4,230.2 680.7,230.5 682.1,231.6 683.4,232.8 684.7,233.8 686.0,234.3 687.3,234.6 688.7,234.9 690.0,235.3 691.3,235.9 692.6,236.6 694.0,237.4 695.4,238.1 696.9,238.8 698.5,239.6 700.2,240.3 701.8,240.9 703.4,241.4 705.0,241.9 706.6,242.2 708.2,242.5 709.8,242.7 711.4,242.7 713.0,242.7 714.6,242.5 716.2,242.1 717.8,241.4 719.4,240.8 721.0,240.3 722.7,240.1 724.4,240.0 725.9,240.0 727.0,240.0" fill="none" stroke="#c4185c" stroke-width="1.7" stroke-linejoin="round" stroke-linecap="round" />
<polyline points="538.8,227.4 539.0,228.1 539.3,229.1 539.8,229.7 540.3,229.5 541.0,227.9 541.8,225.3 542.7,222.5 543.5,219.9 544.2,217.7 544.9,215.6 545.5,213.6 546.1,212.0 546.6,210.8 547.0,209.8 547.4,209.0 547.8,208.2 548.2,207.1 548.7,206.0 549.2,205.0 549.9,204.5 550.8,204.8 552.0,205.7 553.2,206.5 554.2,206.7 555.1,206.0 555.8,204.8 556.6,203.3 557.4,201.8 558.5,200.0 559.6,197.9 560.7,196.0 561.6,194.7 562.1,194.3 562.3,194.4 562.4,194.9 562.7,195.5 563.1,196.2 563.6,197.2 564.1,198.3 564.8,199.6 565.7,201.3 566.8,203.2 568.0,205.0 569.1,206.0 570.1,205.9 571.0,205.2 572.0,204.1 573.0,203.2 574.1,202.5 575.3,201.7 576.4,201.1 577.5,200.8 578.5,201.0 579.4,201.7 580.2,202.4 581.0,203.0 581.7,203.6 582.3,204.2 582.9,204.6 583.5,204.5 584.2,203.8 584.9,202.7 585.6,201.3 586.2,199.6 586.8,197.6 587.3,195.2 587.9,192.6 588.4,190.0 588.9,187.3 589.5,184.3 590.0,181.5 590.5,179.0 590.9,176.9 591.2,175.1 591.6,173.5 592.0,172.0 592.6,170.3 593.2,168.5 593.9,167.1 594.7,166.7 595.6,167.6 596.6,169.6 597.7,171.7 598.7,173.3 599.7,173.9 600.7,174.0 601.7,174.1 602.7,174.7 603.7,175.8 604.8,177.2 605.8,179.0 606.7,181.3 607.5,184.5 608.3,188.4 609.0,192.4 609.7,195.5 610.3,197.6 610.9,199.0 611.5,200.1 612.0,201.3 612.5,202.6 613.0,203.9 613.5,205.0 614.0,206.0 614.5,206.6 615.0,206.9 615.5,207.3 616.0,208.0 616.5,209.0 617.1,210.3 617.7,211.8 618.3,213.5 619.0,215.6 619.8,218.0 620.7,220.5 621.5,223.1 622.3,225.8 623.2,228.7 624.0,231.4 624.7,233.8 625.3,235.8 625.8,237.6 626.2,239.1 626.8,240.2 627.5,241.0 628.3,241.5 629.2,241.7 630.0,241.6 630.8,241.2 631.6,240.4 632.4,239.4 633.2,238.1 633.9,236.6 634.5,235.0 635.2,232.9 636.0,230.4 637.0,227.2 638.1,223.3 639.2,219.3 640.3,215.6 641.3,212.2 642.3,209.0 643.2,205.9 644.1,202.8 645.0,199.6 645.8,196.3 646.6,193.4 647.3,191.1 647.9,189.7 648.5,189.0 649.1,188.6 649.7,188.5 650.4,188.7 651.1,189.2 651.9,189.7 652.6,190.0 653.3,189.8 654.0,189.3 654.6,188.9 655.4,188.8 656.2,189.0 657.0,189.3 658.0,190.0 659.0,191.1 660.2,192.7 661.6,194.8 663.0,197.1 664.4,199.6 665.8,202.5 667.2,205.7 668.6,208.7 669.7,210.9 670.5,212.1 671.1,212.6 671.7,212.5 672.3,211.8 673.1,210.3 673.9,208.0 674.7,205.3 675.7,202.8 676.8,200.2 678.1,197.3 679.3,194.8 680.4,193.2 681.2,192.6 681.8,192.8 682.3,193.7 683.0,195.3 683.9,197.7 684.8,200.8 685.8,204.4 686.8,208.2 687.8,212.4 688.9,217.0 690.0,221.5 691.1,225.3 692.2,228.2 693.3,230.6 694.4,232.4 695.4,233.8 696.3,234.7 697.1,235.2 697.8,235.2 698.6,234.9 699.4,234.4 700.1,233.5 700.9,232.3 701.8,230.6 702.8,228.3 703.9,225.5 705.1,222.6 706.1,219.9 707.0,217.5 707.8,215.1 708.5,213.0 709.3,211.4 710.1,210.3 710.9,209.7 711.7,209.3 712.5,209.2 713.3,209.5 714.0,210.2 714.8,210.8 715.7,210.9 716.7,210.1 717.9,208.7 719.0,207.2 720.0,206.0 720.9,205.0 721.6,204.1 722.4,203.5 723.2,203.2 724.2,203.6 725.3,204.4 726.3,205.4 727.0,206.0" fill="none" stroke="#2a8cc2" stroke-width="1.7" stroke-linejoin="round" stroke-linecap="round" />
</g>
<rect x="538.8" y="137.9" width="186.8" height="105.1" fill="none" stroke="#3c3c3c" stroke-width="1.4"/>
<line x1="546.5" y1="137.9" x2="546.5" y2="143.5" stroke="#3c3c3c" stroke-width="1.2" />
<line x1="546.5" y1="243" x2="546.5" y2="237.4" stroke="#3c3c3c" stroke-width="1.2" />
<line x1="555.12" y1="137.9" x2="555.12" y2="140.7" stroke="#3c3c3c" stroke-width="1.2" />
<line x1="555.12" y1="243" x2="555.12" y2="240.2" stroke="#3c3c3c" stroke-width="1.2" />
<line x1="563.74" y1="137.9" x2="563.74" y2="140.7" stroke="#3c3c3c" stroke-width="1.2" />
<line x1="563.74" y1="243" x2="563.74" y2="240.2" stroke="#3c3c3c" stroke-width="1.2" />
<line x1="572.36" y1="137.9" x2="572.36" y2="140.7" stroke="#3c3c3c" stroke-width="1.2" />
<line x1="572.36" y1="243" x2="572.36" y2="240.2" stroke="#3c3c3c" stroke-width="1.2" />
<line x1="580.98" y1="137.9" x2="580.98" y2="140.7" stroke="#3c3c3c" stroke-width="1.2" />
<line x1="580.98" y1="243" x2="580.98" y2="240.2" stroke="#3c3c3c" stroke-width="1.2" />
<line x1="589.6" y1="137.9" x2="589.6" y2="143.5" stroke="#3c3c3c" stroke-width="1.2" />
<line x1="589.6" y1="243" x2="589.6" y2="237.4" stroke="#3c3c3c" stroke-width="1.2" />
<line x1="598.22" y1="137.9" x2="598.22" y2="140.7" stroke="#3c3c3c" stroke-width="1.2" />
<line x1="598.22" y1="243" x2="598.22" y2="240.2" stroke="#3c3c3c" stroke-width="1.2" />
<line x1="606.84" y1="137.9" x2="606.84" y2="140.7" stroke="#3c3c3c" stroke-width="1.2" />
<line x1="606.84" y1="243" x2="606.84" y2="240.2" stroke="#3c3c3c" stroke-width="1.2" />
<line x1="615.46" y1="137.9" x2="615.46" y2="140.7" stroke="#3c3c3c" stroke-width="1.2" />
<line x1="615.46" y1="243" x2="615.46" y2="240.2" stroke="#3c3c3c" stroke-width="1.2" />
<line x1="624.08" y1="137.9" x2="624.08" y2="140.7" stroke="#3c3c3c" stroke-width="1.2" />
<line x1="624.08" y1="243" x2="624.08" y2="240.2" stroke="#3c3c3c" stroke-width="1.2" />
<line x1="632.7" y1="137.9" x2="632.7" y2="143.5" stroke="#3c3c3c" stroke-width="1.2" />
<line x1="632.7" y1="243" x2="632.7" y2="237.4" stroke="#3c3c3c" stroke-width="1.2" />
<line x1="641.32" y1="137.9" x2="641.32" y2="140.7" stroke="#3c3c3c" stroke-width="1.2" />
<line x1="641.32" y1="243" x2="641.32" y2="240.2" stroke="#3c3c3c" stroke-width="1.2" />
<line x1="649.94" y1="137.9" x2="649.94" y2="140.7" stroke="#3c3c3c" stroke-width="1.2" />
<line x1="649.94" y1="243" x2="649.94" y2="240.2" stroke="#3c3c3c" stroke-width="1.2" />
<line x1="658.56" y1="137.9" x2="658.56" y2="140.7" stroke="#3c3c3c" stroke-width="1.2" />
<line x1="658.56" y1="243" x2="658.56" y2="240.2" stroke="#3c3c3c" stroke-width="1.2" />
<line x1="667.18" y1="137.9" x2="667.18" y2="140.7" stroke="#3c3c3c" stroke-width="1.2" />
<line x1="667.18" y1="243" x2="667.18" y2="240.2" stroke="#3c3c3c" stroke-width="1.2" />
<line x1="675.8" y1="137.9" x2="675.8" y2="143.5" stroke="#3c3c3c" stroke-width="1.2" />
<line x1="675.8" y1="243" x2="675.8" y2="237.4" stroke="#3c3c3c" stroke-width="1.2" />
<line x1="684.42" y1="137.9" x2="684.42" y2="140.7" stroke="#3c3c3c" stroke-width="1.2" />
<line x1="684.42" y1="243" x2="684.42" y2="240.2" stroke="#3c3c3c" stroke-width="1.2" />
<line x1="693.04" y1="137.9" x2="693.04" y2="140.7" stroke="#3c3c3c" stroke-width="1.2" />
<line x1="693.04" y1="243" x2="693.04" y2="240.2" stroke="#3c3c3c" stroke-width="1.2" />
<line x1="701.66" y1="137.9" x2="701.66" y2="140.7" stroke="#3c3c3c" stroke-width="1.2" />
<line x1="701.66" y1="243" x2="701.66" y2="240.2" stroke="#3c3c3c" stroke-width="1.2" />
<line x1="710.28" y1="137.9" x2="710.28" y2="140.7" stroke="#3c3c3c" stroke-width="1.2" />
<line x1="710.28" y1="243" x2="710.28" y2="240.2" stroke="#3c3c3c" stroke-width="1.2" />
<line x1="718.9" y1="137.9" x2="718.9" y2="143.5" stroke="#3c3c3c" stroke-width="1.2" />
<line x1="718.9" y1="243" x2="718.9" y2="237.4" stroke="#3c3c3c" stroke-width="1.2" />
<text x="547.6" y="256.7" font-size="11.6" text-anchor="middle" font-weight="normal" fill="#262626" font-family='"Liberation Sans", sans-serif' >1.0</text>
<text x="589.8" y="256.7" font-size="11.6" text-anchor="middle" font-weight="normal" fill="#262626" font-family='"Liberation Sans", sans-serif' >1.5</text>
<text x="631.9" y="256.7" font-size="11.6" text-anchor="middle" font-weight="normal" fill="#262626" font-family='"Liberation Sans", sans-serif' >2.0</text>
<text x="674.4" y="256.7" font-size="11.6" text-anchor="middle" font-weight="normal" fill="#262626" font-family='"Liberation Sans", sans-serif' >2.5</text>
<text x="718.4" y="256.7" font-size="11.6" text-anchor="middle" font-weight="normal" fill="#262626" font-family='"Liberation Sans", sans-serif' >3.0</text>
<line x1="538.8" y1="158.9" x2="545" y2="158.9" stroke="#3c3c3c" stroke-width="1.3" />
<line x1="725.6" y1="158.9" x2="719.8" y2="158.9" stroke="#3c3c3c" stroke-width="1.3" />
<line x1="538.8" y1="180.6" x2="545" y2="180.6" stroke="#3c3c3c" stroke-width="1.3" />
<line x1="725.6" y1="180.6" x2="719.8" y2="180.6" stroke="#3c3c3c" stroke-width="1.3" />
<line x1="538.8" y1="202.2" x2="545" y2="202.2" stroke="#3c3c3c" stroke-width="1.3" />
<line x1="725.6" y1="202.2" x2="719.8" y2="202.2" stroke="#3c3c3c" stroke-width="1.3" />
<line x1="538.8" y1="223.8" x2="545" y2="223.8" stroke="#3c3c3c" stroke-width="1.3" />
<line x1="725.6" y1="223.8" x2="719.8" y2="223.8" stroke="#3c3c3c" stroke-width="1.3" />
<text x="546.4" y="156.8" font-size="14.2" text-anchor="start" font-weight="bold" fill="#111" font-family='"Liberation Sans", sans-serif' >(f)</text>
<text x="549.5" y="180.4" font-size="11" text-anchor="start" font-weight="normal" fill="#262626" font-family='"Liberation Sans", sans-serif' >A</text>
<text x="557.4" y="186.2" font-size="10.8" text-anchor="start" font-weight="normal" fill="#262626" font-family='"Liberation Sans", sans-serif' >1g</text>
<line x1="554.3" y1="186.5" x2="548" y2="214.7" stroke="#333" stroke-width="0.9" />
<text x="691.6" y="179.9" font-size="11" text-anchor="start" font-weight="normal" fill="#262626" font-family='"Liberation Sans", sans-serif' >B</text>
<text x="698.2" y="185.6" font-size="10.8" text-anchor="start" font-weight="normal" fill="#262626" font-family='"Liberation Sans", sans-serif' >2g</text>
<line x1="698.1" y1="187.6" x2="707.7" y2="213.7" stroke="#333" stroke-width="0.9" />
<text x="608.4" y="269.4" font-size="12" text-anchor="start" font-weight="normal" fill="#262626" font-family='"Liberation Sans", sans-serif' >ν (THz)</text>
<text transform="translate(534.4,186.9) rotate(-90)" font-size="10.2" text-anchor="middle" fill="#262626" font-family='"Liberation Sans", sans-serif'>FFT power (arb. units)</text>
</svg>
</body></html>
